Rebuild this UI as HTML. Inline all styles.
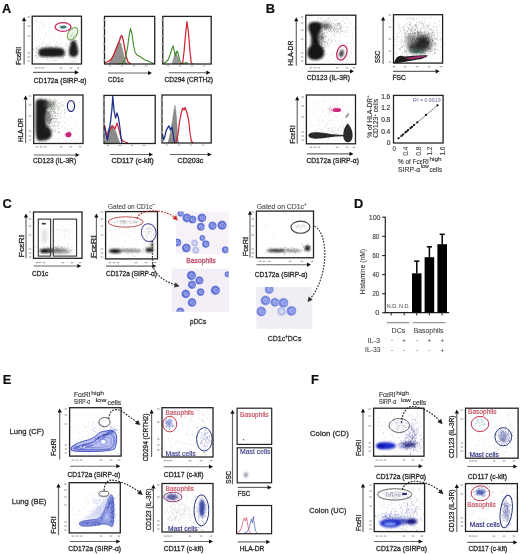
<!DOCTYPE html>
<html><head><meta charset="utf-8"><style>
html,body{margin:0;padding:0;background:#fff;}
svg{display:block;font-family:"Liberation Sans", sans-serif;will-change:transform;}
</style></head><body>
<svg width="520" height="554" viewBox="0 0 520 554">
<defs>
<filter id="soft" x="0" y="0" width="520" height="554" filterUnits="userSpaceOnUse"><feGaussianBlur stdDeviation="0.3"/></filter>
<filter id="b3" filterUnits="userSpaceOnUse" x="0" y="0" width="520" height="554"><feGaussianBlur stdDeviation="0.3"/></filter>
<filter id="b5" filterUnits="userSpaceOnUse" x="0" y="0" width="520" height="554"><feGaussianBlur stdDeviation="0.5"/></filter>
<filter id="b6" filterUnits="userSpaceOnUse" x="0" y="0" width="520" height="554"><feGaussianBlur stdDeviation="0.6"/></filter>
<filter id="b7" filterUnits="userSpaceOnUse" x="0" y="0" width="520" height="554"><feGaussianBlur stdDeviation="0.7"/></filter>
<filter id="b8" filterUnits="userSpaceOnUse" x="0" y="0" width="520" height="554"><feGaussianBlur stdDeviation="0.8"/></filter>
<filter id="b9" filterUnits="userSpaceOnUse" x="0" y="0" width="520" height="554"><feGaussianBlur stdDeviation="0.9"/></filter>
<filter id="b10" filterUnits="userSpaceOnUse" x="0" y="0" width="520" height="554"><feGaussianBlur stdDeviation="1.0"/></filter>
<filter id="b12" filterUnits="userSpaceOnUse" x="0" y="0" width="520" height="554"><feGaussianBlur stdDeviation="1.2"/></filter>
<filter id="b15" filterUnits="userSpaceOnUse" x="0" y="0" width="520" height="554"><feGaussianBlur stdDeviation="1.5"/></filter>
<filter id="b20" filterUnits="userSpaceOnUse" x="0" y="0" width="520" height="554"><feGaussianBlur stdDeviation="2.0"/></filter>
<radialGradient id="cell" cx="50%" cy="50%" r="50%"><stop offset="0" stop-color="#6f7fdc"/><stop offset="0.75" stop-color="#5c6cd2"/><stop offset="1" stop-color="#8e9ae4"/></radialGradient>
<radialGradient id="cellD" cx="50%" cy="50%" r="50%"><stop offset="0" stop-color="#8a98e6"/><stop offset="0.75" stop-color="#7282dc"/><stop offset="1" stop-color="#a4aeea"/></radialGradient>
<radialGradient id="cellL" cx="50%" cy="50%" r="50%"><stop offset="0" stop-color="#e4e6f8"/><stop offset="0.8" stop-color="#b0b8ec"/><stop offset="1" stop-color="#c8cef2"/></radialGradient>
</defs>
<rect width="520" height="554" fill="#fff"/>
<g filter="url(#soft)">
<text x="2" y="13.3" font-size="12.8" fill="#111" stroke="#111" stroke-width="0.2" font-weight="bold">A</text>
<text x="265.8" y="13.3" font-size="12.8" fill="#111" stroke="#111" stroke-width="0.2" font-weight="bold">B</text>
<text x="2.4" y="207.5" font-size="12.8" fill="#111" stroke="#111" stroke-width="0.2" font-weight="bold">C</text>
<text x="354" y="208.3" font-size="12.8" fill="#111" stroke="#111" stroke-width="0.2" font-weight="bold">D</text>
<text x="2.8" y="383.8" font-size="12.8" fill="#111" stroke="#111" stroke-width="0.2" font-weight="bold">E</text>
<text x="311" y="383.8" font-size="12.8" fill="#111" stroke="#111" stroke-width="0.2" font-weight="bold">F</text>
<path d="M48.5,23.9h0.7M64.2,20.3h0.7M58.7,33.8h0.7M35.8,40.3h0.7M34.8,36.9h0.7M36.4,21.2h0.7M53.4,55.0h0.7M38.9,27.3h0.7M63.1,60.6h0.7M60.7,35.2h0.7M79.9,19.1h0.7M74.2,30.3h0.7M39.9,22.4h0.7M47.8,54.5h0.7M41.7,43.8h0.7M63.7,34.1h0.7M59.3,19.9h0.7M35.9,26.5h0.7M65.7,36.7h0.7M48.1,43.9h0.7M54.8,30.8h0.7M71.1,49.2h0.7M44.7,43.4h0.7M58.2,57.3h0.7M68.0,30.2h0.7M80.0,22.4h0.7M53.1,51.8h0.7M40.3,39.5h0.7M34.9,47.7h0.7M69.7,43.4h0.7M75.0,31.4h0.7M66.4,44.3h0.7M60.8,38.0h0.7M73.3,60.5h0.7M55.8,47.6h0.7M35.9,49.3h0.7M64.1,62.7h0.7M72.5,30.1h0.7M51.5,47.8h0.7M34.1,38.2h0.7M41.1,22.4h0.7M35.8,52.3h0.7M39.2,28.4h0.7M51.8,57.1h0.7M36.9,37.7h0.7M59.4,57.6h0.7M72.3,56.7h0.7M46.4,36.1h0.7M50.2,57.7h0.7M79.0,23.9h0.7M41.5,27.7h0.7M44.2,39.3h0.7M61.3,29.1h0.7M33.2,36.3h0.7M50.7,43.1h0.7M78.7,48.8h0.7M57.7,45.4h0.7M65.5,19.5h0.7M76.2,52.9h0.7M75.0,53.7h0.7M51.8,35.4h0.7M38.0,46.2h0.7M36.0,20.1h0.7M43.0,24.5h0.7M49.3,19.4h0.7M33.0,24.0h0.7M37.9,33.7h0.7M34.2,57.2h0.7M62.5,23.8h0.7M45.1,33.0h0.7M50.5,22.7h0.7M73.7,62.7h0.7M55.4,39.3h0.7M37.1,21.7h0.7M49.4,29.2h0.7M72.8,24.4h0.7M34.1,60.7h0.7M58.4,23.7h0.7M59.1,18.2h0.7M58.3,62.0h0.7M74.4,49.0h0.7M45.5,33.9h0.7M41.0,52.5h0.7M58.6,52.8h0.7M48.8,27.3h0.7M72.0,62.3h0.7M73.9,54.1h0.7M72.3,51.0h0.7M43.9,40.8h0.7M50.1,18.3h0.7M34.3,29.9h0.7M45.4,48.9h0.7M78.9,37.6h0.7M78.0,62.4h0.7M78.8,33.8h0.7M43.6,27.4h0.7M42.4,26.4h0.7M63.0,58.4h0.7M73.3,39.1h0.7M64.3,53.8h0.7M37.1,47.4h0.7M76.7,53.0h0.7M69.0,39.0h0.7M41.6,53.3h0.7M49.0,53.8h0.7M79.6,35.2h0.7M52.3,60.6h0.7M67.8,24.8h0.7M39.1,24.0h0.7M76.4,54.1h0.7" stroke="#666" stroke-width="0.7" stroke-opacity="0.3"/>
<path d="M60.1,57.2h0.7M62.6,51.4h0.7M45.0,55.6h0.7M51.9,52.4h0.7M62.4,51.1h0.7M32.6,50.6h0.7M36.2,54.9h0.7M53.5,49.9h0.7M50.9,54.9h0.7M51.6,56.6h0.7M50.5,55.6h0.7M62.9,57.6h0.7M45.6,55.1h0.7M36.0,48.2h0.7M35.3,55.7h0.7M41.1,52.0h0.7M49.5,51.9h0.7M46.3,52.8h0.7M65.3,52.2h0.7M55.2,55.5h0.7M49.4,47.6h0.7M46.6,55.8h0.7M37.8,49.9h0.7M59.1,54.8h0.7M51.1,54.8h0.7M52.3,47.9h0.7M38.5,49.8h0.7M58.4,50.0h0.7M43.8,49.3h0.7M38.7,51.6h0.7M41.6,53.3h0.7M45.9,45.2h0.7M56.8,51.0h0.7M33.2,48.9h0.7M53.3,50.4h0.7M57.2,54.6h0.7M56.3,53.1h0.7M61.7,54.3h0.7M54.6,44.7h0.7M58.2,56.6h0.7M48.6,50.4h0.7M66.5,45.8h0.7M54.8,60.5h0.7M43.6,54.4h0.7M66.1,51.6h0.7M55.5,55.2h0.7M43.8,51.7h0.7M53.3,54.9h0.7M50.7,51.3h0.7M42.9,50.7h0.7M58.1,52.4h0.7M44.2,49.1h0.7M72.3,56.0h0.7M56.1,42.9h0.7M56.0,53.7h0.7M64.5,53.5h0.7M50.5,53.8h0.7M35.4,55.6h0.7M53.6,49.5h0.7M61.6,58.3h0.7M39.8,49.7h0.7M53.3,52.6h0.7M47.8,48.6h0.7M68.0,55.6h0.7M41.4,47.3h0.7M64.6,55.5h0.7M65.6,54.8h0.7M44.0,52.9h0.7M33.7,49.4h0.7M50.5,53.8h0.7M45.2,51.6h0.7M54.7,53.3h0.7M56.1,52.7h0.7M48.4,54.8h0.7M51.4,49.1h0.7M46.0,52.0h0.7M50.1,52.5h0.7M51.0,52.6h0.7M49.9,47.6h0.7M54.4,55.7h0.7M54.5,51.3h0.7M54.6,48.6h0.7M35.8,52.2h0.7M43.6,54.6h0.7M42.3,42.8h0.7M42.7,57.5h0.7M47.9,47.2h0.7M44.9,53.8h0.7M55.0,52.6h0.7M62.9,54.5h0.7M50.8,54.1h0.7M64.2,55.4h0.7M59.2,48.2h0.7M49.8,54.6h0.7M48.6,55.7h0.7M55.8,55.2h0.7M49.3,60.9h0.7M60.9,51.2h0.7M51.7,61.1h0.7M48.3,55.1h0.7M58.8,52.0h0.7M41.7,52.7h0.7M53.9,56.0h0.7M57.3,52.1h0.7M57.8,53.9h0.7M52.6,52.2h0.7M49.1,54.4h0.7M42.6,49.8h0.7M51.0,46.9h0.7M47.5,45.0h0.7M45.5,54.0h0.7M55.5,51.8h0.7M49.1,47.0h0.7M65.6,53.8h0.7M59.7,48.9h0.7M49.5,45.6h0.7M57.2,55.3h0.7M35.8,51.8h0.7M56.0,45.8h0.7M36.4,48.3h0.7M46.0,47.1h0.7M51.3,52.9h0.7M56.1,54.5h0.7M63.0,56.1h0.7M40.5,50.2h0.7M42.5,48.2h0.7M50.3,52.0h0.7M54.9,46.4h0.7M41.1,51.9h0.7M49.4,50.9h0.7M50.5,49.3h0.7M56.6,53.2h0.7M50.3,49.6h0.7M49.6,42.5h0.7M43.1,52.1h0.7M39.0,52.7h0.7M52.2,47.2h0.7M49.0,50.9h0.7M54.7,54.1h0.7M50.7,49.0h0.7M49.8,51.8h0.7M56.9,53.0h0.7M45.2,47.3h0.7M48.0,49.4h0.7M42.1,51.6h0.7M47.1,52.4h0.7M55.2,50.6h0.7M69.6,50.9h0.7M59.8,52.4h0.7M59.9,43.7h0.7M45.0,52.9h0.7M55.8,60.2h0.7M53.6,56.5h0.7M57.1,55.3h0.7M55.1,51.5h0.7M55.1,48.2h0.7M60.5,48.4h0.7M53.0,59.4h0.7M49.2,52.1h0.7M60.3,52.1h0.7M44.5,52.9h0.7M55.7,54.5h0.7M44.8,58.1h0.7M64.3,52.1h0.7M53.1,50.5h0.7M62.3,49.5h0.7M56.4,50.3h0.7M45.4,54.5h0.7M61.7,52.0h0.7M45.6,54.8h0.7M50.6,53.1h0.7M63.2,56.0h0.7M46.8,60.0h0.7M51.0,54.8h0.7M45.8,51.8h0.7M37.0,58.3h0.7M61.9,47.7h0.7M39.0,46.3h0.7M60.4,50.4h0.7M50.5,50.9h0.7M50.0,48.2h0.7M51.2,47.0h0.7M50.4,53.1h0.7M54.7,51.2h0.7M43.8,52.6h0.7M47.1,57.5h0.7M57.1,51.6h0.7M47.2,49.5h0.7M43.5,50.8h0.7M53.4,53.8h0.7M55.6,59.3h0.7M45.4,52.0h0.7M73.4,45.5h0.7M46.8,52.6h0.7M52.2,53.4h0.7M49.1,53.3h0.7M51.4,54.7h0.7M35.9,48.9h0.7M51.0,48.4h0.7M42.6,54.2h0.7M45.8,54.2h0.7M57.0,53.1h0.7M55.1,51.6h0.7M39.7,51.9h0.7M54.6,50.1h0.7M50.2,54.6h0.7M44.0,54.2h0.7M65.9,50.1h0.7M52.2,51.5h0.7M63.3,53.1h0.7M58.2,49.6h0.7M50.9,52.0h0.7M36.8,57.0h0.7M58.2,45.9h0.7M57.0,51.5h0.7M54.6,53.3h0.7M39.0,51.3h0.7M62.9,50.0h0.7M42.8,47.2h0.7" stroke="#333" stroke-width="0.7" stroke-opacity="0.5"/>
<path d="M39,50 C40,48 46,47.6 52,47.8 C58,47.6 63,48 64,50 C64.8,52 64.5,55 63,56.3 C58,56.8 46,56.8 40,56.5 C38.2,55 38.2,52 39,50 Z" fill="#1a1a1a" filter="url(#b10)"/>
<path d="M71.5,41 C73,40.2 75.5,40.5 76,42 C76.5,45 77.5,48 78,51 C78.3,54 77.5,56.5 74,56.8 C70.5,57 69,55.5 69,52 C69,48 70.5,45 71.5,41 Z" fill="#1a1a1a" filter="url(#b10)"/>
<path d="M70.1,50.8h0.7M78.2,51.4h0.7M74.2,61.3h0.7M72.0,45.3h0.7M75.0,52.0h0.7M70.7,42.6h0.7M74.3,50.4h0.7M69.8,47.9h0.7M72.0,51.5h0.7M73.2,48.5h0.7M72.5,54.8h0.7M77.4,47.0h0.7M75.9,44.8h0.7M73.7,53.1h0.7M77.7,46.9h0.7M73.3,50.1h0.7M69.3,49.1h0.7M71.6,51.0h0.7M70.3,38.1h0.7M73.6,50.4h0.7M72.0,53.9h0.7M72.7,45.7h0.7M74.8,40.4h0.7M71.6,48.9h0.7M75.9,48.1h0.7M74.4,45.4h0.7M74.3,58.1h0.7M71.6,62.0h0.7M71.7,49.1h0.7M74.0,54.6h0.7M70.0,37.4h0.7M75.2,53.4h0.7M75.2,63.5h0.7M74.1,50.4h0.7M76.1,51.0h0.7M78.2,42.2h0.7M72.4,30.1h0.7M75.8,47.0h0.7M76.1,60.8h0.7M73.5,47.6h0.7M72.1,44.4h0.7M71.7,52.5h0.7M73.6,49.4h0.7M73.0,54.0h0.7M74.9,48.2h0.7M75.4,48.2h0.7M70.3,57.0h0.7M74.8,43.7h0.7M76.5,50.9h0.7M69.1,57.9h0.7M74.4,53.9h0.7M74.1,48.2h0.7M69.2,54.3h0.7M73.6,47.4h0.7M74.5,49.4h0.7M75.4,47.0h0.7M73.4,37.2h0.7M72.3,52.7h0.7M77.2,47.0h0.7M73.2,57.7h0.7M72.6,53.0h0.7M78.2,49.2h0.7M76.9,45.1h0.7M74.1,48.6h0.7M73.8,55.2h0.7M80.2,45.3h0.7M71.9,51.7h0.7M70.5,51.7h0.7M75.1,47.5h0.7M75.0,40.5h0.7M75.6,40.5h0.7M71.5,45.9h0.7M72.4,53.7h0.7M73.7,46.8h0.7M75.0,57.7h0.7M73.5,51.0h0.7M77.0,50.5h0.7M69.9,62.7h0.7M79.7,38.1h0.7M73.4,51.3h0.7M76.2,52.7h0.7M72.7,43.2h0.7M73.8,54.7h0.7M70.4,43.4h0.7M73.4,38.3h0.7M72.8,46.6h0.7M74.8,45.1h0.7M71.0,46.8h0.7M73.4,45.3h0.7M73.5,53.1h0.7" stroke="#333" stroke-width="0.7" stroke-opacity="0.5"/>
<ellipse cx="63.2" cy="27" rx="3.2" ry="1.5" fill="#3f7a80" fill-opacity="1.0" filter="url(#b6)"/>
<path d="M66.0,29.0h0.7M61.0,26.5h0.7M56.8,29.3h0.7M61.2,27.0h0.7M64.3,25.4h0.7M64.2,27.0h0.7M58.4,27.4h0.7M66.0,24.8h0.7M65.0,27.3h0.7M64.2,27.5h0.7M66.3,26.7h0.7M65.2,26.5h0.7M64.8,26.0h0.7M62.7,29.1h0.7M64.1,26.8h0.7M60.1,26.1h0.7M63.5,28.1h0.7M64.1,27.6h0.7M62.9,28.6h0.7M62.0,26.3h0.7M65.2,27.1h0.7M62.3,26.3h0.7M62.4,27.7h0.7M63.9,25.5h0.7M64.1,27.2h0.7" stroke="#4a8a8a" stroke-width="0.7" stroke-opacity="0.6"/>
<ellipse cx="63" cy="27" rx="8" ry="4.3" fill="none" stroke="#c42a6a" stroke-width="1.3"/>
<path d="M70.7,35.9h0.7M72.0,33.2h0.7M73.9,37.3h0.7M71.3,35.1h0.7M70.9,39.8h0.7M71.6,37.0h0.7M71.3,36.0h0.7M76.5,27.6h0.7M71.7,35.3h0.7M72.3,32.3h0.7M76.4,34.2h0.7M69.5,36.1h0.7M69.4,36.9h0.7M71.5,34.4h0.7M74.8,34.3h0.7M70.0,29.8h0.7M74.6,35.9h0.7M71.0,36.1h0.7M73.4,35.6h0.7M68.4,33.2h0.7M74.1,35.8h0.7M74.1,27.9h0.7M72.8,35.2h0.7M77.1,31.6h0.7M71.9,34.1h0.7" stroke="#7a9a7a" stroke-width="0.7" stroke-opacity="0.6"/>
<ellipse cx="72.6" cy="33.7" rx="4.2" ry="7" fill="rgba(200,230,190,0.35)" stroke="#78a858" stroke-width="1.1" transform="rotate(35 72.6 33.7)"/>
<rect x="32.2" y="16.2" width="49.3" height="47.8" fill="none" stroke="#222" stroke-width="1.3"/>
<line x1="24.1" y1="64.5" x2="24.1" y2="19.9" stroke="#666" stroke-width="1.15"/>
<path d="M22,20.9 L24.1,16.9 L26.2,20.9 Z" fill="#111"/>
<line x1="33" y1="72.4" x2="75.9" y2="72.4" stroke="#666" stroke-width="1.15"/>
<path d="M74.9,70.3 L78.9,72.4 L74.9,74.5 Z" fill="#111"/>
<rect x="27.5" y="16.4" width="2.6" height="1.2" fill="#aaa"/>
<rect x="27.5" y="25.4" width="2.6" height="1.2" fill="#aaa"/>
<rect x="27.5" y="35.4" width="2.6" height="1.2" fill="#aaa"/>
<rect x="27.5" y="52.4" width="2.6" height="1.2" fill="#aaa"/>
<rect x="27.5" y="56.4" width="2.6" height="1.2" fill="#aaa"/>
<rect x="27.5" y="60.4" width="2.6" height="1.2" fill="#aaa"/>
<rect x="34.7" y="67.3" width="2.6" height="1.2" fill="#aaa"/>
<rect x="38.2" y="67.3" width="2.6" height="1.2" fill="#aaa"/>
<rect x="41.7" y="67.3" width="2.6" height="1.2" fill="#aaa"/>
<rect x="59.7" y="67.3" width="2.6" height="1.2" fill="#aaa"/>
<rect x="69.7" y="67.3" width="2.6" height="1.2" fill="#aaa"/>
<rect x="76.7" y="67.3" width="2.6" height="1.2" fill="#aaa"/>
<text x="21" y="65" font-size="6.8" fill="#2a2a2a" stroke="#2a2a2a" stroke-width="0.3" textLength="18.3" lengthAdjust="spacingAndGlyphs" transform="rotate(-90 21 65)">FcεRI</text>
<text x="33.7" y="83" font-size="6.8" fill="#2a2a2a" stroke="#2a2a2a" stroke-width="0.3" textLength="52.8" lengthAdjust="spacingAndGlyphs">CD172a (SIRP-α)</text>
<path d="M108,64 L111,60 L114,54 L117,46 L119,40.7 L121,44 L123,52 L125,60 L127,64" fill="#959090" fill-opacity="1" stroke="#888" stroke-width="0.6" stroke-linejoin="round"/>
<path d="M104.5,63 L107,62 L110,60.5 L112,58 L114,54 L116,49 L118,44 L119.5,41 L120.5,37 L121.8,35.5 L123,39 L124.5,47 L126,56 L128,62 L131,64" fill="none" fill-opacity="1" stroke="#c82030" stroke-width="1.3" stroke-linejoin="round"/>
<path d="M118,64 L123,63 L125.5,58 L127.5,48 L129,36 L130.5,28.5 L132,34 L133.5,45 L135,52 L137,55 L139,56 L142,58 L145,60 L148,61 L151,62.5 L154,63.5" fill="none" fill-opacity="1" stroke="#3f8a2a" stroke-width="1.1" stroke-linejoin="round"/>
<rect x="104.5" y="16.4" width="50.2" height="47.6" fill="none" stroke="#222" stroke-width="1.3"/>
<line x1="108" y1="73" x2="149" y2="73" stroke="#666" stroke-width="1.15"/>
<path d="M148,70.9 L152,73 L148,75.1 Z" fill="#111"/>
<rect x="102.8" y="19.4" width="2.6" height="1.2" fill="#bbb"/>
<rect x="102.8" y="27.4" width="2.6" height="1.2" fill="#bbb"/>
<rect x="102.8" y="35.4" width="2.6" height="1.2" fill="#bbb"/>
<rect x="102.8" y="43.4" width="2.6" height="1.2" fill="#bbb"/>
<rect x="102.8" y="51.4" width="2.6" height="1.2" fill="#bbb"/>
<rect x="102.8" y="59.4" width="2.6" height="1.2" fill="#bbb"/>
<rect x="108.7" y="65.3" width="2.6" height="1.2" fill="#bbb"/>
<rect x="120.7" y="65.3" width="2.6" height="1.2" fill="#bbb"/>
<rect x="132.7" y="65.3" width="2.6" height="1.2" fill="#bbb"/>
<rect x="144.7" y="65.3" width="2.6" height="1.2" fill="#bbb"/>
<text x="108" y="82" font-size="6.8" fill="#2a2a2a" stroke="#2a2a2a" stroke-width="0.3" textLength="15.5" lengthAdjust="spacingAndGlyphs">CD1c</text>
<path d="M172,64 L174,57 L175.5,52 L177,55 L178.5,58 L180,64" fill="#999" fill-opacity="1" stroke="#888" stroke-width="0.5" stroke-linejoin="round"/>
<path d="M163,63.5 L166,62 L168,60 L170,55 L171.5,50 L173.2,45.8 L174.5,52 L175.5,56 L177,51 L178.5,54 L179.5,60 L181,63 L184,63.5 L186,62.5 L188,63.5" fill="none" fill-opacity="1" stroke="#3f8a2a" stroke-width="1.1" stroke-linejoin="round"/>
<path d="M180,64 L182.7,63 L184,52 L185.5,35 L187,21.6 L188.5,33 L190,52 L191.3,63 L193,64" fill="none" fill-opacity="1" stroke="#d02030" stroke-width="1.2" stroke-linejoin="round"/>
<rect x="162.8" y="16.4" width="48.4" height="47.6" fill="none" stroke="#222" stroke-width="1.3"/>
<line x1="168.8" y1="72.7" x2="207.4" y2="72.7" stroke="#666" stroke-width="1.15"/>
<path d="M206.4,70.6 L210.4,72.7 L206.4,74.8 Z" fill="#111"/>
<rect x="161" y="19.4" width="2.6" height="1.2" fill="#bbb"/>
<rect x="161" y="27.4" width="2.6" height="1.2" fill="#bbb"/>
<rect x="161" y="35.4" width="2.6" height="1.2" fill="#bbb"/>
<rect x="161" y="43.4" width="2.6" height="1.2" fill="#bbb"/>
<rect x="161" y="51.4" width="2.6" height="1.2" fill="#bbb"/>
<rect x="161" y="59.4" width="2.6" height="1.2" fill="#bbb"/>
<rect x="166.7" y="65.3" width="2.6" height="1.2" fill="#bbb"/>
<rect x="178.7" y="65.3" width="2.6" height="1.2" fill="#bbb"/>
<rect x="190.7" y="65.3" width="2.6" height="1.2" fill="#bbb"/>
<rect x="202.7" y="65.3" width="2.6" height="1.2" fill="#bbb"/>
<text x="164.5" y="82" font-size="6.8" fill="#2a2a2a" stroke="#2a2a2a" stroke-width="0.3" textLength="48.5" lengthAdjust="spacingAndGlyphs">CD294 (CRTH2)</text>
<path d="M78.5,113.8h0.7M77.4,124.5h0.7M73.6,103.4h0.7M71.7,106.2h0.7M53.4,134.9h0.7M73.8,104.4h0.7M44.5,114.4h0.7M58.9,113.6h0.7M39.9,107.4h0.7M68.8,137.3h0.7M36.0,121.9h0.7M70.4,97.8h0.7M74.2,101.4h0.7M62.8,121.3h0.7M64.1,110.1h0.7M54.2,122.8h0.7M54.4,126.3h0.7M55.4,116.2h0.7M35.1,124.5h0.7M57.5,106.8h0.7M70.7,131.9h0.7M56.0,104.3h0.7M56.7,100.9h0.7M40.2,115.8h0.7M38.4,116.3h0.7M58.5,97.9h0.7M64.5,99.8h0.7M69.2,131.8h0.7M58.6,98.5h0.7M58.2,113.4h0.7M79.6,102.3h0.7M75.1,141.8h0.7M69.1,133.5h0.7M43.3,141.2h0.7M57.6,140.0h0.7M78.0,103.6h0.7M71.8,138.8h0.7M37.1,112.1h0.7M70.3,103.3h0.7M77.0,108.6h0.7M73.2,102.6h0.7M58.1,138.3h0.7M44.0,108.1h0.7M58.3,110.7h0.7M35.8,104.4h0.7M41.7,139.1h0.7M66.6,137.2h0.7M42.1,132.1h0.7M39.5,120.4h0.7M64.5,112.5h0.7M75.9,121.5h0.7M61.8,136.6h0.7M39.0,141.7h0.7M64.2,114.1h0.7M72.3,108.2h0.7M81.5,122.6h0.7M51.3,131.2h0.7M55.2,104.1h0.7M69.7,98.2h0.7M73.4,107.7h0.7M64.7,141.3h0.7M62.1,126.5h0.7M49.0,96.1h0.7M35.6,102.9h0.7M63.6,115.9h0.7M58.6,137.2h0.7M40.3,106.5h0.7M65.3,97.0h0.7M34.1,112.3h0.7M39.1,112.4h0.7M44.8,122.8h0.7M62.3,105.4h0.7M63.9,117.8h0.7M40.5,139.1h0.7M45.7,102.9h0.7M38.6,125.4h0.7M75.8,132.0h0.7M53.3,108.2h0.7M34.6,125.7h0.7M61.0,112.1h0.7M65.0,116.4h0.7M79.0,129.7h0.7M45.9,137.6h0.7M36.1,120.5h0.7M53.5,106.9h0.7M36.8,131.8h0.7M34.6,121.3h0.7M79.2,102.5h0.7M43.6,124.0h0.7M58.3,125.5h0.7M73.0,104.0h0.7M48.9,109.8h0.7M36.3,136.9h0.7M71.6,128.9h0.7M34.3,134.8h0.7M69.8,117.4h0.7M69.6,116.8h0.7M44.8,100.8h0.7M45.2,97.8h0.7M50.1,130.5h0.7M67.4,134.9h0.7M68.2,108.2h0.7M60.6,116.1h0.7M71.8,120.1h0.7M46.7,125.5h0.7M80.3,106.0h0.7M76.2,96.7h0.7M46.5,106.9h0.7M69.7,139.5h0.7M69.8,111.0h0.7M76.2,111.1h0.7M45.5,137.7h0.7M64.3,127.9h0.7M65.9,141.0h0.7M56.5,134.6h0.7M67.5,135.4h0.7M55.0,129.3h0.7M61.4,110.2h0.7M44.2,124.6h0.7M37.7,137.9h0.7M40.9,97.2h0.7M39.1,138.7h0.7M50.6,102.5h0.7M35.4,97.9h0.7M67.2,125.2h0.7M67.5,129.9h0.7M37.2,123.2h0.7M51.4,133.6h0.7M73.3,137.0h0.7M37.2,135.9h0.7M77.9,139.4h0.7M39.1,105.5h0.7M39.4,97.6h0.7M74.7,133.4h0.7M64.4,134.0h0.7M64.3,109.2h0.7M38.8,100.5h0.7M70.4,105.4h0.7M49.3,115.5h0.7M35.0,107.8h0.7M47.6,128.9h0.7M51.7,110.8h0.7M80.3,119.2h0.7M74.9,124.4h0.7M35.5,115.0h0.7M54.9,131.6h0.7M50.6,128.4h0.7M59.8,106.0h0.7M75.4,100.2h0.7M73.4,103.8h0.7M34.1,105.3h0.7M70.6,141.0h0.7M34.2,118.6h0.7M57.6,132.7h0.7M42.9,118.8h0.7M50.7,134.3h0.7M46.5,139.4h0.7M47.6,105.9h0.7M67.6,118.9h0.7M39.3,125.3h0.7" stroke="#555" stroke-width="0.7" stroke-opacity="0.3"/>
<path d="M61.2,107.6h0.7M48.6,100.0h0.7M48.1,103.0h0.7M47.1,106.7h0.7M54.0,104.2h0.7M53.0,104.6h0.7M53.3,107.3h0.7M57.8,102.9h0.7M43.0,109.3h0.7M52.7,108.3h0.7M42.1,104.0h0.7M52.2,100.7h0.7M48.9,107.2h0.7M58.5,109.8h0.7M46.8,100.8h0.7M55.1,107.8h0.7M53.2,101.1h0.7M56.7,107.4h0.7M55.3,103.5h0.7M53.8,107.4h0.7M48.6,99.5h0.7M54.0,106.4h0.7M52.1,107.7h0.7M48.5,104.8h0.7M50.2,106.7h0.7M61.6,104.2h0.7M64.3,109.6h0.7M56.7,106.8h0.7M62.6,104.5h0.7M51.3,101.8h0.7M54.8,109.0h0.7M55.2,106.3h0.7M50.8,105.5h0.7M43.4,108.1h0.7M49.5,101.7h0.7M47.5,102.5h0.7M57.1,108.2h0.7M43.9,107.8h0.7M57.3,103.3h0.7M43.1,102.8h0.7M48.2,106.0h0.7M49.9,98.9h0.7M53.4,100.4h0.7M57.4,101.4h0.7M47.8,102.4h0.7M48.7,108.9h0.7M57.1,106.8h0.7M53.9,100.4h0.7M48.9,103.3h0.7M46.1,106.5h0.7M47.6,102.9h0.7M45.7,98.8h0.7M55.6,109.0h0.7M53.0,102.1h0.7M35.8,105.5h0.7M59.3,105.9h0.7M57.6,109.4h0.7M58.8,103.7h0.7M58.3,107.3h0.7M42.8,103.8h0.7M43.5,104.7h0.7M55.5,101.8h0.7M39.7,108.9h0.7M54.3,109.4h0.7M44.1,108.2h0.7M64.4,111.0h0.7M50.7,105.8h0.7M51.1,108.0h0.7M58.2,105.3h0.7M43.8,107.2h0.7M49.2,106.9h0.7M53.6,109.9h0.7M58.8,103.6h0.7M54.1,110.3h0.7M48.8,106.3h0.7M59.1,108.8h0.7M55.1,101.0h0.7M44.4,105.7h0.7M54.3,112.6h0.7M46.8,108.4h0.7M56.6,100.0h0.7M47.1,105.5h0.7M49.0,104.5h0.7M54.8,102.6h0.7M54.8,103.1h0.7M48.7,106.6h0.7M48.6,105.9h0.7M61.6,105.1h0.7M51.1,107.2h0.7M49.8,108.2h0.7M44.3,106.9h0.7M48.9,102.6h0.7M62.6,102.4h0.7M62.5,107.0h0.7M60.7,102.1h0.7M59.2,109.4h0.7M51.3,104.6h0.7M66.7,105.5h0.7M49.5,103.1h0.7M54.7,106.0h0.7M53.1,110.2h0.7M50.0,106.4h0.7M60.8,102.0h0.7M58.2,110.5h0.7M43.9,101.7h0.7M45.8,99.5h0.7M54.7,99.4h0.7M55.0,109.4h0.7M42.3,104.1h0.7M40.5,107.3h0.7M47.6,104.2h0.7M52.3,106.6h0.7M49.9,105.0h0.7M48.7,105.3h0.7M45.0,105.2h0.7M40.4,103.5h0.7M63.5,105.2h0.7M44.4,105.8h0.7M46.2,100.0h0.7M47.6,107.2h0.7M54.3,104.7h0.7M46.4,101.8h0.7M60.1,105.7h0.7M46.3,98.7h0.7M43.8,112.4h0.7M45.1,104.8h0.7M53.3,104.5h0.7M50.3,100.9h0.7M45.7,110.1h0.7M47.5,107.5h0.7M41.8,104.2h0.7M53.6,108.1h0.7M45.3,106.8h0.7M54.3,102.8h0.7M54.9,102.3h0.7M47.2,104.9h0.7M35.7,104.7h0.7M46.0,100.6h0.7M49.4,107.3h0.7M49.6,108.8h0.7" stroke="#6a8a5a" stroke-width="0.7" stroke-opacity="0.5"/>
<path d="M43.2,107.5h0.7M56.8,121.2h0.7M53.7,111.4h0.7M53.0,120.1h0.7M52.2,118.2h0.7M55.0,112.8h0.7M44.2,106.2h0.7M54.8,112.1h0.7M43.8,110.5h0.7M46.8,107.8h0.7M47.5,113.0h0.7M46.2,110.3h0.7M49.2,114.3h0.7M49.6,120.0h0.7M50.7,100.5h0.7M46.3,111.6h0.7M52.9,105.4h0.7M45.4,115.6h0.7M47.3,125.9h0.7M46.8,125.7h0.7M41.7,103.5h0.7M55.1,121.5h0.7M51.4,119.0h0.7M51.4,108.3h0.7M53.7,113.7h0.7M53.9,118.7h0.7M39.1,107.7h0.7M54.6,116.9h0.7M47.0,119.9h0.7M46.9,113.6h0.7M49.5,119.2h0.7M56.6,118.4h0.7M58.4,132.4h0.7M57.6,126.5h0.7M49.7,119.1h0.7M48.3,112.2h0.7M48.7,112.9h0.7M57.2,122.3h0.7M46.8,102.7h0.7M48.7,114.7h0.7M43.6,108.9h0.7M37.7,122.6h0.7M48.7,138.6h0.7M48.8,116.8h0.7M56.2,119.1h0.7M49.8,115.0h0.7M46.0,130.0h0.7M54.0,131.7h0.7M47.3,118.2h0.7M44.6,125.7h0.7M42.0,122.5h0.7M54.5,129.3h0.7M44.3,126.7h0.7M45.4,111.9h0.7M42.4,127.2h0.7M57.2,113.2h0.7M45.2,115.3h0.7M61.5,126.0h0.7M46.3,103.6h0.7M45.6,127.5h0.7M58.3,115.9h0.7M45.5,113.9h0.7M39.6,125.3h0.7M43.6,126.5h0.7M40.5,107.8h0.7M50.4,111.9h0.7M52.9,118.1h0.7M43.1,123.0h0.7M53.2,102.7h0.7M58.1,122.0h0.7M52.8,103.1h0.7M45.4,115.2h0.7M54.4,106.3h0.7M44.6,101.8h0.7M47.8,120.8h0.7M40.6,113.3h0.7M51.6,130.7h0.7M52.3,115.6h0.7M43.1,110.5h0.7M45.7,119.2h0.7M48.8,131.3h0.7M50.4,109.4h0.7M56.7,125.6h0.7M49.5,112.2h0.7M39.6,109.8h0.7M53.6,111.6h0.7M42.4,119.6h0.7M50.2,122.9h0.7M52.3,129.3h0.7M44.8,125.8h0.7M44.1,123.6h0.7M49.9,119.9h0.7M53.8,117.9h0.7M54.6,125.0h0.7M49.7,113.5h0.7M45.2,113.8h0.7M48.0,117.8h0.7M63.9,123.1h0.7M52.8,111.1h0.7M45.4,115.4h0.7M50.0,109.7h0.7M57.1,113.5h0.7M54.4,99.3h0.7M49.0,120.2h0.7M50.0,122.8h0.7M50.4,119.3h0.7M39.5,112.3h0.7M37.3,123.0h0.7M50.5,116.4h0.7M44.9,113.3h0.7M58.2,131.8h0.7M48.7,128.3h0.7M41.1,102.5h0.7M46.6,111.0h0.7M46.2,119.5h0.7M64.1,112.7h0.7M49.2,120.2h0.7M48.8,125.4h0.7M57.9,108.1h0.7M49.8,115.9h0.7M50.8,105.7h0.7M40.2,99.5h0.7M51.6,119.5h0.7M49.4,99.1h0.7M47.1,112.0h0.7M41.9,110.7h0.7M52.5,122.4h0.7M48.9,122.1h0.7M46.0,118.6h0.7M49.2,122.4h0.7M48.7,116.9h0.7M48.3,112.8h0.7M60.2,122.1h0.7M51.1,136.3h0.7M56.0,105.5h0.7M52.5,124.7h0.7M58.4,128.5h0.7M52.9,108.6h0.7M44.6,120.2h0.7M51.5,109.8h0.7M47.1,114.8h0.7M49.3,120.7h0.7M47.6,108.1h0.7M55.2,130.8h0.7M48.5,126.2h0.7M51.2,123.3h0.7M51.4,111.9h0.7M51.9,126.1h0.7M44.5,133.7h0.7M59.4,132.6h0.7M58.9,123.9h0.7M47.3,113.2h0.7M44.9,118.9h0.7M48.8,123.4h0.7M38.9,136.5h0.7M60.4,117.8h0.7M52.4,121.8h0.7M50.4,116.3h0.7M48.4,111.4h0.7M49.9,117.8h0.7M50.6,111.2h0.7M49.2,118.4h0.7M52.0,109.5h0.7M51.1,125.9h0.7M52.0,115.1h0.7M46.5,116.1h0.7M52.6,130.4h0.7M48.2,112.9h0.7M50.9,119.6h0.7M44.5,112.1h0.7M48.5,123.4h0.7M43.0,109.9h0.7M51.5,108.2h0.7M49.5,120.8h0.7M48.4,109.9h0.7M48.7,115.3h0.7M50.7,111.3h0.7M54.5,104.6h0.7M48.1,118.1h0.7M53.8,113.1h0.7M51.7,113.5h0.7M52.7,131.9h0.7M47.0,121.5h0.7M44.4,125.8h0.7M55.1,118.3h0.7M43.3,121.2h0.7M54.7,126.7h0.7M53.1,103.4h0.7M45.6,129.4h0.7M42.9,127.1h0.7M58.4,124.1h0.7M54.6,115.3h0.7M42.9,117.2h0.7M48.0,117.6h0.7M52.5,116.8h0.7M50.0,121.4h0.7M49.0,132.7h0.7M51.2,118.7h0.7M48.0,113.0h0.7M55.7,119.2h0.7M43.6,113.5h0.7M48.3,114.4h0.7M54.4,108.7h0.7M51.5,119.1h0.7M43.1,118.4h0.7M48.5,122.0h0.7M46.7,120.4h0.7M40.7,109.3h0.7M52.9,126.3h0.7M48.9,113.2h0.7M54.4,101.3h0.7M45.0,123.4h0.7M52.3,109.7h0.7M39.6,129.6h0.7M49.8,110.8h0.7M49.3,125.2h0.7M36.0,126.9h0.7M52.7,101.4h0.7M52.9,103.8h0.7M54.7,121.2h0.7M60.3,113.1h0.7M49.0,126.4h0.7M45.8,112.4h0.7M47.1,117.4h0.7M43.6,121.9h0.7M51.7,118.6h0.7M57.5,115.4h0.7M55.5,113.6h0.7M52.8,102.5h0.7M50.0,116.6h0.7M46.5,113.1h0.7M47.3,112.2h0.7M38.0,113.2h0.7M46.3,113.8h0.7M43.7,116.9h0.7M52.9,116.0h0.7M46.5,128.9h0.7M53.9,125.4h0.7M54.8,115.4h0.7M48.4,126.9h0.7M46.2,117.0h0.7M50.9,121.0h0.7M47.6,125.9h0.7M48.1,123.8h0.7M54.4,123.3h0.7M52.7,108.7h0.7M42.4,113.1h0.7M51.4,130.0h0.7M42.9,120.5h0.7M44.7,112.1h0.7M47.6,123.5h0.7M50.1,127.4h0.7M44.1,125.1h0.7M53.7,118.6h0.7M51.4,113.5h0.7M43.6,114.8h0.7M45.8,141.1h0.7M46.6,131.2h0.7M50.0,120.5h0.7M52.7,111.8h0.7" stroke="#333" stroke-width="0.7" stroke-opacity="0.55"/>
<path d="M36,100.5 C39,98.8 45,99 47.5,101 C49,104 47.5,108 46.5,111 C45.5,115 45.5,121 46.5,126 C50,127.5 52,131 51.5,135 C50.5,140 44,141.2 38,140.5 C35.8,139 35.5,131 35.7,121 C35.7,111 35.7,104 36,100.5 Z" fill="#1e1e1e" filter="url(#b10)"/>
<ellipse cx="49" cy="104.5" rx="5" ry="3.5" fill="#555" fill-opacity="0.7" filter="url(#b15)"/>
<ellipse cx="48" cy="118" rx="3" ry="7" fill="#555" fill-opacity="0.6" filter="url(#b15)"/>
<ellipse cx="68.4" cy="134.7" rx="3" ry="2.5" fill="#d02a80" fill-opacity="1.0" filter="url(#b7)"/>
<path d="M69.9,135.2h0.7M66.0,135.5h0.7M69.3,135.3h0.7M70.9,134.1h0.7M69.2,135.7h0.7M67.0,136.4h0.7M66.1,132.9h0.7M69.2,133.2h0.7M68.2,132.4h0.7M68.5,133.1h0.7M68.9,132.6h0.7M69.1,134.3h0.7M68.5,134.6h0.7M68.6,132.9h0.7M64.3,134.7h0.7M66.9,134.1h0.7M69.1,131.9h0.7M67.2,133.8h0.7M66.7,135.2h0.7M68.2,133.6h0.7M66.8,135.8h0.7M67.3,135.5h0.7M69.1,132.0h0.7M66.7,134.7h0.7M68.9,135.8h0.7M69.7,136.1h0.7M67.8,134.4h0.7M69.6,134.1h0.7M70.1,132.5h0.7M69.4,134.5h0.7" stroke="#c02070" stroke-width="0.7" stroke-opacity="0.7"/>
<ellipse cx="71" cy="106" rx="3.6" ry="5.4" fill="none" stroke="#232a80" stroke-width="1.2"/>
<rect x="33.7" y="95" width="49.3" height="48.5" fill="none" stroke="#222" stroke-width="1.3"/>
<line x1="25.6" y1="143" x2="25.6" y2="98.4" stroke="#666" stroke-width="1.15"/>
<path d="M23.5,99.4 L25.6,95.4 L27.7,99.4 Z" fill="#111"/>
<line x1="33.7" y1="155" x2="76.6" y2="155" stroke="#666" stroke-width="1.15"/>
<path d="M75.6,152.9 L79.6,155 L75.6,157.1 Z" fill="#111"/>
<rect x="28.7" y="95.4" width="2.6" height="1.2" fill="#aaa"/>
<rect x="28.7" y="104.4" width="2.6" height="1.2" fill="#aaa"/>
<rect x="28.7" y="115.4" width="2.6" height="1.2" fill="#aaa"/>
<rect x="28.7" y="130.4" width="2.6" height="1.2" fill="#aaa"/>
<rect x="28.7" y="135.4" width="2.6" height="1.2" fill="#aaa"/>
<rect x="28.7" y="139.4" width="2.6" height="1.2" fill="#aaa"/>
<rect x="35.7" y="146.2" width="2.6" height="1.2" fill="#aaa"/>
<rect x="39.7" y="146.2" width="2.6" height="1.2" fill="#aaa"/>
<rect x="43.7" y="146.2" width="2.6" height="1.2" fill="#aaa"/>
<rect x="59.7" y="146.2" width="2.6" height="1.2" fill="#aaa"/>
<rect x="69.7" y="146.2" width="2.6" height="1.2" fill="#aaa"/>
<rect x="78.7" y="146.2" width="2.6" height="1.2" fill="#aaa"/>
<text x="22.5" y="142" font-size="6.6" fill="#2a2a2a" stroke="#2a2a2a" stroke-width="0.3" textLength="24" lengthAdjust="spacingAndGlyphs" transform="rotate(-90 22.5 142)">HLA-DR</text>
<text x="33" y="162.5" font-size="6.8" fill="#2a2a2a" stroke="#2a2a2a" stroke-width="0.3" textLength="43.1" lengthAdjust="spacingAndGlyphs">CD123 (IL-3R)</text>
<path d="M104.5,143.5 L106,135 L108,130 L110,127 L112,124.8 L114,128 L116,132 L118,138 L120,143.5" fill="#8a8a8a" fill-opacity="1" stroke="#888" stroke-width="0.5" stroke-linejoin="round"/>
<path d="M104.5,125 L106,132 L107.5,138 L109,132 L111,128 L113,126 L115,129 L117,123 L119,130 L121,138 L123,141 L125,142 L128,143" fill="none" fill-opacity="1" stroke="#d02030" stroke-width="1.1" stroke-linejoin="round"/>
<path d="M104.5,126.5 L106,135 L107.5,140 L109,130 L110.5,122 L112,108 L112.8,96.2 L114,110 L115.5,118 L117,113 L118.5,118 L120,128 L121,138 L122,143" fill="none" fill-opacity="1" stroke="#22308a" stroke-width="1.3" stroke-linejoin="round"/>
<rect x="104" y="95.4" width="51.2" height="48.1" fill="none" stroke="#222" stroke-width="1.3"/>
<line x1="109.7" y1="154.5" x2="150" y2="154.5" stroke="#666" stroke-width="1.15"/>
<path d="M149,152.4 L153,154.5 L149,156.6 Z" fill="#111"/>
<rect x="102.3" y="99.4" width="2.6" height="1.2" fill="#bbb"/>
<rect x="102.3" y="107.4" width="2.6" height="1.2" fill="#bbb"/>
<rect x="102.3" y="115.4" width="2.6" height="1.2" fill="#bbb"/>
<rect x="102.3" y="123.4" width="2.6" height="1.2" fill="#bbb"/>
<rect x="102.3" y="131.4" width="2.6" height="1.2" fill="#bbb"/>
<rect x="102.3" y="139.4" width="2.6" height="1.2" fill="#bbb"/>
<rect x="106.7" y="144.8" width="2.6" height="1.2" fill="#bbb"/>
<rect x="118.7" y="144.8" width="2.6" height="1.2" fill="#bbb"/>
<rect x="130.7" y="144.8" width="2.6" height="1.2" fill="#bbb"/>
<rect x="142.7" y="144.8" width="2.6" height="1.2" fill="#bbb"/>
<text x="111.4" y="163.2" font-size="6.8" fill="#2a2a2a" stroke="#2a2a2a" stroke-width="0.3" textLength="42.4" lengthAdjust="spacingAndGlyphs">CD117 (c-kit)</text>
<path d="M168,143 L170.6,132 L172.5,120 L174,110 L175,105 L176,112 L177,125 L177.5,135 L178.5,143" fill="#8a8a8a" fill-opacity="1" stroke="#888" stroke-width="0.5" stroke-linejoin="round"/>
<path d="M162.5,134 L163.5,140 L165,136 L166,131 L167.5,128 L169,126 L170.5,130 L172,127 L173,133 L174,140 L175,142" fill="none" fill-opacity="1" stroke="#22308a" stroke-width="1.3" stroke-linejoin="round"/>
<path d="M174,143 L176.5,141 L178,134 L179.5,122 L181,114 L182.7,108 L184,110 L185,107.5 L186,110 L187,113 L188,117 L189,123 L190,133 L191.3,141 L193,143" fill="none" fill-opacity="1" stroke="#d02030" stroke-width="1.2" stroke-linejoin="round"/>
<rect x="162" y="95" width="49.2" height="48" fill="none" stroke="#222" stroke-width="1.3"/>
<line x1="169.7" y1="154.5" x2="208.7" y2="154.5" stroke="#666" stroke-width="1.15"/>
<path d="M207.7,152.4 L211.7,154.5 L207.7,156.6 Z" fill="#111"/>
<rect x="160.2" y="99.4" width="2.6" height="1.2" fill="#bbb"/>
<rect x="160.2" y="107.4" width="2.6" height="1.2" fill="#bbb"/>
<rect x="160.2" y="115.4" width="2.6" height="1.2" fill="#bbb"/>
<rect x="160.2" y="123.4" width="2.6" height="1.2" fill="#bbb"/>
<rect x="160.2" y="131.4" width="2.6" height="1.2" fill="#bbb"/>
<rect x="160.2" y="139.4" width="2.6" height="1.2" fill="#bbb"/>
<rect x="165.7" y="144.5" width="2.6" height="1.2" fill="#bbb"/>
<rect x="177.7" y="144.5" width="2.6" height="1.2" fill="#bbb"/>
<rect x="189.7" y="144.5" width="2.6" height="1.2" fill="#bbb"/>
<rect x="201.7" y="144.5" width="2.6" height="1.2" fill="#bbb"/>
<text x="177.5" y="162.9" font-size="6.8" fill="#2a2a2a" stroke="#2a2a2a" stroke-width="0.3" textLength="25.9" lengthAdjust="spacingAndGlyphs">CD203c</text>
<path d="M327.2,59.3h0.7M307.0,18.3h0.7M333.9,39.6h0.7M351.1,52.7h0.7M332.6,63.4h0.7M331.6,40.6h0.7M339.7,34.5h0.7M323.8,44.2h0.7M323.5,61.0h0.7M339.3,40.9h0.7M311.3,33.8h0.7M325.9,42.7h0.7M334.3,57.8h0.7M353.3,39.1h0.7M327.8,45.7h0.7M354.8,32.3h0.7M332.2,54.8h0.7M314.8,31.1h0.7M354.0,55.2h0.7M331.4,21.2h0.7M349.9,48.8h0.7M346.3,63.0h0.7M349.6,36.0h0.7M314.1,29.8h0.7M331.3,40.0h0.7M315.6,24.7h0.7M337.1,44.6h0.7M323.6,63.2h0.7M337.4,18.0h0.7M326.5,53.4h0.7M321.4,48.8h0.7M306.7,30.5h0.7M347.3,43.8h0.7M338.9,25.3h0.7M330.6,42.3h0.7M319.4,46.7h0.7M332.3,63.4h0.7M334.4,35.5h0.7M312.4,23.4h0.7M343.3,21.1h0.7M311.4,24.1h0.7M331.8,55.1h0.7M336.2,54.3h0.7M309.5,16.6h0.7M343.9,31.3h0.7M341.2,32.8h0.7M314.7,28.7h0.7M311.3,58.9h0.7M334.7,32.6h0.7M328.3,34.3h0.7M309.2,58.3h0.7M334.8,61.6h0.7M327.8,45.5h0.7M318.6,18.1h0.7M351.6,56.6h0.7M321.8,58.7h0.7M346.1,30.4h0.7M335.7,61.6h0.7M330.5,61.1h0.7M318.3,34.5h0.7M341.3,26.5h0.7M321.5,57.6h0.7M330.0,53.7h0.7M318.3,24.2h0.7M323.9,24.9h0.7M353.6,29.8h0.7M333.7,21.5h0.7M332.4,34.3h0.7M326.1,19.1h0.7M312.5,55.2h0.7M323.5,27.6h0.7M315.8,29.5h0.7M318.0,17.7h0.7M338.7,32.2h0.7M314.1,49.5h0.7M311.0,28.8h0.7M347.0,22.1h0.7M328.0,55.7h0.7M345.5,23.6h0.7M323.6,50.3h0.7M324.8,61.5h0.7M316.6,61.2h0.7M331.0,26.8h0.7M328.5,22.2h0.7M340.8,28.4h0.7M350.1,43.9h0.7M324.3,27.7h0.7M336.0,26.1h0.7M348.8,21.8h0.7M331.4,41.8h0.7M319.6,52.7h0.7M325.2,47.2h0.7M334.0,30.8h0.7M325.4,20.1h0.7M315.1,56.4h0.7M322.1,47.5h0.7M311.8,42.7h0.7M324.0,39.8h0.7M320.9,19.1h0.7M321.6,26.8h0.7M312.6,50.0h0.7M320.2,35.2h0.7M350.6,52.8h0.7M349.3,56.9h0.7M312.9,29.1h0.7M307.9,48.3h0.7M338.7,32.7h0.7M326.5,47.3h0.7M340.4,27.8h0.7M347.6,32.7h0.7M337.0,24.6h0.7M312.1,59.4h0.7M342.1,49.8h0.7M308.5,17.9h0.7M314.4,25.4h0.7M321.2,34.1h0.7M308.4,30.8h0.7M337.5,24.5h0.7M347.2,43.1h0.7M341.3,28.1h0.7M327.6,48.5h0.7M323.4,16.0h0.7M347.0,52.9h0.7M320.4,18.0h0.7M347.9,44.9h0.7M308.8,27.6h0.7M311.9,53.6h0.7M316.7,59.4h0.7M342.9,20.1h0.7M340.2,34.7h0.7M342.8,55.4h0.7M320.1,20.3h0.7M352.4,36.1h0.7M351.6,48.9h0.7M342.3,55.4h0.7M337.0,37.5h0.7M309.1,49.2h0.7M327.3,40.3h0.7M351.5,22.1h0.7M343.5,18.1h0.7M340.6,54.3h0.7M319.2,42.0h0.7M353.5,46.3h0.7M332.9,27.9h0.7M309.4,33.0h0.7M326.5,25.6h0.7M321.6,22.5h0.7M340.8,47.8h0.7M318.0,27.5h0.7M331.5,37.1h0.7M351.9,32.7h0.7M321.0,58.0h0.7M313.4,42.8h0.7M322.7,54.7h0.7M333.1,52.1h0.7M314.7,47.7h0.7M335.5,37.9h0.7M343.7,55.5h0.7M312.1,29.7h0.7M324.0,25.8h0.7M309.4,29.3h0.7M316.1,49.3h0.7M328.2,21.4h0.7M322.2,38.3h0.7M324.1,24.0h0.7M310.0,16.5h0.7M354.6,51.6h0.7M310.6,50.1h0.7M354.0,42.8h0.7M311.8,39.2h0.7M327.6,25.0h0.7M332.8,16.4h0.7M351.1,46.6h0.7M336.9,60.4h0.7M338.2,27.9h0.7M318.4,22.6h0.7M307.8,52.8h0.7M347.2,30.1h0.7M315.5,46.3h0.7M347.5,60.0h0.7M314.7,53.3h0.7M346.8,51.3h0.7M322.3,24.8h0.7M346.5,31.2h0.7M324.4,42.2h0.7M324.4,55.5h0.7M318.1,18.0h0.7M334.0,45.8h0.7M346.3,49.5h0.7M350.4,60.9h0.7M330.5,39.7h0.7M314.1,30.2h0.7M334.7,19.8h0.7M339.9,23.8h0.7M328.0,62.1h0.7M310.8,17.9h0.7M327.8,25.1h0.7M341.6,16.1h0.7M347.3,56.6h0.7M344.7,36.2h0.7M320.2,47.4h0.7M331.5,36.0h0.7M322.9,36.8h0.7M338.8,55.2h0.7M350.3,23.8h0.7M320.8,37.0h0.7M333.8,32.5h0.7M316.0,20.0h0.7M322.2,37.9h0.7M353.6,59.2h0.7M348.5,62.3h0.7M353.1,45.4h0.7M345.8,18.9h0.7M339.3,44.9h0.7M320.9,43.1h0.7M352.7,38.8h0.7M337.9,30.2h0.7M323.2,58.0h0.7M307.9,25.0h0.7M339.4,37.2h0.7" stroke="#555" stroke-width="0.7" stroke-opacity="0.3"/>
<path d="M340.1,29.6h0.7M322.7,30.3h0.7M321.5,29.2h0.7M322.6,25.6h0.7M333.8,28.5h0.7M337.8,24.2h0.7M342.1,31.5h0.7M329.9,28.6h0.7M324.0,26.5h0.7M319.9,27.3h0.7M331.5,31.5h0.7M337.3,29.7h0.7M327.2,26.2h0.7M327.4,27.7h0.7M315.2,29.6h0.7M318.0,25.3h0.7M330.2,25.3h0.7M342.8,26.7h0.7M342.1,30.9h0.7M326.2,28.3h0.7M340.0,25.9h0.7M330.7,25.1h0.7M330.5,25.8h0.7M330.6,30.4h0.7M340.7,27.4h0.7M331.6,29.9h0.7M327.8,23.4h0.7M338.5,23.9h0.7M337.1,23.8h0.7M344.1,23.5h0.7M336.5,32.0h0.7M322.6,32.0h0.7M323.7,21.1h0.7M335.5,29.4h0.7M328.4,18.5h0.7M329.6,26.0h0.7M327.1,26.0h0.7M316.3,25.1h0.7M343.8,32.2h0.7M327.2,24.6h0.7M333.0,30.6h0.7M335.6,23.1h0.7M331.2,27.5h0.7M341.0,31.0h0.7M334.0,31.1h0.7M327.0,32.2h0.7M326.7,28.3h0.7M337.1,23.9h0.7M324.6,21.1h0.7M331.3,26.8h0.7M327.5,28.7h0.7M313.7,26.9h0.7M330.7,26.1h0.7M336.1,32.9h0.7M326.6,23.8h0.7M325.4,27.3h0.7M334.5,24.1h0.7M337.7,23.6h0.7M336.4,28.4h0.7M333.6,34.2h0.7M328.0,26.4h0.7M333.7,29.9h0.7M319.7,27.9h0.7M324.3,29.1h0.7M340.5,27.2h0.7M329.2,27.6h0.7M307.3,29.6h0.7M334.3,27.6h0.7M327.0,24.5h0.7M328.6,31.1h0.7M329.2,31.5h0.7M310.2,25.5h0.7M332.1,27.0h0.7M317.3,24.8h0.7M339.6,22.7h0.7M322.4,23.3h0.7M325.8,29.2h0.7M334.6,20.2h0.7M341.2,25.0h0.7M325.5,32.6h0.7M329.4,22.8h0.7M325.1,24.6h0.7M322.2,25.9h0.7M336.7,28.2h0.7M319.4,36.4h0.7M322.4,27.4h0.7M330.2,29.6h0.7M327.5,28.5h0.7M346.2,27.3h0.7M321.7,28.1h0.7M323.8,25.8h0.7M331.4,28.1h0.7M327.8,29.9h0.7M328.5,22.6h0.7M336.7,25.8h0.7M339.3,24.8h0.7M334.4,28.1h0.7M309.3,22.0h0.7M321.4,31.7h0.7M315.5,30.1h0.7M338.4,28.7h0.7M335.2,25.3h0.7M329.9,27.8h0.7M333.2,29.4h0.7M328.4,24.6h0.7M325.7,28.4h0.7M317.2,22.8h0.7M326.8,25.1h0.7M327.9,18.1h0.7M327.4,26.2h0.7M336.0,20.3h0.7M327.6,28.6h0.7M333.8,31.0h0.7M338.1,23.5h0.7M334.9,25.9h0.7M323.8,32.2h0.7M325.2,24.1h0.7M326.9,24.1h0.7M337.7,28.3h0.7M340.8,28.4h0.7M325.3,30.5h0.7M325.0,25.4h0.7M328.7,27.1h0.7M339.2,25.0h0.7M332.7,26.9h0.7M320.3,23.3h0.7M328.3,28.4h0.7M332.5,28.6h0.7M330.4,25.5h0.7M333.3,23.6h0.7M319.7,25.9h0.7M319.0,25.3h0.7M324.2,25.1h0.7M329.7,24.3h0.7M326.7,21.2h0.7M331.1,24.0h0.7M333.1,17.5h0.7M323.8,27.8h0.7M311.2,25.8h0.7M330.7,27.3h0.7M318.5,27.8h0.7M331.1,23.7h0.7M335.7,26.8h0.7M330.1,25.5h0.7M334.2,27.3h0.7M338.8,28.5h0.7M325.2,26.2h0.7M337.1,25.8h0.7M333.0,28.8h0.7M328.6,19.1h0.7M331.0,27.7h0.7M331.0,24.4h0.7M339.3,26.5h0.7M325.2,24.6h0.7M332.8,23.3h0.7M322.3,33.8h0.7M340.1,30.6h0.7M340.6,29.0h0.7M317.0,31.0h0.7M339.6,28.7h0.7M314.9,31.2h0.7M340.6,25.3h0.7M331.0,29.6h0.7M329.3,30.7h0.7M330.6,29.3h0.7M330.7,22.0h0.7M322.3,37.7h0.7M332.2,31.4h0.7M338.8,32.8h0.7M334.3,25.0h0.7M330.1,20.5h0.7M328.5,30.1h0.7M313.2,27.7h0.7M336.4,31.5h0.7M322.8,24.8h0.7M315.4,23.5h0.7M334.1,34.0h0.7M321.1,31.7h0.7M333.3,25.3h0.7M347.0,18.4h0.7M329.5,27.7h0.7M346.5,33.1h0.7M347.6,27.5h0.7M337.6,31.6h0.7M334.0,28.2h0.7M328.6,25.6h0.7M320.4,33.6h0.7M326.5,19.9h0.7M332.1,26.9h0.7M331.4,33.2h0.7M329.2,26.1h0.7M324.2,26.9h0.7M326.6,27.7h0.7M354.3,28.3h0.7M323.3,33.6h0.7M336.7,29.8h0.7M335.6,29.8h0.7M335.3,31.8h0.7M337.8,31.6h0.7M326.1,27.0h0.7M324.3,30.3h0.7M336.5,25.4h0.7M334.6,35.9h0.7M339.6,23.2h0.7M329.3,29.2h0.7M329.7,28.3h0.7M339.2,28.1h0.7M321.5,29.4h0.7M329.2,27.4h0.7M325.6,22.3h0.7M320.3,25.8h0.7M321.7,17.7h0.7M338.9,23.0h0.7M324.4,28.8h0.7M311.2,31.6h0.7M324.0,29.2h0.7M326.2,28.0h0.7M330.8,27.0h0.7M315.8,22.0h0.7M329.7,31.8h0.7" stroke="#444" stroke-width="0.7" stroke-opacity="0.45"/>
<path d="M317.3,43.6h0.7M320.8,43.3h0.7M324.8,29.8h0.7M321.3,38.8h0.7M318.5,34.2h0.7M316.2,33.0h0.7M314.7,57.1h0.7M328.3,40.1h0.7M323.6,33.3h0.7M306.4,27.6h0.7M320.7,49.8h0.7M319.8,33.2h0.7M318.8,33.2h0.7M313.2,38.4h0.7M318.1,34.5h0.7M315.7,33.7h0.7M321.2,49.5h0.7M319.0,55.3h0.7M312.1,41.9h0.7M314.4,38.9h0.7M320.5,43.8h0.7M325.5,36.2h0.7M313.9,38.7h0.7M321.4,35.2h0.7M324.4,51.5h0.7M313.1,42.5h0.7M325.0,26.9h0.7M321.0,38.5h0.7M313.1,49.0h0.7M321.1,36.7h0.7M322.2,44.4h0.7M323.7,44.0h0.7M322.0,32.0h0.7M317.9,40.9h0.7M306.5,54.5h0.7M318.2,32.8h0.7M311.1,41.7h0.7M320.2,36.0h0.7M318.0,33.9h0.7M316.3,39.3h0.7M316.9,44.6h0.7M319.3,40.9h0.7M322.0,48.7h0.7M322.9,41.6h0.7M319.2,34.5h0.7M318.3,44.7h0.7M321.1,37.4h0.7M313.5,29.5h0.7M321.6,47.0h0.7M321.8,30.6h0.7M319.0,41.5h0.7M315.5,42.4h0.7M319.0,34.3h0.7M313.9,45.5h0.7M321.7,33.9h0.7M315.1,46.1h0.7M322.9,37.9h0.7M327.8,38.0h0.7M314.9,47.4h0.7M319.1,42.4h0.7M320.2,33.2h0.7M314.2,38.7h0.7M326.8,33.2h0.7M326.6,41.5h0.7M314.6,41.8h0.7M322.8,33.9h0.7M309.6,42.4h0.7M314.6,43.0h0.7M310.7,39.0h0.7M316.1,29.9h0.7M318.8,41.2h0.7M317.3,32.0h0.7M321.0,28.1h0.7M322.6,43.3h0.7M328.2,46.0h0.7M321.7,41.8h0.7M320.1,31.0h0.7M327.1,43.6h0.7M318.6,32.2h0.7M327.2,43.6h0.7M314.2,44.6h0.7M329.2,39.8h0.7M321.9,37.2h0.7M316.9,47.3h0.7M335.0,40.8h0.7M319.4,45.4h0.7M318.5,45.0h0.7M324.0,33.1h0.7M314.8,39.5h0.7M324.0,41.9h0.7M326.0,30.6h0.7M322.4,35.8h0.7M320.5,42.2h0.7M315.3,38.4h0.7M314.4,41.8h0.7M315.9,36.6h0.7M321.1,35.6h0.7M325.6,35.7h0.7M324.1,41.9h0.7M315.0,38.5h0.7M315.9,37.5h0.7M318.7,52.3h0.7M318.0,50.6h0.7M322.2,31.1h0.7M308.8,44.6h0.7M310.4,44.9h0.7M325.0,42.6h0.7M319.0,38.3h0.7M321.3,37.9h0.7M317.4,37.5h0.7M325.7,35.8h0.7M321.8,32.2h0.7M316.5,30.7h0.7M319.0,44.6h0.7M321.5,36.7h0.7M323.0,37.6h0.7M321.8,41.9h0.7M322.6,23.2h0.7M313.7,45.2h0.7M319.5,55.2h0.7M318.9,36.3h0.7M327.2,43.8h0.7M329.2,43.5h0.7M319.0,44.9h0.7M316.2,37.0h0.7M317.3,38.5h0.7M323.8,36.7h0.7M321.6,36.6h0.7M324.3,21.3h0.7M319.0,41.1h0.7M314.8,46.9h0.7M321.0,48.7h0.7M324.6,44.3h0.7M319.3,32.6h0.7M318.9,36.9h0.7M321.2,36.9h0.7M334.8,29.2h0.7M325.7,36.8h0.7M318.8,46.3h0.7M320.0,31.8h0.7M322.0,38.7h0.7M310.1,41.3h0.7M314.9,35.0h0.7M322.3,42.0h0.7M318.6,54.7h0.7M322.0,35.9h0.7M321.1,39.2h0.7M309.4,29.3h0.7M313.3,54.0h0.7M319.1,38.1h0.7M317.3,46.6h0.7M320.1,51.5h0.7M323.8,51.1h0.7M319.4,42.5h0.7M317.9,38.9h0.7M311.7,36.1h0.7M315.4,35.6h0.7M325.9,41.8h0.7M325.9,45.8h0.7M324.4,46.8h0.7M317.1,45.4h0.7M318.4,36.4h0.7M325.8,54.6h0.7M315.3,51.7h0.7M324.0,34.3h0.7M321.3,42.5h0.7M321.8,37.6h0.7M313.8,40.2h0.7M324.2,45.3h0.7M323.2,47.4h0.7M315.2,39.7h0.7M321.6,46.7h0.7M320.8,43.5h0.7M320.6,54.2h0.7M309.5,39.8h0.7M331.9,41.6h0.7M311.2,40.9h0.7M313.1,35.4h0.7M321.1,51.6h0.7M322.2,44.5h0.7M324.9,41.4h0.7M315.9,39.3h0.7M321.6,38.1h0.7M316.8,37.6h0.7M312.8,33.1h0.7M319.6,37.6h0.7M320.2,49.5h0.7M321.4,39.8h0.7M314.4,32.7h0.7M321.8,34.1h0.7M322.1,32.8h0.7M320.6,39.5h0.7M324.8,37.4h0.7M318.2,41.7h0.7M320.3,51.4h0.7M318.8,36.4h0.7M318.5,43.2h0.7M321.1,44.7h0.7M313.3,56.7h0.7M328.9,39.8h0.7" stroke="#333" stroke-width="0.7" stroke-opacity="0.5"/>
<path d="M309,24 C311,21.5 318,21.5 321.5,23.5 C323,27 321,31 319,34 C318.5,38 318.5,42 320,45 C324,47 325,52 323.5,56 C321,60.5 312,61 309,58 C306.5,55 307,48 311,45.5 C312,41 311.5,37 310,33 C308.5,30 308,26 309,24 Z" fill="#151515" filter="url(#b10)"/>
<ellipse cx="325" cy="26" rx="5" ry="3" fill="#444" fill-opacity="0.7" filter="url(#b15)"/>
<ellipse cx="321" cy="38" rx="3" ry="5" fill="#555" fill-opacity="0.6" filter="url(#b15)"/>
<ellipse cx="341.5" cy="53.5" rx="2" ry="3.8" fill="#333" fill-opacity="1.0" filter="url(#b8)" transform="rotate(15 341.5 53.5)"/>
<ellipse cx="341.9" cy="52.7" rx="4.9" ry="7.6" fill="none" stroke="#c42a6a" stroke-width="1.3" transform="rotate(18 341.9 52.7)"/>
<rect x="305.8" y="15.2" width="50" height="49.2" fill="none" stroke="#222" stroke-width="1.3"/>
<line x1="296.3" y1="65.7" x2="296.3" y2="20.3" stroke="#666" stroke-width="1.15"/>
<path d="M294.2,21.3 L296.3,17.3 L298.4,21.3 Z" fill="#111"/>
<line x1="307.6" y1="71.3" x2="351" y2="71.3" stroke="#666" stroke-width="1.15"/>
<path d="M350,69.2 L354,71.3 L350,73.4 Z" fill="#111"/>
<rect x="300.8" y="16.4" width="2.6" height="1.2" fill="#aaa"/>
<rect x="300.8" y="22.4" width="2.6" height="1.2" fill="#aaa"/>
<rect x="300.8" y="29.4" width="2.6" height="1.2" fill="#aaa"/>
<rect x="300.8" y="38.4" width="2.6" height="1.2" fill="#aaa"/>
<rect x="300.8" y="52.4" width="2.6" height="1.2" fill="#aaa"/>
<rect x="300.8" y="56.4" width="2.6" height="1.2" fill="#aaa"/>
<rect x="300.8" y="60.4" width="2.6" height="1.2" fill="#aaa"/>
<rect x="309.7" y="67.2" width="2.6" height="1.2" fill="#aaa"/>
<rect x="313.7" y="67.2" width="2.6" height="1.2" fill="#aaa"/>
<rect x="317.7" y="67.2" width="2.6" height="1.2" fill="#aaa"/>
<rect x="335.7" y="67.2" width="2.6" height="1.2" fill="#aaa"/>
<rect x="345.7" y="67.2" width="2.6" height="1.2" fill="#aaa"/>
<rect x="352.7" y="67.2" width="2.6" height="1.2" fill="#aaa"/>
<text x="292.9" y="65.7" font-size="6.6" fill="#2a2a2a" stroke="#2a2a2a" stroke-width="0.3" textLength="25" lengthAdjust="spacingAndGlyphs" transform="rotate(-90 292.9 65.7)">HLA-DR</text>
<text x="306.7" y="80" font-size="6.8" fill="#2a2a2a" stroke="#2a2a2a" stroke-width="0.3" textLength="43.3" lengthAdjust="spacingAndGlyphs">CD123 (IL-3R)</text>
<path d="M417.0,38.9h0.7M431.4,58.2h0.7M430.1,45.4h0.7M403.6,44.9h0.7M434.6,52.5h0.7M398.4,49.2h0.7M410.8,23.1h0.7M440.4,47.1h0.7M429.8,21.8h0.7M433.8,59.5h0.7M437.4,50.5h0.7M434.0,53.2h0.7M422.3,36.0h0.7M433.6,52.4h0.7M435.8,29.6h0.7M440.1,40.5h0.7M439.4,20.9h0.7M440.5,52.5h0.7M406.1,54.9h0.7M405.1,24.8h0.7M416.0,26.6h0.7M417.6,58.2h0.7M426.9,48.9h0.7M412.8,52.3h0.7M432.1,47.6h0.7M439.2,54.3h0.7M413.5,19.6h0.7M425.3,54.8h0.7M410.3,43.5h0.7M434.1,52.8h0.7M394.2,38.5h0.7M394.8,20.7h0.7M433.0,35.2h0.7M423.0,37.0h0.7M410.1,25.5h0.7M411.0,55.2h0.7M423.7,29.2h0.7M398.2,28.2h0.7M427.7,36.3h0.7M425.7,53.4h0.7M399.8,47.6h0.7M396.0,54.2h0.7M402.8,28.3h0.7M440.0,32.5h0.7M404.8,57.3h0.7M423.3,57.5h0.7M412.9,39.0h0.7M439.9,39.3h0.7M441.5,24.4h0.7M433.9,23.1h0.7M419.3,15.5h0.7M402.4,59.9h0.7M415.8,53.5h0.7M406.0,32.1h0.7M398.8,41.5h0.7M435.4,39.7h0.7M412.1,59.1h0.7M436.9,46.8h0.7M397.6,44.8h0.7M415.3,60.5h0.7M411.4,46.6h0.7M424.3,33.2h0.7M419.1,47.3h0.7M437.5,38.9h0.7M411.5,61.4h0.7M396.7,54.7h0.7M426.8,41.7h0.7M415.5,50.8h0.7M436.8,49.8h0.7M430.0,17.2h0.7M409.6,21.9h0.7M439.7,57.4h0.7M400.9,43.1h0.7M421.7,17.7h0.7M412.8,50.6h0.7M424.8,28.7h0.7M430.6,29.2h0.7M420.1,35.3h0.7M441.0,46.0h0.7M432.6,47.3h0.7M412.3,60.8h0.7M428.1,48.0h0.7M407.3,23.1h0.7M421.6,54.3h0.7M432.1,31.8h0.7M400.7,39.8h0.7M436.1,23.1h0.7M429.4,23.5h0.7M409.0,18.0h0.7M408.3,33.5h0.7M440.4,60.7h0.7M403.0,30.0h0.7M439.3,24.8h0.7M409.4,36.1h0.7M399.2,27.7h0.7M412.9,33.6h0.7M440.3,28.0h0.7M403.8,58.2h0.7M415.6,54.8h0.7M424.6,52.1h0.7M409.1,22.6h0.7M430.3,37.6h0.7M420.8,47.0h0.7M430.1,28.4h0.7M411.4,58.6h0.7M419.4,29.1h0.7M424.2,27.7h0.7M431.0,17.4h0.7M433.7,42.1h0.7M411.0,59.7h0.7M406.7,26.9h0.7M397.4,41.3h0.7M430.2,47.4h0.7M413.8,53.5h0.7M399.3,29.9h0.7M424.9,61.0h0.7M424.4,48.0h0.7M431.2,34.0h0.7M439.1,50.4h0.7M410.4,34.0h0.7M432.7,31.9h0.7M402.9,56.5h0.7M419.5,40.0h0.7M426.1,57.9h0.7M400.4,31.4h0.7M397.2,34.9h0.7M418.1,55.5h0.7M426.1,42.7h0.7M413.4,42.5h0.7M407.1,55.2h0.7M431.8,54.9h0.7M401.3,47.1h0.7M430.2,39.0h0.7M437.1,57.7h0.7M429.7,54.1h0.7M425.1,56.8h0.7M400.3,48.6h0.7M427.8,44.3h0.7M407.2,18.7h0.7M423.0,54.2h0.7M407.1,25.5h0.7M404.7,19.9h0.7M426.4,61.3h0.7M432.5,32.4h0.7M427.6,18.9h0.7M434.3,30.8h0.7M394.2,45.1h0.7M400.7,28.4h0.7M396.8,36.4h0.7M420.6,53.4h0.7M395.9,54.4h0.7M399.3,26.1h0.7M424.2,31.5h0.7M409.9,42.2h0.7M404.5,52.8h0.7M404.0,55.0h0.7M432.8,40.7h0.7M395.5,52.1h0.7M395.4,39.2h0.7M414.3,18.5h0.7" stroke="#555" stroke-width="0.7" stroke-opacity="0.3"/>
<path d="M408.1,28.6h0.7M410.2,33.9h0.7M406.0,37.2h0.7M420.7,53.9h0.7M434.2,37.6h0.7M425.8,36.3h0.7M421.5,37.7h0.7M413.2,38.6h0.7M404.9,41.5h0.7M415.4,29.5h0.7M414.8,42.4h0.7M412.0,41.7h0.7M423.0,50.3h0.7M408.4,37.1h0.7M422.5,49.8h0.7M420.3,43.9h0.7M405.0,33.4h0.7M432.7,35.8h0.7M437.2,32.3h0.7M415.5,25.4h0.7M423.6,40.1h0.7M435.9,39.3h0.7M415.8,26.9h0.7M417.3,45.5h0.7M424.6,47.7h0.7M425.7,37.6h0.7M423.4,39.4h0.7M406.2,51.5h0.7M421.3,29.7h0.7M421.4,40.3h0.7M426.9,49.4h0.7M431.6,30.5h0.7M401.5,40.2h0.7M421.0,40.8h0.7M408.1,34.3h0.7M419.7,43.9h0.7M437.5,40.3h0.7M412.6,19.3h0.7M427.6,37.0h0.7M417.0,30.2h0.7M424.5,23.8h0.7M419.0,39.0h0.7M420.7,48.3h0.7M417.1,38.7h0.7M425.6,25.7h0.7M415.4,38.5h0.7M426.5,31.6h0.7M425.2,41.1h0.7M404.7,26.3h0.7M405.2,39.1h0.7M419.8,43.7h0.7M425.3,33.6h0.7M427.6,44.5h0.7M422.2,41.8h0.7M406.5,40.9h0.7M408.8,28.5h0.7M414.9,39.1h0.7M417.5,35.4h0.7M409.1,39.5h0.7M411.4,26.8h0.7M418.8,49.6h0.7M414.4,29.6h0.7M430.4,51.6h0.7M415.4,36.3h0.7M419.9,61.5h0.7M419.2,45.9h0.7M422.0,23.5h0.7M408.1,28.2h0.7M421.9,38.8h0.7M434.0,35.8h0.7M420.8,38.6h0.7M419.2,56.5h0.7M420.6,49.7h0.7M429.6,33.2h0.7M424.1,35.0h0.7M419.0,39.3h0.7M418.2,34.3h0.7M432.0,35.9h0.7M424.3,51.4h0.7M423.6,46.2h0.7M430.5,46.7h0.7M433.4,26.6h0.7M435.6,38.2h0.7M402.3,32.9h0.7M405.5,37.8h0.7M404.6,30.0h0.7M420.7,39.3h0.7M410.8,36.1h0.7M417.1,38.6h0.7M417.9,36.2h0.7M425.9,25.2h0.7M413.6,39.1h0.7M414.4,33.6h0.7M414.1,39.7h0.7M429.2,36.5h0.7M415.6,40.8h0.7M415.8,22.5h0.7M420.4,35.0h0.7M412.9,43.0h0.7M418.4,33.5h0.7M398.4,24.2h0.7M418.1,37.1h0.7M421.9,39.8h0.7M413.7,27.9h0.7M408.2,36.9h0.7M407.7,44.0h0.7M406.1,23.7h0.7M416.3,23.8h0.7M432.6,30.1h0.7M417.5,36.0h0.7M410.6,23.9h0.7M401.3,44.9h0.7M427.2,55.3h0.7M404.8,42.5h0.7M417.9,44.8h0.7M413.4,43.8h0.7M426.1,42.9h0.7M431.0,36.6h0.7M431.9,32.4h0.7M433.0,16.0h0.7M418.1,31.6h0.7M418.0,46.2h0.7M424.5,38.8h0.7M433.3,26.2h0.7M410.7,50.1h0.7M421.0,21.4h0.7M421.1,28.5h0.7M431.3,47.2h0.7M413.1,48.3h0.7M410.5,45.4h0.7M423.2,37.0h0.7M405.2,35.8h0.7M397.4,33.5h0.7M401.3,47.7h0.7M409.3,18.5h0.7M423.3,41.0h0.7M413.4,54.9h0.7M425.0,38.5h0.7M422.3,45.7h0.7M412.7,26.7h0.7M417.6,24.6h0.7M418.1,44.2h0.7M431.6,40.1h0.7M419.8,44.0h0.7M430.6,35.4h0.7M406.9,31.7h0.7M406.7,30.9h0.7M416.9,40.7h0.7M419.4,38.6h0.7M414.8,41.4h0.7M426.0,44.1h0.7M431.5,35.7h0.7M415.7,51.6h0.7M419.8,41.3h0.7M415.0,45.8h0.7M414.4,29.9h0.7M417.5,34.5h0.7M425.5,35.0h0.7M419.1,36.3h0.7M421.1,33.0h0.7M427.9,26.6h0.7M414.5,32.3h0.7M423.8,38.3h0.7M422.4,35.4h0.7M411.5,29.0h0.7M415.0,33.7h0.7M420.5,40.8h0.7M426.8,37.1h0.7M411.3,29.5h0.7M418.6,40.9h0.7M435.5,39.5h0.7M433.8,53.0h0.7M408.6,47.7h0.7M428.2,48.8h0.7M417.9,45.6h0.7M413.7,37.4h0.7M418.2,52.3h0.7M416.1,45.6h0.7M418.6,32.3h0.7M420.2,43.3h0.7M411.6,43.1h0.7M411.6,31.0h0.7M420.0,36.1h0.7M409.2,25.0h0.7M418.2,39.9h0.7M413.9,39.5h0.7M404.3,41.1h0.7M421.7,40.2h0.7M412.5,38.6h0.7M419.2,46.6h0.7M420.5,40.0h0.7M411.5,44.9h0.7M428.6,34.1h0.7M423.7,40.5h0.7M417.6,27.7h0.7M433.8,23.1h0.7M420.7,35.0h0.7M428.3,34.6h0.7M418.4,42.9h0.7M422.1,33.8h0.7M424.1,41.1h0.7M426.9,33.9h0.7M417.6,34.9h0.7M410.5,40.0h0.7M421.7,49.3h0.7M415.1,41.1h0.7M428.3,37.1h0.7M418.6,39.1h0.7M411.8,30.1h0.7M428.0,39.4h0.7M417.3,28.1h0.7M419.1,47.4h0.7M407.7,30.9h0.7M428.0,49.4h0.7M431.9,33.6h0.7M423.4,32.0h0.7M422.7,35.1h0.7M419.8,48.7h0.7M421.0,36.1h0.7M418.5,40.1h0.7M413.4,39.6h0.7M423.4,50.4h0.7M399.5,28.5h0.7M406.9,45.0h0.7M439.8,39.5h0.7M419.1,47.1h0.7M396.2,36.6h0.7M413.5,34.1h0.7M421.0,33.4h0.7M427.9,38.0h0.7M421.4,58.2h0.7M414.0,45.4h0.7M410.6,47.9h0.7M426.6,39.1h0.7M426.9,50.8h0.7M430.3,38.0h0.7M417.5,46.8h0.7M404.9,33.2h0.7M422.3,42.5h0.7M434.6,52.0h0.7M420.9,41.5h0.7M406.2,36.5h0.7M420.3,36.2h0.7M418.5,42.8h0.7M409.5,33.5h0.7M402.2,47.1h0.7M408.6,24.5h0.7M424.9,36.3h0.7M426.6,35.1h0.7M436.9,43.7h0.7M419.3,38.9h0.7M416.2,44.4h0.7M435.8,34.7h0.7M408.3,42.7h0.7M427.5,26.2h0.7M411.8,30.1h0.7M423.0,42.0h0.7M411.5,29.1h0.7M424.1,21.8h0.7M423.7,36.8h0.7M435.1,45.9h0.7M412.9,35.8h0.7M415.5,32.3h0.7M418.7,45.6h0.7M404.6,36.2h0.7M431.3,43.9h0.7M410.8,31.6h0.7M410.4,25.3h0.7M428.2,38.5h0.7M411.8,26.7h0.7M414.6,34.0h0.7M433.3,34.4h0.7M419.0,46.4h0.7M423.9,36.6h0.7M398.7,49.0h0.7M423.3,34.6h0.7M417.2,30.5h0.7M410.0,26.3h0.7M422.4,42.1h0.7M419.5,44.1h0.7M422.7,39.0h0.7M410.2,42.6h0.7M428.5,43.0h0.7M429.0,34.3h0.7M409.3,47.8h0.7M412.8,39.9h0.7M416.3,38.2h0.7M415.6,33.8h0.7M402.2,53.0h0.7M419.8,22.9h0.7M410.0,29.2h0.7M411.4,18.0h0.7M423.1,50.9h0.7M415.8,43.8h0.7M423.3,28.2h0.7M428.8,24.8h0.7M412.9,35.2h0.7M429.1,38.9h0.7M416.9,31.7h0.7M418.8,38.3h0.7M424.4,48.9h0.7M424.5,38.1h0.7M416.7,50.5h0.7M419.8,37.9h0.7M433.8,50.3h0.7M423.0,37.1h0.7M412.4,46.4h0.7M414.0,45.5h0.7M411.1,38.8h0.7M421.5,39.1h0.7M420.1,41.0h0.7M408.1,29.3h0.7M416.7,52.1h0.7M416.9,30.7h0.7M412.2,38.3h0.7M428.4,33.6h0.7M422.9,39.5h0.7M414.9,30.6h0.7M416.7,32.3h0.7M422.7,24.2h0.7M427.9,43.9h0.7M423.1,49.7h0.7M423.3,24.6h0.7M418.5,41.5h0.7M412.0,29.2h0.7M421.8,42.0h0.7M414.3,36.1h0.7M413.5,33.6h0.7M417.5,46.4h0.7M403.9,35.3h0.7M432.2,40.5h0.7M419.4,44.5h0.7M409.2,28.6h0.7M403.4,26.6h0.7M420.2,44.6h0.7M414.3,32.7h0.7M421.5,42.8h0.7M420.3,23.1h0.7M413.2,18.3h0.7M420.1,31.4h0.7M412.2,49.7h0.7M429.6,41.8h0.7M420.4,39.3h0.7M412.9,37.6h0.7M434.8,31.2h0.7M412.2,39.3h0.7M425.8,44.5h0.7M409.5,37.0h0.7M415.7,28.4h0.7M418.7,34.3h0.7M426.1,41.4h0.7M411.2,38.6h0.7M414.9,33.1h0.7M413.7,46.3h0.7M414.4,24.7h0.7M411.2,44.3h0.7M436.8,29.8h0.7M414.9,35.4h0.7M405.7,41.1h0.7M417.6,40.2h0.7M437.6,35.9h0.7M424.9,44.5h0.7M412.4,33.4h0.7M431.6,43.6h0.7M419.3,29.5h0.7M425.7,42.1h0.7M437.2,49.5h0.7M425.0,40.1h0.7M418.5,33.7h0.7M420.7,39.9h0.7M423.7,46.5h0.7M420.7,33.8h0.7M425.1,50.1h0.7M410.7,41.3h0.7M422.8,42.2h0.7M422.4,37.3h0.7M417.1,51.1h0.7M433.2,27.1h0.7M395.8,41.4h0.7M412.1,34.0h0.7M404.1,40.8h0.7M417.5,33.8h0.7M425.9,56.9h0.7M430.9,47.1h0.7M414.4,43.1h0.7M417.7,47.0h0.7M423.1,37.7h0.7M422.8,32.4h0.7M424.9,49.7h0.7M414.8,42.3h0.7M403.4,45.3h0.7M425.7,30.1h0.7M433.2,38.9h0.7M402.9,27.4h0.7M425.6,35.9h0.7M427.7,26.0h0.7M417.1,45.6h0.7M412.1,43.3h0.7M414.9,40.7h0.7M420.8,55.4h0.7M407.2,44.1h0.7M429.5,29.3h0.7M418.7,56.0h0.7M427.2,14.9h0.7M415.9,24.7h0.7M420.7,32.4h0.7M413.1,31.5h0.7M420.6,34.4h0.7M410.1,36.2h0.7M421.6,31.3h0.7M427.7,25.1h0.7M421.6,35.0h0.7M431.8,33.0h0.7M412.2,27.6h0.7M435.4,42.8h0.7M408.5,35.4h0.7M409.6,49.8h0.7M421.7,22.2h0.7M419.8,45.1h0.7M418.0,41.7h0.7M417.0,39.6h0.7M419.9,32.5h0.7M421.0,39.3h0.7M417.7,32.7h0.7M409.1,39.9h0.7M425.2,19.2h0.7M413.3,48.5h0.7M426.0,32.5h0.7M429.8,30.3h0.7M411.1,53.1h0.7M414.2,36.3h0.7M403.6,30.1h0.7M407.7,36.9h0.7M401.9,46.3h0.7M414.9,33.3h0.7M412.5,43.8h0.7M431.4,34.8h0.7M432.1,50.5h0.7M429.7,40.3h0.7M405.0,43.2h0.7M414.4,39.5h0.7M401.5,35.8h0.7M420.0,30.7h0.7M420.6,51.0h0.7M420.0,32.7h0.7M438.9,21.2h0.7M409.9,41.2h0.7M412.8,20.1h0.7M420.3,44.5h0.7M411.0,49.4h0.7M422.4,47.3h0.7M404.6,38.0h0.7M432.0,53.7h0.7M429.6,38.0h0.7M419.6,33.1h0.7M427.6,32.6h0.7M419.1,21.9h0.7M404.8,51.9h0.7M418.5,39.7h0.7M398.7,37.7h0.7M436.2,26.3h0.7M397.1,36.7h0.7M413.3,36.4h0.7M407.0,27.4h0.7M407.2,43.0h0.7M417.6,44.4h0.7M408.5,42.6h0.7M414.1,38.7h0.7M426.2,38.3h0.7M414.9,25.0h0.7M418.6,44.1h0.7M412.4,37.5h0.7M402.4,27.6h0.7M421.5,48.1h0.7M415.3,24.9h0.7M414.7,25.8h0.7M415.6,53.1h0.7M420.6,36.8h0.7M427.1,35.0h0.7M420.9,39.6h0.7M421.9,26.5h0.7M424.3,44.9h0.7M397.9,16.7h0.7M410.1,49.7h0.7M418.2,43.3h0.7M422.9,45.0h0.7M412.4,33.4h0.7M421.3,42.8h0.7M423.1,40.7h0.7M413.7,46.7h0.7M422.2,46.4h0.7M395.5,45.9h0.7M396.4,39.7h0.7M412.1,38.9h0.7M413.8,35.6h0.7M419.7,40.7h0.7M410.9,18.1h0.7M411.1,42.3h0.7M410.5,41.4h0.7M414.7,30.6h0.7M428.4,51.1h0.7M417.1,37.6h0.7M426.5,27.5h0.7M410.3,46.9h0.7M426.0,34.1h0.7M411.1,40.8h0.7M405.5,34.1h0.7M415.9,18.5h0.7M423.3,44.0h0.7M427.5,26.6h0.7M406.6,31.6h0.7M406.4,54.3h0.7M409.3,35.5h0.7M419.8,41.6h0.7M430.9,29.4h0.7M425.8,39.2h0.7M407.6,39.2h0.7M405.5,50.9h0.7M411.5,46.0h0.7M429.6,33.1h0.7M410.0,39.0h0.7M408.6,45.1h0.7M419.6,31.9h0.7M411.9,43.8h0.7M405.0,51.4h0.7M411.0,36.4h0.7M409.7,50.9h0.7M425.4,48.3h0.7M423.8,38.7h0.7M433.2,43.3h0.7M421.9,42.6h0.7M424.6,40.2h0.7M416.5,25.3h0.7M436.4,27.6h0.7M398.7,32.3h0.7M435.3,47.7h0.7M412.6,40.1h0.7M417.8,22.2h0.7M415.0,40.3h0.7M428.5,28.4h0.7M397.8,25.4h0.7M421.0,38.6h0.7M419.3,39.2h0.7M414.7,27.1h0.7M422.1,41.1h0.7M423.2,48.0h0.7M406.9,19.3h0.7M402.0,55.1h0.7M409.8,41.2h0.7M417.9,43.8h0.7M416.5,33.2h0.7M420.2,42.2h0.7M409.3,48.5h0.7M428.3,41.6h0.7M417.0,36.1h0.7M403.2,43.2h0.7M409.2,34.0h0.7M427.0,30.6h0.7M413.3,44.9h0.7M434.7,32.5h0.7M427.9,32.8h0.7M421.5,41.9h0.7M407.8,46.2h0.7M434.2,38.4h0.7M420.4,28.6h0.7M434.1,38.5h0.7M406.5,44.1h0.7M404.8,32.5h0.7M398.8,49.0h0.7M437.9,32.9h0.7M412.1,33.4h0.7M412.9,42.4h0.7M431.1,29.9h0.7M422.0,23.6h0.7M431.7,37.3h0.7M411.7,50.2h0.7M417.0,49.0h0.7M427.7,51.3h0.7M410.8,38.5h0.7M421.3,36.4h0.7M431.7,32.3h0.7M427.0,48.9h0.7M400.4,30.2h0.7M409.9,33.6h0.7M421.5,36.6h0.7M418.7,34.3h0.7M417.3,41.9h0.7M424.7,31.7h0.7M417.0,31.9h0.7M416.4,26.5h0.7M426.6,43.4h0.7M416.9,32.5h0.7M413.9,32.7h0.7M404.1,51.1h0.7M407.5,42.6h0.7M423.5,25.4h0.7M400.7,42.3h0.7M400.1,49.4h0.7M413.5,38.7h0.7M418.0,33.5h0.7M416.7,35.6h0.7M429.2,37.3h0.7M417.7,33.8h0.7M412.3,32.1h0.7M418.1,52.7h0.7M428.0,39.9h0.7M433.0,46.1h0.7M419.9,36.7h0.7M408.1,40.0h0.7M415.2,25.3h0.7M406.4,53.5h0.7M419.9,42.0h0.7M419.8,34.3h0.7M422.2,46.7h0.7M415.2,42.1h0.7M427.2,34.1h0.7M419.5,32.1h0.7M423.4,35.0h0.7M428.3,31.9h0.7M433.2,35.5h0.7M410.4,30.8h0.7M424.0,31.2h0.7M434.2,48.3h0.7M422.7,26.6h0.7M417.8,32.2h0.7M401.7,41.4h0.7M437.8,33.7h0.7M425.3,48.3h0.7M409.4,35.3h0.7M420.4,41.8h0.7M407.7,39.7h0.7M417.0,45.6h0.7M403.6,33.5h0.7M413.5,35.5h0.7M424.5,33.0h0.7M425.6,46.2h0.7M426.7,36.4h0.7M410.5,36.0h0.7M424.0,39.0h0.7M423.2,42.6h0.7M410.0,30.5h0.7M431.0,34.1h0.7M403.7,52.9h0.7M410.5,30.5h0.7M426.7,28.9h0.7M410.2,46.4h0.7M410.6,58.1h0.7M418.9,59.5h0.7M419.2,38.4h0.7M412.2,36.2h0.7M413.5,37.8h0.7M424.9,27.8h0.7M409.7,21.3h0.7M431.5,37.4h0.7M417.9,37.5h0.7M427.0,40.6h0.7M425.7,36.7h0.7M416.9,37.6h0.7M401.2,46.7h0.7M403.8,30.0h0.7M424.0,38.4h0.7M425.3,51.6h0.7M434.8,49.1h0.7M416.0,54.4h0.7M410.1,37.3h0.7M427.0,36.3h0.7M416.9,35.2h0.7M430.3,18.3h0.7M429.5,46.5h0.7M417.3,42.5h0.7M409.3,46.9h0.7M430.6,37.5h0.7M415.0,34.1h0.7M416.3,28.0h0.7M405.8,51.3h0.7M417.8,42.4h0.7M420.8,41.8h0.7M404.3,30.4h0.7M423.7,46.0h0.7M407.7,33.4h0.7M408.4,43.2h0.7M421.1,38.3h0.7M412.2,40.7h0.7M418.3,32.1h0.7M421.0,32.7h0.7M426.6,43.0h0.7M411.8,42.7h0.7M418.6,32.4h0.7M409.8,24.7h0.7M407.8,40.8h0.7M428.9,33.0h0.7M419.4,40.8h0.7M425.0,41.5h0.7" stroke="#333" stroke-width="0.7" stroke-opacity="0.4"/>
<path d="M429.4,47.8h0.7M417.4,46.0h0.7M407.9,43.1h0.7M422.1,46.9h0.7M420.2,48.2h0.7M429.9,39.8h0.7M418.7,45.3h0.7M424.9,44.7h0.7M427.0,38.1h0.7M426.7,49.8h0.7M428.7,46.1h0.7M420.6,46.0h0.7M421.6,36.1h0.7M418.4,43.8h0.7M418.9,39.3h0.7M420.6,42.1h0.7M422.4,43.8h0.7M423.0,49.0h0.7M422.8,46.0h0.7M414.7,29.3h0.7M419.6,47.4h0.7M420.0,40.9h0.7M414.6,48.5h0.7M418.8,45.2h0.7M428.8,46.7h0.7M435.5,43.3h0.7M427.7,47.5h0.7M418.1,44.2h0.7M418.6,38.9h0.7M423.8,40.1h0.7M432.1,40.3h0.7M418.7,44.5h0.7M418.9,44.3h0.7M418.4,36.9h0.7M407.5,37.6h0.7M431.1,46.2h0.7M422.9,41.7h0.7M421.1,45.5h0.7M413.7,40.0h0.7M416.7,50.3h0.7M415.7,49.9h0.7M419.2,57.6h0.7M421.5,44.2h0.7M430.1,48.4h0.7M427.6,38.7h0.7M428.8,52.4h0.7M421.4,41.6h0.7M415.5,49.1h0.7M423.8,44.0h0.7M414.6,52.1h0.7M427.3,43.9h0.7M430.9,39.2h0.7M427.3,39.0h0.7M430.5,42.6h0.7M429.3,41.9h0.7M424.4,49.7h0.7M416.6,44.5h0.7M417.0,48.3h0.7M418.4,42.1h0.7M420.8,49.8h0.7M415.8,43.9h0.7M420.0,41.3h0.7M417.3,43.2h0.7M423.2,36.3h0.7M423.4,38.1h0.7M422.1,55.4h0.7M416.2,43.7h0.7M420.5,48.9h0.7M419.2,35.1h0.7M412.3,44.9h0.7M423.5,49.3h0.7M418.8,47.3h0.7M415.6,50.5h0.7M421.6,40.6h0.7M423.1,52.7h0.7M416.9,37.8h0.7M415.9,38.2h0.7M421.7,45.8h0.7M421.0,45.0h0.7M429.1,42.6h0.7M414.5,32.6h0.7M423.5,40.6h0.7M420.5,46.0h0.7M424.8,36.2h0.7M416.3,44.4h0.7M421.1,49.7h0.7M419.0,33.7h0.7M429.0,35.8h0.7M416.2,45.9h0.7M415.6,56.4h0.7M423.4,46.7h0.7M419.4,55.1h0.7M425.2,40.4h0.7M429.5,35.6h0.7M418.5,45.4h0.7M422.8,39.2h0.7M431.5,51.4h0.7M416.4,45.9h0.7M418.2,41.8h0.7M427.9,44.6h0.7M421.3,44.5h0.7M415.0,50.1h0.7M417.5,50.5h0.7M419.3,41.7h0.7M430.9,45.0h0.7M418.2,41.3h0.7M425.6,53.4h0.7M425.7,42.0h0.7M415.3,40.6h0.7M421.3,45.2h0.7M418.1,50.4h0.7M416.3,40.4h0.7M425.0,46.4h0.7M419.7,48.8h0.7M413.6,52.2h0.7M435.1,53.8h0.7M422.7,53.8h0.7M422.3,50.6h0.7M420.8,45.0h0.7M425.1,35.3h0.7M420.8,52.6h0.7M404.5,45.9h0.7M427.5,45.6h0.7M423.2,50.9h0.7M424.0,34.5h0.7M416.3,42.5h0.7M422.9,41.8h0.7M421.4,52.3h0.7M404.4,49.8h0.7M427.6,47.0h0.7M422.1,44.3h0.7M424.2,45.2h0.7M417.7,47.9h0.7M417.0,43.8h0.7M419.9,38.2h0.7M425.6,43.7h0.7M415.0,43.6h0.7M413.7,51.2h0.7M425.1,53.9h0.7M418.6,47.5h0.7M416.2,39.7h0.7M421.5,46.1h0.7M427.5,42.7h0.7M428.6,48.8h0.7M416.8,43.1h0.7M416.5,52.5h0.7M418.7,48.4h0.7M427.5,42.7h0.7M419.1,45.7h0.7M417.4,37.7h0.7M416.2,45.7h0.7M423.1,52.8h0.7M411.1,46.5h0.7M415.1,49.8h0.7M426.2,44.6h0.7M430.8,42.1h0.7M418.8,38.8h0.7M418.1,44.6h0.7M426.0,50.4h0.7M420.4,40.4h0.7M420.0,41.9h0.7M419.2,42.0h0.7M416.8,43.7h0.7M418.9,43.2h0.7M413.7,44.7h0.7M425.4,47.2h0.7M418.7,38.3h0.7M414.2,38.2h0.7M418.2,42.5h0.7M411.4,47.3h0.7M412.8,40.6h0.7M417.7,48.1h0.7M433.0,42.2h0.7M420.4,42.1h0.7M420.8,43.2h0.7M436.7,38.6h0.7M421.4,40.1h0.7M424.1,41.4h0.7M425.4,38.6h0.7M434.6,45.0h0.7M411.5,47.5h0.7M419.2,38.3h0.7M424.6,41.4h0.7M426.4,41.3h0.7M427.4,44.7h0.7M424.1,44.8h0.7M419.8,42.2h0.7M424.7,47.5h0.7M419.6,55.1h0.7M432.0,38.3h0.7M428.4,43.7h0.7M423.4,40.1h0.7M431.8,39.9h0.7M421.5,40.4h0.7M433.5,50.2h0.7M414.2,41.8h0.7M424.2,41.9h0.7M419.9,38.7h0.7M423.5,38.6h0.7M426.9,55.8h0.7M420.1,52.1h0.7M424.2,40.7h0.7M420.0,39.3h0.7M422.7,47.5h0.7M427.5,42.6h0.7M414.9,43.6h0.7M431.9,45.4h0.7M421.6,33.8h0.7M419.4,46.7h0.7M416.4,50.6h0.7M418.7,39.7h0.7M418.6,43.6h0.7M427.9,41.2h0.7M411.5,43.6h0.7M425.1,51.6h0.7M415.4,51.3h0.7M426.0,46.2h0.7M417.5,39.7h0.7M416.4,48.6h0.7M423.3,49.3h0.7M432.7,44.1h0.7M421.7,53.4h0.7M414.3,41.8h0.7M419.8,42.2h0.7M422.8,39.9h0.7M428.9,37.3h0.7M417.2,35.7h0.7M413.7,46.9h0.7M425.7,43.1h0.7M427.0,47.0h0.7M418.6,43.8h0.7M424.2,53.9h0.7M419.4,45.8h0.7M425.2,50.0h0.7M424.5,49.3h0.7M415.7,42.7h0.7M410.6,43.8h0.7M435.8,45.2h0.7M422.5,45.3h0.7M422.9,37.5h0.7M417.9,43.2h0.7M423.0,39.8h0.7M421.4,40.4h0.7M414.2,40.8h0.7M417.3,48.1h0.7M429.9,46.9h0.7M420.8,41.3h0.7M412.7,41.5h0.7M431.2,49.7h0.7M423.3,42.8h0.7M422.0,46.1h0.7M422.0,46.1h0.7M417.5,44.3h0.7M419.9,49.3h0.7M414.7,50.4h0.7M421.5,41.6h0.7M422.1,44.6h0.7M420.6,46.1h0.7M418.6,35.8h0.7M426.1,43.9h0.7M431.8,45.9h0.7M410.2,50.1h0.7M417.9,46.7h0.7M435.1,49.4h0.7M415.6,43.6h0.7M412.5,47.3h0.7M425.3,39.0h0.7M424.7,48.6h0.7M426.8,40.8h0.7M417.9,38.6h0.7M414.4,45.6h0.7M422.2,50.4h0.7M423.6,42.5h0.7M413.6,51.6h0.7M423.0,43.9h0.7M416.1,38.9h0.7M425.7,39.3h0.7M425.4,47.1h0.7M419.8,36.1h0.7M424.4,50.9h0.7M417.1,37.9h0.7M428.4,44.7h0.7M418.3,50.0h0.7M420.4,46.2h0.7M419.6,40.4h0.7M423.3,39.9h0.7M411.5,41.4h0.7M429.3,49.4h0.7M434.8,48.9h0.7M431.5,45.3h0.7M419.4,46.3h0.7M416.4,47.6h0.7M419.4,45.3h0.7M417.0,43.4h0.7M427.8,43.0h0.7M418.0,45.4h0.7M427.2,43.1h0.7M415.1,36.5h0.7M414.1,49.2h0.7M421.5,46.4h0.7M428.3,45.4h0.7M424.8,41.6h0.7M412.5,47.1h0.7M421.4,46.8h0.7M415.7,43.4h0.7M433.9,40.0h0.7M422.6,50.4h0.7M420.6,44.7h0.7M409.5,47.8h0.7M419.4,50.3h0.7M421.5,42.3h0.7M424.6,42.9h0.7M419.0,51.5h0.7M427.8,44.6h0.7M426.8,48.0h0.7M425.4,44.3h0.7M422.4,46.0h0.7M425.3,45.8h0.7M418.8,43.7h0.7M424.7,39.3h0.7M421.9,47.7h0.7M423.0,42.7h0.7M421.9,41.7h0.7M427.8,42.3h0.7M412.2,38.3h0.7M423.8,45.1h0.7M419.2,37.8h0.7M421.1,40.0h0.7M418.1,44.1h0.7M417.5,45.6h0.7M417.7,41.8h0.7M420.7,51.1h0.7M431.3,48.6h0.7M417.7,44.1h0.7M427.4,47.9h0.7M412.4,43.8h0.7M417.7,47.7h0.7M425.7,41.5h0.7M434.6,42.7h0.7M436.3,43.3h0.7M421.5,53.2h0.7M418.9,41.8h0.7M430.7,43.9h0.7M424.8,38.1h0.7M432.5,48.8h0.7M424.1,47.5h0.7M419.1,41.8h0.7M412.8,45.8h0.7M429.3,48.2h0.7M427.4,47.5h0.7M416.6,37.8h0.7M425.8,44.9h0.7M427.8,42.8h0.7M416.8,46.2h0.7M418.7,36.3h0.7M418.4,39.9h0.7M415.5,41.5h0.7M427.6,55.3h0.7M432.1,42.1h0.7M428.7,43.7h0.7M424.4,40.9h0.7M421.6,36.1h0.7M432.5,40.4h0.7M425.4,41.3h0.7M423.6,38.5h0.7M419.8,48.4h0.7M425.5,34.8h0.7M427.0,37.8h0.7M423.7,46.6h0.7M418.2,42.6h0.7M420.6,46.0h0.7M427.4,50.6h0.7M423.9,53.6h0.7M416.4,52.5h0.7M420.5,47.7h0.7M421.3,44.5h0.7M416.6,45.9h0.7M433.9,44.8h0.7M421.9,44.1h0.7M426.2,43.1h0.7M422.0,45.1h0.7M429.7,48.6h0.7M415.8,41.1h0.7M422.1,48.1h0.7M427.7,43.1h0.7M434.5,43.3h0.7M430.3,50.8h0.7M431.4,45.0h0.7M425.4,36.8h0.7M411.5,41.2h0.7M426.2,49.1h0.7M421.4,49.0h0.7M425.4,51.3h0.7M412.7,40.1h0.7M416.4,39.1h0.7M431.7,39.7h0.7M417.1,42.2h0.7M427.2,41.9h0.7M426.3,46.7h0.7M418.2,32.9h0.7M416.6,38.2h0.7M431.6,40.7h0.7M415.7,45.9h0.7M422.3,39.6h0.7M428.4,48.4h0.7M423.6,40.5h0.7M416.9,34.3h0.7M424.3,45.9h0.7M416.6,44.2h0.7M441.3,38.7h0.7M412.0,47.0h0.7M419.5,41.7h0.7M425.7,43.5h0.7M427.8,46.5h0.7M428.8,44.6h0.7M409.3,50.5h0.7M412.0,49.0h0.7M423.5,37.5h0.7M422.4,48.3h0.7M416.0,44.3h0.7M417.7,39.3h0.7M418.4,50.1h0.7M426.0,43.9h0.7M421.5,44.7h0.7M423.7,44.9h0.7M411.9,48.4h0.7M417.0,31.7h0.7M426.1,38.3h0.7M421.2,43.6h0.7M418.5,46.6h0.7M420.4,42.7h0.7M416.4,42.7h0.7M415.9,44.3h0.7M429.8,48.9h0.7M424.5,37.6h0.7M428.1,48.5h0.7M434.1,33.4h0.7M422.1,42.5h0.7M428.4,38.9h0.7M419.8,55.1h0.7M427.9,34.6h0.7M422.1,50.6h0.7M418.4,46.9h0.7M422.6,37.1h0.7M418.3,49.4h0.7M429.0,41.2h0.7M428.6,40.7h0.7M423.5,43.9h0.7M414.6,45.6h0.7M419.7,31.0h0.7M417.1,40.0h0.7M417.1,39.4h0.7M417.9,32.4h0.7M427.3,44.4h0.7M423.5,42.8h0.7M422.4,42.8h0.7M415.6,36.8h0.7M422.4,48.9h0.7M423.4,51.7h0.7M413.9,42.8h0.7M418.4,49.9h0.7M432.0,41.5h0.7M426.3,42.9h0.7M416.1,43.5h0.7M415.9,51.4h0.7M425.5,49.7h0.7M424.1,32.4h0.7M426.7,44.5h0.7M407.9,44.5h0.7M428.0,52.2h0.7M416.0,47.8h0.7M424.0,43.2h0.7M420.3,46.6h0.7M425.4,47.2h0.7M419.6,37.7h0.7M429.8,50.2h0.7M418.7,43.9h0.7M426.8,35.6h0.7M424.9,55.6h0.7M423.6,40.6h0.7M434.1,44.1h0.7M423.3,42.0h0.7M423.1,35.4h0.7M414.4,37.0h0.7M427.3,43.6h0.7M428.8,34.3h0.7M418.5,51.0h0.7M417.3,35.1h0.7M417.6,42.4h0.7M421.9,50.3h0.7M429.8,51.4h0.7M425.4,41.6h0.7M419.1,36.9h0.7M429.5,50.0h0.7M422.5,39.7h0.7M426.0,46.4h0.7M422.9,38.4h0.7M423.4,41.3h0.7M426.4,46.9h0.7M424.6,42.0h0.7" stroke="#222" stroke-width="0.7" stroke-opacity="0.5"/>
<ellipse cx="423" cy="43" rx="7.5" ry="7.5" fill="#1e1e1e" fill-opacity="0.9" filter="url(#b20)"/>
<ellipse cx="415" cy="47" rx="7.5" ry="4.5" fill="#262626" fill-opacity="0.9" filter="url(#b20)"/>
<ellipse cx="411" cy="39" rx="5" ry="5" fill="#555" fill-opacity="0.6" filter="url(#b20)"/>
<ellipse cx="417" cy="51.5" rx="8" ry="1.4" fill="#2a5a48" fill-opacity="1.0" filter="url(#b8)"/>
<path d="M393.8,63 L396,58.5 C398,55.5 401,55 404,56.5 C410,56 418,55 427,55.2 C428,56.5 424,58.5 418,59.5 C410,61 403,62 398,63 Z" fill="#1a1a1a" filter="url(#b5)"/>
<path d="M405,58.6 C410,56.8 419,55.8 427,55.7 C424,57.4 417,58.6 410,59.6 Z" fill="#9a2a6a" filter="url(#b5)"/>
<rect x="393.5" y="14.7" width="49.1" height="48.4" fill="none" stroke="#222" stroke-width="1.3"/>
<line x1="383.1" y1="64" x2="383.1" y2="19.4" stroke="#666" stroke-width="1.15"/>
<path d="M381,20.4 L383.1,16.4 L385.2,20.4 Z" fill="#111"/>
<line x1="393" y1="71.3" x2="436.7" y2="71.3" stroke="#666" stroke-width="1.15"/>
<path d="M435.7,69.2 L439.7,71.3 L435.7,73.4 Z" fill="#111"/>
<rect x="388.5" y="14.4" width="2.6" height="1.2" fill="#aaa"/>
<rect x="388.5" y="26.4" width="2.6" height="1.2" fill="#aaa"/>
<rect x="388.5" y="38.4" width="2.6" height="1.2" fill="#aaa"/>
<rect x="388.5" y="50.4" width="2.6" height="1.2" fill="#aaa"/>
<rect x="388.5" y="61.4" width="2.6" height="1.2" fill="#aaa"/>
<rect x="392.7" y="66" width="2.6" height="1.2" fill="#aaa"/>
<rect x="403.7" y="66" width="2.6" height="1.2" fill="#aaa"/>
<rect x="415.7" y="66" width="2.6" height="1.2" fill="#aaa"/>
<rect x="427.7" y="66" width="2.6" height="1.2" fill="#aaa"/>
<rect x="439.7" y="66" width="2.6" height="1.2" fill="#aaa"/>
<text x="379.7" y="63" font-size="6.6" fill="#2a2a2a" stroke="#2a2a2a" stroke-width="0.3" textLength="12.3" lengthAdjust="spacingAndGlyphs" transform="rotate(-90 379.7 63)">SSC</text>
<text x="392.5" y="80" font-size="6.8" fill="#2a2a2a" stroke="#2a2a2a" stroke-width="0.3" textLength="13.5" lengthAdjust="spacingAndGlyphs">FSC</text>
<path d="M310.5,131.4h0.7M311.4,127.4h0.7M311.0,107.6h0.7M338.9,137.1h0.7M326.6,117.1h0.7M308.5,112.0h0.7M318.6,133.1h0.7M341.3,132.9h0.7M332.5,128.9h0.7M313.1,114.1h0.7M321.1,109.3h0.7M342.5,106.1h0.7M322.6,109.3h0.7M348.5,126.0h0.7M330.1,113.9h0.7M351.2,140.2h0.7M328.6,122.6h0.7M348.4,108.1h0.7M319.4,100.8h0.7M331.1,132.1h0.7M314.5,116.3h0.7M354.6,118.6h0.7M325.4,135.5h0.7M349.8,113.7h0.7M312.9,125.9h0.7M342.5,139.4h0.7M338.7,110.5h0.7M331.7,109.5h0.7M328.4,118.0h0.7M350.8,138.6h0.7M351.5,118.5h0.7M353.3,102.5h0.7M351.2,126.1h0.7M348.9,115.4h0.7M354.6,97.2h0.7M347.7,134.5h0.7M325.0,134.9h0.7M317.3,131.4h0.7M329.5,115.3h0.7M316.4,133.6h0.7M342.1,100.2h0.7M353.9,106.4h0.7M325.0,115.5h0.7M334.7,137.8h0.7M352.4,125.8h0.7M324.5,101.0h0.7M310.3,120.4h0.7M335.0,117.0h0.7M354.2,115.4h0.7M323.8,115.7h0.7M315.2,140.1h0.7M335.4,121.5h0.7M327.4,107.8h0.7M322.1,119.2h0.7M328.4,142.0h0.7M334.0,105.7h0.7M309.6,103.5h0.7M323.6,132.8h0.7M349.7,107.1h0.7M344.5,116.8h0.7M332.8,121.0h0.7M309.0,99.1h0.7M339.0,128.4h0.7M325.3,139.2h0.7M346.4,110.2h0.7M310.2,122.0h0.7M338.4,106.5h0.7M309.1,118.9h0.7M308.6,130.6h0.7M337.0,109.1h0.7M328.4,106.9h0.7M315.9,104.5h0.7M346.2,117.3h0.7M341.3,112.3h0.7M345.7,124.0h0.7M338.4,114.5h0.7M334.0,105.0h0.7M353.7,127.6h0.7M332.6,126.0h0.7M311.8,111.7h0.7M318.1,135.6h0.7M307.6,116.9h0.7M348.7,132.8h0.7M341.5,110.2h0.7M318.2,129.1h0.7M321.3,130.0h0.7M323.8,131.7h0.7M334.5,134.3h0.7M354.3,113.8h0.7M354.4,96.5h0.7M349.1,97.4h0.7M333.2,114.2h0.7M344.0,110.8h0.7M317.0,132.9h0.7M333.4,131.5h0.7M330.5,97.7h0.7M344.0,106.3h0.7M329.6,96.0h0.7M319.4,127.3h0.7M343.7,125.9h0.7M328.3,130.4h0.7M339.1,105.7h0.7M332.7,124.1h0.7M342.0,105.3h0.7M321.9,112.1h0.7M311.6,112.4h0.7M342.0,123.1h0.7M315.3,130.4h0.7M312.6,131.3h0.7M314.1,100.5h0.7M319.1,120.2h0.7M320.0,137.6h0.7M352.0,109.3h0.7M343.0,128.7h0.7M333.9,108.0h0.7M352.6,141.0h0.7M307.6,111.5h0.7M322.4,105.3h0.7M327.7,138.2h0.7M308.1,135.3h0.7M321.8,96.6h0.7M350.2,108.8h0.7M317.2,101.5h0.7M324.6,101.6h0.7M315.6,107.8h0.7M334.8,117.0h0.7M321.6,120.7h0.7M344.2,130.0h0.7M323.5,139.1h0.7M345.0,122.4h0.7M329.8,111.5h0.7M313.4,137.6h0.7M336.2,100.6h0.7M351.4,137.7h0.7M308.6,128.9h0.7M318.4,121.2h0.7M347.0,112.5h0.7M330.9,127.3h0.7M316.2,125.4h0.7M327.4,142.2h0.7M316.0,129.4h0.7M309.0,108.9h0.7M312.7,103.0h0.7M332.4,104.2h0.7M345.1,100.5h0.7M336.9,136.5h0.7M313.1,106.2h0.7M343.7,118.1h0.7M351.7,111.9h0.7M326.1,141.0h0.7M323.5,141.4h0.7M349.8,105.4h0.7M333.2,140.2h0.7M312.6,135.9h0.7M344.2,131.2h0.7M335.8,100.7h0.7M353.0,100.8h0.7M344.6,130.0h0.7M322.2,128.2h0.7M326.7,131.3h0.7" stroke="#666" stroke-width="0.7" stroke-opacity="0.25"/>
<path d="M355.4,133.8h0.7M319.5,137.2h0.7M315.0,131.9h0.7M329.0,137.1h0.7M344.4,131.1h0.7M350.4,135.7h0.7M328.4,124.3h0.7M337.0,129.3h0.7M328.4,120.7h0.7M331.6,129.3h0.7M342.5,127.0h0.7M317.8,123.8h0.7M332.6,131.4h0.7M340.0,127.8h0.7M338.2,130.8h0.7M349.4,129.7h0.7M334.4,133.3h0.7M344.8,124.7h0.7M328.4,128.4h0.7M312.3,137.5h0.7M343.4,130.1h0.7M352.6,139.1h0.7M341.8,121.8h0.7M347.9,132.4h0.7M321.4,130.3h0.7M340.3,135.7h0.7M334.7,127.0h0.7M340.4,125.6h0.7M332.3,134.4h0.7M319.0,132.2h0.7M314.0,124.6h0.7M321.0,129.5h0.7M339.9,129.7h0.7M341.9,130.6h0.7M331.0,132.8h0.7M330.7,130.8h0.7M343.1,126.7h0.7M344.2,123.6h0.7M330.9,120.0h0.7M327.8,139.2h0.7M336.5,137.3h0.7M318.7,124.2h0.7M337.5,134.8h0.7M341.1,120.3h0.7M338.0,129.6h0.7M334.2,132.8h0.7M330.3,120.2h0.7M322.6,121.6h0.7M320.2,129.2h0.7M345.7,125.9h0.7M325.6,123.4h0.7M316.2,130.4h0.7M328.3,128.6h0.7M323.7,132.8h0.7M321.3,133.2h0.7M326.6,134.6h0.7M324.4,132.6h0.7M337.3,129.5h0.7M348.9,131.0h0.7M324.4,134.0h0.7M325.0,126.9h0.7M333.1,131.1h0.7M349.6,119.9h0.7M330.5,136.5h0.7M331.4,131.9h0.7M347.9,122.9h0.7M333.4,134.6h0.7M327.3,119.9h0.7M323.3,131.1h0.7M334.8,140.7h0.7M345.9,121.0h0.7M343.1,135.3h0.7M348.8,129.1h0.7M327.6,130.9h0.7M348.1,133.6h0.7M349.5,134.6h0.7M327.3,124.1h0.7M351.0,121.2h0.7M329.6,128.2h0.7M324.1,126.7h0.7M333.1,143.8h0.7M332.4,127.0h0.7M334.2,135.4h0.7M325.1,127.6h0.7M316.0,134.1h0.7M339.6,138.7h0.7M321.3,142.6h0.7M341.5,128.4h0.7M329.2,128.2h0.7M321.2,134.5h0.7M327.1,125.8h0.7M338.0,130.7h0.7M327.3,128.6h0.7M328.2,137.8h0.7M342.8,125.8h0.7M332.6,138.0h0.7M330.2,140.3h0.7M337.3,133.9h0.7M312.8,134.9h0.7M336.3,133.4h0.7M337.7,133.1h0.7M328.0,135.2h0.7M333.6,123.9h0.7M323.1,130.9h0.7M336.3,117.2h0.7M312.9,136.1h0.7M318.1,128.6h0.7M327.2,133.2h0.7M346.7,139.4h0.7M323.2,137.2h0.7M321.1,131.8h0.7M334.7,133.6h0.7M325.2,137.8h0.7M332.3,129.9h0.7M330.4,123.8h0.7M340.0,132.0h0.7M337.4,140.8h0.7" stroke="#666" stroke-width="0.7" stroke-opacity="0.3"/>
<path d="M308.3,135.5 C308.8,132.2 314,132 320,132.4 C326,132.8 330,134 336,134.6 L344,135 L344,136.2 L336,136.6 C330,137 326,138.3 320,138.6 C314,138.9 308.8,138.6 308.3,135.5 Z" fill="#2a2a2a" filter="url(#b5)"/>
<path d="M347.5,123.5 C350.5,126 352.8,131 352.6,136 C352.3,140.5 350,142.3 347.5,142.3 C344.8,142 343.2,139 343.2,135 C343.2,130 345.3,126 347.5,123.5 Z" fill="#2a2a2a" filter="url(#b5)"/>
<ellipse cx="347.3" cy="115.5" rx="0.8" ry="2.8" fill="#777" fill-opacity="1.0" filter="url(#b6)" transform="rotate(35 347.3 115.5)"/>
<ellipse cx="337" cy="110" rx="4.2" ry="2" fill="#d02a80" fill-opacity="1.0" filter="url(#b7)"/>
<path d="M329.6,109.6h0.7M333.0,111.2h0.7M332.3,111.4h0.7M334.8,107.4h0.7M330.3,107.0h0.7M331.9,109.4h0.7M335.3,110.2h0.7M332.8,111.8h0.7M335.3,108.2h0.7M330.3,110.5h0.7M339.6,109.7h0.7M332.3,110.4h0.7M336.1,109.9h0.7M334.2,109.4h0.7M330.9,108.8h0.7M335.6,109.2h0.7M335.1,110.6h0.7M336.8,106.1h0.7M329.2,108.2h0.7M332.4,111.2h0.7M342.9,112.2h0.7M338.3,110.6h0.7M331.5,110.8h0.7M324.5,111.4h0.7M333.0,110.9h0.7M329.0,108.4h0.7M330.5,109.9h0.7M334.4,109.5h0.7M334.4,111.0h0.7M328.5,109.9h0.7M326.9,109.2h0.7M336.5,109.0h0.7M340.3,110.7h0.7M336.5,110.2h0.7M336.4,111.6h0.7M333.4,109.2h0.7M330.9,112.8h0.7M332.3,109.3h0.7M330.2,107.5h0.7M331.0,110.5h0.7M331.1,108.9h0.7M334.6,110.7h0.7M331.3,110.4h0.7M329.2,111.3h0.7M329.1,109.5h0.7M333.5,109.4h0.7M328.5,113.1h0.7M338.9,107.5h0.7M333.5,108.2h0.7M334.2,108.1h0.7" stroke="#d0307a" stroke-width="0.7" stroke-opacity="0.5"/>
<rect x="306.4" y="95" width="49.1" height="48.8" fill="none" stroke="#222" stroke-width="1.3"/>
<line x1="297.2" y1="143.8" x2="297.2" y2="99.2" stroke="#666" stroke-width="1.15"/>
<path d="M295.1,100.2 L297.2,96.2 L299.3,100.2 Z" fill="#111"/>
<line x1="307" y1="153.9" x2="350.5" y2="153.9" stroke="#666" stroke-width="1.15"/>
<path d="M349.5,151.8 L353.5,153.9 L349.5,156 Z" fill="#111"/>
<rect x="301.4" y="96.4" width="2.6" height="1.2" fill="#aaa"/>
<rect x="301.4" y="105.4" width="2.6" height="1.2" fill="#aaa"/>
<rect x="301.4" y="116.4" width="2.6" height="1.2" fill="#aaa"/>
<rect x="301.4" y="131.4" width="2.6" height="1.2" fill="#aaa"/>
<rect x="301.4" y="135.4" width="2.6" height="1.2" fill="#aaa"/>
<rect x="301.4" y="139.4" width="2.6" height="1.2" fill="#aaa"/>
<rect x="309.7" y="146.7" width="2.6" height="1.2" fill="#aaa"/>
<rect x="313.7" y="146.7" width="2.6" height="1.2" fill="#aaa"/>
<rect x="317.7" y="146.7" width="2.6" height="1.2" fill="#aaa"/>
<rect x="335.7" y="146.7" width="2.6" height="1.2" fill="#aaa"/>
<rect x="345.7" y="146.7" width="2.6" height="1.2" fill="#aaa"/>
<rect x="352.7" y="146.7" width="2.6" height="1.2" fill="#aaa"/>
<text x="294.6" y="143.8" font-size="6.8" fill="#2a2a2a" stroke="#2a2a2a" stroke-width="0.3" textLength="18.5" lengthAdjust="spacingAndGlyphs" transform="rotate(-90 294.6 143.8)">FcεRI</text>
<text x="306.4" y="162.9" font-size="6.8" fill="#2a2a2a" stroke="#2a2a2a" stroke-width="0.3" textLength="52.5" lengthAdjust="spacingAndGlyphs">CD172a (SIRP-α)</text>
<rect x="393.5" y="95.4" width="49.6" height="47.6" fill="none" stroke="#222" stroke-width="1.3"/>
<text x="390.3" y="98.5" font-size="6.6" fill="#333" stroke="#333" stroke-width="0.15" text-anchor="end">1.6</text>
<text x="390.3" y="109.8" font-size="6.6" fill="#333" stroke="#333" stroke-width="0.15" text-anchor="end">1.2</text>
<text x="390.3" y="121.9" font-size="6.6" fill="#333" stroke="#333" stroke-width="0.15" text-anchor="end">0.8</text>
<text x="390.3" y="133.7" font-size="6.6" fill="#333" stroke="#333" stroke-width="0.15" text-anchor="end">0.4</text>
<text x="390.3" y="145.3" font-size="6.6" fill="#333" stroke="#333" stroke-width="0.15" text-anchor="end">0</text>
<line x1="398.2" y1="138.6" x2="438" y2="104.9" stroke="#555" stroke-width="0.7"/>
<circle cx="398.5" cy="138.3" r="1.1" fill="#111"/>
<circle cx="401.5" cy="135.8" r="1.1" fill="#111"/>
<circle cx="403" cy="134.5" r="1.1" fill="#111"/>
<circle cx="405.5" cy="132.3" r="1.1" fill="#111"/>
<circle cx="406.5" cy="131.5" r="1.1" fill="#111"/>
<circle cx="408" cy="130.2" r="1.1" fill="#111"/>
<circle cx="410.5" cy="128.1" r="1.1" fill="#111"/>
<circle cx="412" cy="126.8" r="1.1" fill="#111"/>
<circle cx="414" cy="125.1" r="1.1" fill="#111"/>
<circle cx="417.3" cy="122.3" r="1.1" fill="#111"/>
<circle cx="426" cy="114.9" r="1.1" fill="#111"/>
<circle cx="437.5" cy="105.3" r="1.1" fill="#111"/>
<text x="412.9" y="102.3" font-size="5.6" fill="#6a6a9a" stroke="#6a6a9a" stroke-width="0" textLength="27.7" lengthAdjust="spacingAndGlyphs">R² = 0.9919</text>
<text x="394.2" y="150.5" font-size="6.4" fill="#444" stroke="#444" stroke-width="0.1" text-anchor="middle">0</text>
<text x="408" y="155.5" font-size="6.4" fill="#444" stroke="#444" stroke-width="0.1" transform="rotate(-90 408 155.5)">0.4</text>
<text x="421" y="155.5" font-size="6.4" fill="#444" stroke="#444" stroke-width="0.1" transform="rotate(-90 421 155.5)">0.8</text>
<text x="432.2" y="155.5" font-size="6.4" fill="#444" stroke="#444" stroke-width="0.1" transform="rotate(-90 432.2 155.5)">1.2</text>
<text x="444.9" y="155.5" font-size="6.4" fill="#444" stroke="#444" stroke-width="0.1" transform="rotate(-90 444.9 155.5)">1.6</text>
<text x="371.8" y="137.8" font-size="6.3" fill="#333" stroke="#333" stroke-width="0.12" textLength="42.4" lengthAdjust="spacingAndGlyphs" transform="rotate(-90 371.8 137.8)">% of HLA-DR<tspan font-size="4.2" dy="-2.3">+</tspan></text>
<text x="378.2" y="137.8" font-size="6.3" fill="#333" stroke="#333" stroke-width="0.12" textLength="39" lengthAdjust="spacingAndGlyphs" transform="rotate(-90 378.2 137.8)">CD123<tspan font-size="4.2" dy="-2.3">+</tspan><tspan dy="2.3"> cells</tspan></text>
<text x="398" y="163.6" font-size="6.6" fill="#333" stroke="#333" stroke-width="0.12" textLength="30.9" lengthAdjust="spacingAndGlyphs">% of FcεRI</text>
<text x="429.4" y="161.1" font-size="5.6" fill="#333" stroke="#333" stroke-width="0.12" textLength="12.2" lengthAdjust="spacingAndGlyphs">high</text>
<text x="398" y="171.5" font-size="6.6" fill="#333" stroke="#333" stroke-width="0.12" textLength="22.2" lengthAdjust="spacingAndGlyphs">SIRP-α</text>
<text x="420.9" y="168.1" font-size="5.2" fill="#333" stroke="#333" stroke-width="0.12" textLength="8" lengthAdjust="spacingAndGlyphs">low</text>
<text x="429.4" y="171.5" font-size="6.6" fill="#333" stroke="#333" stroke-width="0.12" textLength="12.7" lengthAdjust="spacingAndGlyphs">cells</text>
<path d="M42.9,228.4h0.7M42.2,251.4h0.7M50.6,234.1h0.7M58.7,222.7h0.7M65.0,248.4h0.7M68.4,251.6h0.7M50.4,224.4h0.7M67.1,244.6h0.7M52.4,231.7h0.7M44.3,249.8h0.7M55.8,249.0h0.7M51.2,230.9h0.7M57.7,246.6h0.7M71.6,232.1h0.7M64.5,233.9h0.7M70.8,247.1h0.7M59.3,232.4h0.7M48.8,251.7h0.7M68.5,230.3h0.7M41.7,226.2h0.7M74.7,220.5h0.7M68.9,238.6h0.7M59.3,239.0h0.7M53.9,239.6h0.7M41.9,253.0h0.7M42.4,224.1h0.7M63.7,242.7h0.7M68.8,244.6h0.7M73.4,220.9h0.7M38.9,227.8h0.7M67.7,224.6h0.7M58.4,247.5h0.7M44.4,238.5h0.7M72.3,246.7h0.7M53.4,236.7h0.7M48.9,254.5h0.7M67.8,244.2h0.7M49.9,246.1h0.7M56.8,248.5h0.7M52.1,251.6h0.7M64.2,235.7h0.7M59.6,248.8h0.7M58.3,254.5h0.7M38.8,252.2h0.7M65.3,237.1h0.7M70.4,224.5h0.7M51.2,245.4h0.7M69.4,232.8h0.7M75.8,243.0h0.7M40.2,223.6h0.7M41.4,240.1h0.7M50.6,228.7h0.7M55.3,221.9h0.7M72.6,250.0h0.7M59.4,235.4h0.7M50.1,241.3h0.7M51.5,255.1h0.7M74.4,245.9h0.7M69.5,221.8h0.7M43.1,231.8h0.7M43.2,234.6h0.7M75.5,249.9h0.7M74.5,227.2h0.7M46.8,219.9h0.7M48.8,221.1h0.7M58.3,230.1h0.7M63.8,239.8h0.7M60.9,230.1h0.7M66.1,244.5h0.7M65.3,236.4h0.7M55.9,229.6h0.7M40.0,236.2h0.7M61.6,225.9h0.7M70.8,251.5h0.7M70.5,249.2h0.7M56.8,225.5h0.7M48.7,246.3h0.7M75.4,223.1h0.7M38.7,232.1h0.7M51.6,241.1h0.7" stroke="#777" stroke-width="0.7" stroke-opacity="0.2"/>
<path d="M69.3,234.7h0.7M56.3,236.6h0.7M60.0,233.2h0.7M67.8,238.0h0.7M54.1,228.0h0.7M67.8,232.4h0.7M60.5,222.4h0.7M64.2,230.5h0.7M49.2,238.8h0.7M49.8,229.4h0.7M62.0,231.7h0.7M65.7,230.2h0.7M57.6,229.9h0.7M51.7,227.7h0.7M71.7,229.0h0.7M61.6,236.6h0.7M67.2,231.4h0.7M65.6,230.2h0.7M57.6,233.9h0.7M62.7,235.7h0.7M60.7,229.9h0.7M63.7,230.4h0.7M60.5,228.4h0.7M63.2,231.9h0.7M71.0,230.9h0.7M53.4,232.4h0.7M73.2,229.7h0.7M58.1,230.5h0.7M48.0,230.0h0.7M61.1,226.6h0.7M64.8,228.4h0.7M52.9,228.9h0.7M65.1,236.6h0.7M68.1,231.6h0.7M59.5,230.2h0.7M66.7,229.5h0.7M64.0,233.8h0.7M57.6,229.3h0.7M64.2,231.0h0.7M61.4,229.4h0.7" stroke="#999" stroke-width="0.7" stroke-opacity="0.35"/>
<path d="M55.5,253.6h0.7M66.7,246.8h0.7M56.4,250.2h0.7M56.3,247.3h0.7M55.0,250.3h0.7M50.7,250.6h0.7M36.9,247.1h0.7M56.8,250.8h0.7M54.7,249.1h0.7M57.5,252.1h0.7M63.1,249.8h0.7M52.3,252.1h0.7M60.2,251.7h0.7M53.8,248.3h0.7M57.5,248.8h0.7M65.0,251.7h0.7M38.9,251.3h0.7M66.5,252.0h0.7M52.3,248.3h0.7M63.6,252.0h0.7M56.5,247.7h0.7M44.0,250.5h0.7M49.5,248.7h0.7M59.5,252.1h0.7M39.8,248.7h0.7M66.2,249.9h0.7M53.3,251.3h0.7M47.1,247.6h0.7M56.2,253.1h0.7M64.0,250.0h0.7M63.9,249.2h0.7M46.7,246.7h0.7M58.1,251.8h0.7M58.9,249.9h0.7M52.9,252.1h0.7M55.6,247.2h0.7M66.8,248.7h0.7M59.1,250.0h0.7M64.3,250.5h0.7M65.6,250.4h0.7M52.4,249.0h0.7M61.1,248.4h0.7M63.3,249.5h0.7M48.7,248.3h0.7M54.9,253.5h0.7M62.1,250.0h0.7M48.9,253.7h0.7M53.8,250.0h0.7M52.7,252.6h0.7M57.4,249.1h0.7M57.5,248.0h0.7M47.7,249.7h0.7M71.6,247.8h0.7M54.9,246.9h0.7M57.4,250.4h0.7M61.8,247.4h0.7M51.3,248.7h0.7M54.1,254.5h0.7M54.4,249.9h0.7M52.0,251.6h0.7M76.1,252.3h0.7M68.0,247.9h0.7M64.3,250.1h0.7M65.8,252.1h0.7M61.1,246.7h0.7M57.1,249.0h0.7M59.5,250.1h0.7M64.2,246.9h0.7M50.2,249.9h0.7M58.5,249.2h0.7M55.8,250.1h0.7M64.2,249.8h0.7M57.9,246.4h0.7M35.4,247.1h0.7M58.8,245.5h0.7M59.2,249.8h0.7M56.0,248.6h0.7M52.7,251.6h0.7M58.8,249.9h0.7M52.2,250.4h0.7M65.4,250.0h0.7M53.1,247.7h0.7M56.8,248.2h0.7M44.7,251.7h0.7M51.1,246.0h0.7M50.3,253.6h0.7M55.2,247.4h0.7M47.3,251.4h0.7M59.2,250.4h0.7M54.5,251.0h0.7M68.1,251.0h0.7M54.7,247.3h0.7M59.5,253.1h0.7M61.1,247.5h0.7M57.5,252.6h0.7M51.0,251.0h0.7M65.5,253.2h0.7M43.5,246.6h0.7M58.9,251.4h0.7M53.2,250.0h0.7M52.8,252.4h0.7M38.6,250.5h0.7M45.9,248.7h0.7M43.9,248.2h0.7M55.8,250.1h0.7M70.1,249.6h0.7M58.7,250.7h0.7M58.0,252.9h0.7M57.1,250.3h0.7M55.1,250.0h0.7M55.6,252.0h0.7M56.2,250.1h0.7M55.6,251.5h0.7M52.3,251.8h0.7M51.5,251.4h0.7M71.1,250.5h0.7M55.3,247.7h0.7M61.8,250.0h0.7M63.2,248.7h0.7M60.1,253.6h0.7M59.2,249.4h0.7M45.7,250.0h0.7M61.2,251.2h0.7M47.2,248.0h0.7M48.3,248.0h0.7M53.8,250.5h0.7M71.2,250.4h0.7M67.5,246.7h0.7M68.2,251.6h0.7M59.5,251.6h0.7M60.9,253.8h0.7M62.4,246.6h0.7M42.2,253.2h0.7M55.3,252.6h0.7M53.3,248.7h0.7M53.3,250.6h0.7M57.5,248.8h0.7M60.2,251.2h0.7M48.8,247.8h0.7M40.5,249.4h0.7M56.1,248.6h0.7M51.2,249.7h0.7M56.2,251.1h0.7M62.6,250.9h0.7M64.8,248.1h0.7M60.8,250.7h0.7M47.8,248.7h0.7M59.5,250.1h0.7M46.1,248.9h0.7" stroke="#444" stroke-width="0.7" stroke-opacity="0.35"/>
<ellipse cx="58" cy="250.8" rx="9" ry="2.2" fill="#555" fill-opacity="0.8" filter="url(#b15)"/>
<ellipse cx="66" cy="251.5" rx="5" ry="1.5" fill="#999" fill-opacity="1.0" filter="url(#b15)"/>
<ellipse cx="44.8" cy="250.9" rx="4.8" ry="2.2" fill="#111" fill-opacity="1.0" filter="url(#b9)"/>
<ellipse cx="50" cy="250.5" rx="3" ry="1.8" fill="#333" fill-opacity="1.0" filter="url(#b10)"/>
<ellipse cx="43.8" cy="223.7" rx="2.2" ry="0.9" fill="#333" fill-opacity="1.0" filter="url(#b6)"/>
<ellipse cx="44.5" cy="236" rx="2.5" ry="8" fill="#ccc" fill-opacity="0.6" filter="url(#b15)"/>
<rect x="33.5" y="212" width="48.5" height="46.3" fill="none" stroke="#222" stroke-width="1.3"/>
<rect x="38.3" y="219.1" width="12.3" height="37" fill="none" stroke="#333" stroke-width="1.1"/>
<rect x="53.3" y="219.1" width="23.3" height="37" fill="none" stroke="#333" stroke-width="1.1"/>
<line x1="26" y1="258.3" x2="26" y2="216.4" stroke="#666" stroke-width="1.15"/>
<path d="M23.9,217.4 L26,213.4 L28.1,217.4 Z" fill="#111"/>
<line x1="33.7" y1="266" x2="78.3" y2="266" stroke="#666" stroke-width="1.15"/>
<path d="M77.3,263.9 L81.3,266 L77.3,268.1 Z" fill="#111"/>
<rect x="28.7" y="211.4" width="2.6" height="1.2" fill="#aaa"/>
<rect x="28.7" y="218.4" width="2.6" height="1.2" fill="#aaa"/>
<rect x="28.7" y="225.4" width="2.6" height="1.2" fill="#aaa"/>
<rect x="28.7" y="234.4" width="2.6" height="1.2" fill="#aaa"/>
<rect x="28.7" y="248.4" width="2.6" height="1.2" fill="#aaa"/>
<rect x="28.7" y="252.4" width="2.6" height="1.2" fill="#aaa"/>
<rect x="28.7" y="256.4" width="2.6" height="1.2" fill="#aaa"/>
<rect x="35.7" y="262" width="2.6" height="1.2" fill="#aaa"/>
<rect x="38.7" y="262" width="2.6" height="1.2" fill="#aaa"/>
<rect x="42.7" y="262" width="2.6" height="1.2" fill="#aaa"/>
<rect x="61.7" y="262" width="2.6" height="1.2" fill="#aaa"/>
<rect x="70.7" y="262" width="2.6" height="1.2" fill="#aaa"/>
<rect x="78.7" y="262" width="2.6" height="1.2" fill="#aaa"/>
<text x="24.3" y="257.5" font-size="6.6" fill="#333" stroke="#333" stroke-width="0.35" textLength="22.7" lengthAdjust="spacingAndGlyphs" transform="rotate(-90 24.3 257.5)">FcεRI</text>
<text x="32" y="275.6" font-size="6.8" fill="#2a2a2a" stroke="#2a2a2a" stroke-width="0.3" textLength="16.4" lengthAdjust="spacingAndGlyphs">CD1c</text>
<text x="108.1" y="208.7" font-size="6.8" fill="#4a4a4a" stroke="#4a4a4a" stroke-width="0.12" textLength="47" lengthAdjust="spacingAndGlyphs">Gated on CD1c<tspan font-size="4.5" dy="-2.6">−</tspan></text>
<path d="M110.1,247.5h0.7M118.3,239.1h0.7M133.0,227.6h0.7M154.3,230.2h0.7M127.6,236.9h0.7M148.8,257.4h0.7M145.2,236.8h0.7M142.6,241.4h0.7M154.9,256.6h0.7M144.8,222.0h0.7M135.0,232.2h0.7M117.8,247.9h0.7M117.3,244.6h0.7M131.0,231.6h0.7M142.0,245.3h0.7M156.5,257.9h0.7M146.8,224.1h0.7M140.1,234.8h0.7M154.0,232.6h0.7M124.2,213.2h0.7M130.0,236.5h0.7M121.7,216.8h0.7M130.7,215.2h0.7M114.8,232.4h0.7M123.8,235.0h0.7M133.0,229.9h0.7M112.8,212.8h0.7M134.5,256.6h0.7M120.3,228.2h0.7M122.3,246.2h0.7M131.2,248.6h0.7M106.3,218.1h0.7M116.5,229.0h0.7M126.4,229.7h0.7M155.3,232.2h0.7M135.4,256.3h0.7M138.7,239.4h0.7M148.2,227.4h0.7M107.8,256.1h0.7M133.3,238.8h0.7M109.4,246.3h0.7M125.1,241.6h0.7M120.5,254.2h0.7M124.8,224.7h0.7M151.6,222.2h0.7M119.8,234.4h0.7M156.0,217.3h0.7M116.7,248.6h0.7M109.8,231.1h0.7M145.9,244.8h0.7M146.5,217.4h0.7M151.4,228.4h0.7M147.5,233.7h0.7M151.5,234.0h0.7M119.1,218.9h0.7M131.3,214.3h0.7M114.4,252.2h0.7M135.3,251.7h0.7M113.7,234.1h0.7M129.9,217.0h0.7M119.4,254.4h0.7M142.9,235.4h0.7M137.1,251.6h0.7M154.6,239.4h0.7M108.6,252.1h0.7M114.4,223.0h0.7M113.0,235.6h0.7M135.7,233.2h0.7M130.0,218.5h0.7M142.6,236.7h0.7M121.8,250.3h0.7M153.9,254.4h0.7M156.2,215.2h0.7M125.8,232.7h0.7M119.1,246.2h0.7M152.2,218.4h0.7M131.8,256.5h0.7M151.3,232.7h0.7M111.3,233.0h0.7M132.4,248.1h0.7M115.5,224.9h0.7M156.2,212.5h0.7M137.2,216.4h0.7M144.3,231.5h0.7M153.2,222.3h0.7M150.8,222.5h0.7M108.4,216.0h0.7M109.9,229.9h0.7M155.6,228.3h0.7M142.6,213.6h0.7M132.3,236.8h0.7M111.0,238.7h0.7M128.7,227.1h0.7M148.4,243.8h0.7M112.1,216.9h0.7M108.7,224.1h0.7M138.5,256.5h0.7M155.4,251.8h0.7M112.3,248.4h0.7M144.9,233.7h0.7M156.8,239.6h0.7M112.0,221.9h0.7M112.6,240.1h0.7M137.8,251.5h0.7M106.5,212.5h0.7M155.6,224.1h0.7M119.5,251.9h0.7M111.7,248.5h0.7M151.7,237.9h0.7M137.0,212.3h0.7M136.9,240.2h0.7M145.3,235.8h0.7M111.8,222.2h0.7M139.3,215.7h0.7M111.4,223.5h0.7M146.6,237.1h0.7M124.2,256.3h0.7M135.6,223.0h0.7M134.8,251.4h0.7M124.8,232.0h0.7" stroke="#666" stroke-width="0.7" stroke-opacity="0.25"/>
<path d="M122.7,221.4h0.7M119.9,221.5h0.7M113.5,222.3h0.7M135.4,222.2h0.7M121.8,223.5h0.7M129.9,220.8h0.7M121.5,221.3h0.7M125.6,223.4h0.7M120.4,221.8h0.7M126.9,220.6h0.7M122.2,222.7h0.7M134.9,219.8h0.7M131.6,221.7h0.7M136.2,222.7h0.7M141.6,222.4h0.7M122.9,221.0h0.7M114.7,222.7h0.7M130.1,223.0h0.7M128.8,220.2h0.7M122.8,221.7h0.7M127.3,222.9h0.7M137.2,222.3h0.7M109.7,220.8h0.7M109.1,221.1h0.7M116.5,222.3h0.7M124.3,223.3h0.7M134.5,221.5h0.7M133.5,222.0h0.7M129.6,223.6h0.7M116.9,221.9h0.7M138.2,221.1h0.7M127.7,222.2h0.7M122.7,220.5h0.7M120.6,220.8h0.7M134.5,222.3h0.7M131.6,220.6h0.7M130.0,222.2h0.7M134.3,221.2h0.7M132.4,223.6h0.7M140.3,220.9h0.7M117.1,220.3h0.7M133.6,222.7h0.7M128.7,221.0h0.7M135.9,223.9h0.7M125.7,221.9h0.7M135.4,222.6h0.7M136.6,221.5h0.7M128.7,221.6h0.7M121.5,221.7h0.7M123.8,222.6h0.7M123.6,222.1h0.7M119.6,220.6h0.7M137.3,220.8h0.7M140.3,223.1h0.7M107.9,221.2h0.7M122.7,222.0h0.7M124.6,221.3h0.7M135.9,221.9h0.7M133.6,221.2h0.7M120.6,223.6h0.7M123.8,220.7h0.7M124.7,223.2h0.7M124.7,221.2h0.7M131.0,223.2h0.7M124.4,221.6h0.7M123.1,225.2h0.7M124.5,224.1h0.7M124.8,222.5h0.7M109.9,222.2h0.7M126.4,221.6h0.7M122.8,220.4h0.7M114.2,222.2h0.7M121.0,221.9h0.7M124.6,221.4h0.7M120.3,224.2h0.7M117.3,221.4h0.7M123.7,220.6h0.7M118.4,223.0h0.7M133.4,222.2h0.7" stroke="#555" stroke-width="0.7" stroke-opacity="0.45"/>
<path d="M156.5,234.8h0.7M151.5,229.2h0.7M151.2,237.8h0.7M147.6,238.2h0.7M146.5,228.1h0.7M148.4,229.2h0.7M150.1,228.2h0.7M148.7,225.3h0.7M148.4,235.6h0.7M147.9,233.1h0.7M151.2,228.2h0.7M145.4,232.3h0.7M149.2,231.1h0.7M146.1,236.2h0.7M145.6,231.1h0.7M148.4,234.5h0.7M147.4,229.2h0.7M153.5,229.1h0.7M150.5,231.5h0.7M147.3,231.9h0.7M147.9,233.1h0.7M142.2,231.9h0.7M148.7,228.7h0.7M147.6,240.0h0.7M153.1,234.2h0.7M149.1,231.0h0.7M151.9,230.5h0.7M146.5,234.4h0.7M146.1,229.3h0.7M152.1,226.5h0.7M148.3,232.4h0.7M149.1,227.0h0.7M147.9,230.9h0.7M153.3,235.4h0.7M146.6,235.0h0.7M150.1,231.6h0.7M147.9,231.1h0.7M144.7,229.8h0.7M150.8,236.9h0.7M153.1,230.7h0.7M150.0,223.8h0.7M147.8,227.7h0.7M150.5,226.3h0.7M145.9,228.2h0.7M149.5,234.9h0.7M146.2,238.2h0.7M148.9,229.2h0.7M149.4,232.0h0.7M150.6,233.2h0.7M153.9,236.0h0.7" stroke="#888" stroke-width="0.7" stroke-opacity="0.5"/>
<path d="M124.4,251.7h0.7M136.8,249.0h0.7M123.4,249.3h0.7M108.1,251.4h0.7M128.1,252.3h0.7M125.1,250.6h0.7M136.5,251.9h0.7M132.9,249.0h0.7M149.6,251.8h0.7M142.1,252.9h0.7M142.5,251.1h0.7M134.2,251.4h0.7M116.7,251.7h0.7M121.4,251.1h0.7M121.1,251.5h0.7M125.7,254.1h0.7M131.8,251.2h0.7M122.0,250.1h0.7M129.5,250.1h0.7M126.2,249.2h0.7M136.8,249.9h0.7M122.8,251.0h0.7M122.9,250.2h0.7M125.5,249.1h0.7M128.1,249.3h0.7M118.9,251.0h0.7M127.4,248.4h0.7M126.6,250.8h0.7M133.9,251.0h0.7M132.3,251.4h0.7M125.7,249.3h0.7M135.5,249.9h0.7M130.2,251.5h0.7M138.4,252.3h0.7M124.0,250.0h0.7M135.0,248.4h0.7M118.9,251.4h0.7M124.6,249.2h0.7M137.2,251.3h0.7M138.2,250.0h0.7M127.5,250.0h0.7M132.7,247.5h0.7M123.9,251.5h0.7M123.2,250.4h0.7M131.2,251.3h0.7M125.9,248.8h0.7M152.2,249.5h0.7M145.2,247.9h0.7M131.1,250.2h0.7M146.9,253.5h0.7M138.7,249.0h0.7M123.0,249.4h0.7M125.5,250.9h0.7M123.1,250.1h0.7M143.1,252.6h0.7M113.6,249.1h0.7M126.8,252.4h0.7M127.2,253.3h0.7M133.3,252.6h0.7M122.5,250.0h0.7M139.1,251.3h0.7M113.6,250.1h0.7M131.7,251.4h0.7M124.5,253.0h0.7M131.4,252.6h0.7M133.7,250.6h0.7M127.3,248.8h0.7M137.7,251.6h0.7M138.3,250.0h0.7M121.2,250.0h0.7M127.3,250.5h0.7M138.8,249.2h0.7M125.8,251.5h0.7M138.1,253.7h0.7M134.7,249.3h0.7M120.9,249.4h0.7M130.7,250.9h0.7M129.5,249.6h0.7M128.5,250.4h0.7M135.3,250.6h0.7M122.9,248.8h0.7M143.2,250.4h0.7M128.5,250.5h0.7M140.1,250.0h0.7M131.7,250.2h0.7M135.2,249.0h0.7M131.9,252.0h0.7M140.6,251.4h0.7M132.7,252.8h0.7M136.4,252.5h0.7M119.5,248.9h0.7M137.2,250.1h0.7M126.3,249.1h0.7M143.2,248.8h0.7M131.0,248.5h0.7M128.6,253.8h0.7M151.6,249.8h0.7M121.2,252.9h0.7M122.6,247.9h0.7M133.2,248.9h0.7M117.3,252.1h0.7M123.7,249.0h0.7M131.6,250.2h0.7M140.0,250.6h0.7M144.2,252.2h0.7M145.8,252.1h0.7M130.8,251.3h0.7M130.3,248.2h0.7M119.8,251.6h0.7M109.3,249.3h0.7M118.8,250.4h0.7M121.0,250.9h0.7M128.4,249.8h0.7M122.7,247.3h0.7M130.8,248.6h0.7M127.5,251.0h0.7M139.4,251.5h0.7M143.2,248.4h0.7M136.1,252.8h0.7M133.6,248.9h0.7" stroke="#555" stroke-width="0.7" stroke-opacity="0.35"/>
<ellipse cx="115.3" cy="251.1" rx="6.5" ry="2.1" fill="#111" fill-opacity="1.0" filter="url(#b10)"/>
<ellipse cx="130" cy="250.8" rx="12" ry="1.5" fill="#888" fill-opacity="1.0" filter="url(#b12)"/>
<ellipse cx="149.6" cy="249.9" rx="4" ry="2.3" fill="#222" fill-opacity="1.0" filter="url(#b10)"/>
<ellipse cx="152" cy="245" rx="1.5" ry="3" fill="#777" fill-opacity="1.0" filter="url(#b10)"/>
<ellipse cx="125.7" cy="222" rx="17.5" ry="5.2" fill="none" stroke="#c05454" stroke-width="1.0"/>
<ellipse cx="148.7" cy="232.6" rx="7.4" ry="9" fill="none" stroke="#4a4a9a" stroke-width="1.0" transform="rotate(-10 148.7 232.6)"/>
<rect x="105.6" y="211.6" width="51.9" height="47.3" fill="none" stroke="#222" stroke-width="1.3"/>
<line x1="96.4" y1="258.9" x2="96.4" y2="216.4" stroke="#666" stroke-width="1.15"/>
<path d="M94.3,217.4 L96.4,213.4 L98.5,217.4 Z" fill="#111"/>
<line x1="106" y1="266.1" x2="153.3" y2="266.1" stroke="#666" stroke-width="1.15"/>
<path d="M152.3,264 L156.3,266.1 L152.3,268.2 Z" fill="#111"/>
<rect x="100.6" y="211.4" width="2.6" height="1.2" fill="#aaa"/>
<rect x="100.6" y="218.4" width="2.6" height="1.2" fill="#aaa"/>
<rect x="100.6" y="225.4" width="2.6" height="1.2" fill="#aaa"/>
<rect x="100.6" y="234.4" width="2.6" height="1.2" fill="#aaa"/>
<rect x="100.6" y="248.4" width="2.6" height="1.2" fill="#aaa"/>
<rect x="100.6" y="252.4" width="2.6" height="1.2" fill="#aaa"/>
<rect x="100.6" y="256.4" width="2.6" height="1.2" fill="#aaa"/>
<rect x="108.7" y="262" width="2.6" height="1.2" fill="#aaa"/>
<rect x="112.7" y="262" width="2.6" height="1.2" fill="#aaa"/>
<rect x="116.7" y="262" width="2.6" height="1.2" fill="#aaa"/>
<rect x="134.7" y="262" width="2.6" height="1.2" fill="#aaa"/>
<rect x="144.7" y="262" width="2.6" height="1.2" fill="#aaa"/>
<rect x="153.7" y="262" width="2.6" height="1.2" fill="#aaa"/>
<text x="95.6" y="258" font-size="6.6" fill="#333" stroke="#333" stroke-width="0.35" textLength="22.7" lengthAdjust="spacingAndGlyphs" transform="rotate(-90 95.6 258)">FcεRI</text>
<text x="106" y="275.6" font-size="6.8" fill="#2a2a2a" stroke="#2a2a2a" stroke-width="0.3" textLength="51" lengthAdjust="spacingAndGlyphs">CD172a (SIRP-α)</text>
<text x="256.8" y="208.7" font-size="6.8" fill="#4a4a4a" stroke="#4a4a4a" stroke-width="0.12" textLength="49.8" lengthAdjust="spacingAndGlyphs">Gated on CD1c<tspan font-size="4.5" dy="-2.6">+</tspan></text>
<path d="M305.1,220.4h0.7M275.8,235.1h0.7M297.7,232.2h0.7M273.9,251.0h0.7M278.9,230.9h0.7M269.5,233.7h0.7M296.5,228.3h0.7M294.1,234.2h0.7M257.7,255.3h0.7M273.1,236.6h0.7M310.7,221.3h0.7M260.6,221.2h0.7M265.6,250.3h0.7M286.0,213.9h0.7M272.2,235.0h0.7M266.8,225.8h0.7M307.7,232.0h0.7M270.1,238.9h0.7M263.3,235.4h0.7M293.3,216.0h0.7M287.7,225.9h0.7M298.7,239.7h0.7M307.9,239.3h0.7M267.2,220.3h0.7M296.4,248.5h0.7M260.5,230.8h0.7M272.8,233.0h0.7M305.9,237.2h0.7M298.7,246.4h0.7M272.5,239.8h0.7M278.0,233.3h0.7M286.7,242.0h0.7M266.4,249.7h0.7M266.0,226.1h0.7M304.6,256.3h0.7M277.5,254.8h0.7M259.1,255.0h0.7M268.3,213.6h0.7M299.7,219.3h0.7M299.1,212.3h0.7M263.9,228.1h0.7M261.7,233.2h0.7M276.4,245.2h0.7M284.6,255.4h0.7M304.2,219.7h0.7M308.4,252.3h0.7M288.6,235.7h0.7M266.5,226.4h0.7M269.3,220.8h0.7M291.4,226.6h0.7M300.0,237.8h0.7M303.3,215.9h0.7M304.4,234.8h0.7M292.4,222.7h0.7M296.0,230.3h0.7M297.4,238.3h0.7M264.8,225.5h0.7M299.1,212.7h0.7M292.4,236.5h0.7M297.0,226.8h0.7" stroke="#777" stroke-width="0.7" stroke-opacity="0.2"/>
<path d="M296.1,227.2h0.7M300.0,226.4h0.7M297.3,226.9h0.7M297.7,226.4h0.7M300.7,228.0h0.7M302.6,226.1h0.7M304.2,225.3h0.7M299.5,228.9h0.7M308.1,227.2h0.7M298.8,226.5h0.7M295.9,226.8h0.7M298.6,225.9h0.7M304.1,225.9h0.7M305.8,228.2h0.7M302.2,226.2h0.7M298.3,224.1h0.7M301.0,226.6h0.7M301.4,226.0h0.7M301.7,224.8h0.7M292.6,227.7h0.7M303.7,222.4h0.7M304.4,226.5h0.7M299.5,224.8h0.7M296.7,228.0h0.7M297.6,226.9h0.7M299.5,229.9h0.7M303.1,225.1h0.7M298.4,225.3h0.7M295.4,226.0h0.7M303.8,227.1h0.7" stroke="#888" stroke-width="0.7" stroke-opacity="0.5"/>
<path d="M291.7,250.3h0.7M281.1,250.6h0.7M284.4,253.3h0.7M302.5,251.0h0.7M291.0,247.6h0.7M284.0,254.0h0.7M277.4,251.7h0.7M296.9,249.9h0.7M283.0,249.8h0.7M292.8,250.5h0.7M299.7,252.2h0.7M285.0,254.3h0.7M282.2,249.6h0.7M282.9,249.2h0.7M281.1,250.4h0.7M293.7,248.2h0.7M271.6,249.4h0.7M282.2,251.2h0.7M277.5,252.7h0.7M280.0,250.2h0.7M285.7,252.2h0.7M288.0,250.5h0.7M279.9,250.7h0.7M289.0,250.0h0.7M284.9,247.8h0.7M280.0,252.2h0.7M298.8,250.4h0.7M264.3,253.2h0.7M283.5,254.2h0.7M281.2,252.0h0.7M279.2,252.5h0.7M296.3,249.0h0.7M297.6,254.7h0.7M283.0,248.7h0.7M287.8,249.9h0.7M270.7,249.0h0.7M287.5,248.3h0.7M295.5,251.2h0.7M283.4,252.5h0.7M276.2,251.5h0.7M272.1,250.0h0.7M291.3,249.7h0.7M284.0,251.4h0.7M299.8,252.4h0.7M289.5,250.1h0.7M271.2,253.0h0.7M303.2,247.4h0.7M293.5,250.4h0.7M291.9,251.0h0.7M283.2,250.5h0.7M284.7,252.2h0.7M282.6,249.7h0.7M291.4,251.4h0.7M289.3,250.9h0.7M299.3,252.1h0.7M287.1,250.2h0.7M291.5,247.8h0.7M280.1,249.5h0.7M286.8,249.9h0.7M308.8,251.6h0.7M289.0,253.8h0.7M285.1,250.0h0.7M297.0,251.7h0.7M294.0,252.3h0.7M281.6,249.5h0.7M278.2,250.7h0.7M294.7,249.0h0.7M280.0,248.6h0.7M304.3,251.7h0.7M287.2,248.7h0.7M275.2,249.6h0.7M285.4,248.6h0.7M282.9,252.3h0.7M285.2,250.6h0.7M265.0,250.1h0.7M283.7,249.5h0.7M271.8,250.4h0.7M275.3,249.7h0.7M269.8,250.4h0.7M293.8,249.3h0.7M288.2,248.3h0.7M290.7,251.3h0.7M281.4,251.8h0.7M276.7,250.6h0.7M301.3,250.5h0.7M274.3,252.2h0.7M290.2,250.1h0.7M267.6,247.8h0.7M270.5,252.7h0.7M287.9,249.3h0.7M296.2,252.6h0.7M277.0,251.2h0.7M269.3,251.0h0.7M302.5,248.4h0.7M285.6,249.6h0.7M284.2,250.6h0.7M287.8,251.8h0.7M290.0,252.0h0.7M294.8,252.1h0.7M278.6,251.1h0.7M281.5,249.3h0.7M303.9,250.9h0.7M285.5,247.4h0.7M282.9,251.6h0.7M283.1,249.7h0.7M299.2,250.0h0.7M281.9,250.4h0.7M282.8,252.0h0.7M290.6,250.4h0.7M281.6,250.2h0.7M301.3,250.1h0.7M291.4,248.2h0.7M288.2,251.5h0.7M297.3,251.0h0.7M290.6,251.0h0.7M295.3,253.5h0.7M287.0,249.3h0.7M290.8,250.3h0.7M291.2,251.6h0.7M286.6,249.9h0.7M288.0,248.7h0.7M287.7,249.2h0.7M289.4,250.7h0.7M283.0,248.7h0.7M285.6,249.5h0.7M283.7,251.5h0.7M294.2,248.6h0.7M294.1,252.5h0.7M295.9,250.9h0.7M284.2,253.0h0.7M282.0,248.3h0.7M286.0,250.9h0.7M275.2,248.7h0.7M304.1,250.7h0.7M292.6,249.6h0.7M270.6,250.2h0.7M297.9,249.5h0.7M268.0,250.2h0.7M282.4,250.5h0.7M275.1,250.0h0.7M279.9,251.8h0.7M286.6,251.8h0.7M284.6,247.4h0.7M266.4,251.3h0.7M293.5,251.8h0.7M284.4,247.9h0.7M280.4,251.1h0.7M298.3,250.0h0.7M279.7,249.4h0.7M294.9,251.8h0.7M267.6,252.3h0.7M276.3,248.3h0.7M269.9,249.4h0.7M307.3,254.2h0.7M273.2,249.5h0.7M286.6,251.1h0.7M280.5,248.2h0.7M281.2,249.5h0.7M268.0,250.7h0.7M271.1,248.0h0.7" stroke="#444" stroke-width="0.7" stroke-opacity="0.4"/>
<ellipse cx="276" cy="250.7" rx="9" ry="1.6" fill="#333" fill-opacity="1.0" filter="url(#b10)"/>
<ellipse cx="293" cy="250.7" rx="8" ry="1.3" fill="#888" fill-opacity="1.0" filter="url(#b12)"/>
<ellipse cx="307.5" cy="248.2" rx="2.4" ry="2.8" fill="#1a1a1a" fill-opacity="1.0" filter="url(#b10)"/>
<path d="M309.9,249.3h0.7M309.8,247.3h0.7M306.2,246.8h0.7M304.4,248.8h0.7M307.5,246.3h0.7M303.4,246.7h0.7M310.1,250.5h0.7M308.7,246.1h0.7M307.3,248.4h0.7M307.4,249.6h0.7M305.7,241.3h0.7M302.4,244.8h0.7M304.4,248.6h0.7M309.1,247.0h0.7M308.1,247.2h0.7M307.4,245.9h0.7M306.2,249.9h0.7M306.5,246.9h0.7M309.3,249.4h0.7M306.3,247.6h0.7M305.1,247.3h0.7M307.6,247.0h0.7M307.3,247.9h0.7M302.2,245.0h0.7M307.2,245.8h0.7M305.2,246.4h0.7M310.1,246.4h0.7M305.8,245.8h0.7M304.7,248.2h0.7M305.1,249.2h0.7M308.8,248.4h0.7M309.0,246.8h0.7M303.7,246.8h0.7M308.2,243.2h0.7M304.7,249.7h0.7M307.9,250.3h0.7M308.3,247.2h0.7M307.8,249.1h0.7M307.0,246.5h0.7M307.6,246.2h0.7" stroke="#333" stroke-width="0.7" stroke-opacity="0.5"/>
<ellipse cx="300.5" cy="227.2" rx="9.5" ry="6.1" fill="none" stroke="#444" stroke-width="1.1"/>
<rect x="256.4" y="211.1" width="57.1" height="46.7" fill="none" stroke="#222" stroke-width="1.3"/>
<line x1="250" y1="257.5" x2="250" y2="213.8" stroke="#666" stroke-width="1.15"/>
<path d="M247.9,214.8 L250,210.8 L252.1,214.8 Z" fill="#111"/>
<line x1="256.4" y1="264.7" x2="308" y2="264.7" stroke="#666" stroke-width="1.15"/>
<path d="M307,262.6 L311,264.7 L307,266.8 Z" fill="#111"/>
<rect x="251.4" y="211.4" width="2.6" height="1.2" fill="#aaa"/>
<rect x="251.4" y="218.4" width="2.6" height="1.2" fill="#aaa"/>
<rect x="251.4" y="225.4" width="2.6" height="1.2" fill="#aaa"/>
<rect x="251.4" y="234.4" width="2.6" height="1.2" fill="#aaa"/>
<rect x="251.4" y="248.4" width="2.6" height="1.2" fill="#aaa"/>
<rect x="251.4" y="252.4" width="2.6" height="1.2" fill="#aaa"/>
<rect x="251.4" y="256.4" width="2.6" height="1.2" fill="#aaa"/>
<rect x="258.7" y="260.8" width="2.6" height="1.2" fill="#aaa"/>
<rect x="262.7" y="260.8" width="2.6" height="1.2" fill="#aaa"/>
<rect x="267.7" y="260.8" width="2.6" height="1.2" fill="#aaa"/>
<rect x="288.7" y="260.8" width="2.6" height="1.2" fill="#aaa"/>
<rect x="300.7" y="260.8" width="2.6" height="1.2" fill="#aaa"/>
<rect x="310.7" y="260.8" width="2.6" height="1.2" fill="#aaa"/>
<text x="248.4" y="256.6" font-size="6.6" fill="#333" stroke="#333" stroke-width="0.35" textLength="19.9" lengthAdjust="spacingAndGlyphs" transform="rotate(-90 248.4 256.6)">FcεRI</text>
<text x="254.7" y="276.5" font-size="6.8" fill="#2a2a2a" stroke="#2a2a2a" stroke-width="0.3" textLength="52.8" lengthAdjust="spacingAndGlyphs">CD172a (SIRP-α)</text>
<clipPath id="cp176211"><rect x="176" y="211.6" width="52.7" height="42.4"/></clipPath>
<rect x="176" y="211.6" width="52.7" height="42.4" fill="#f7f2f7"/>
<g clip-path="url(#cp176211)"><g filter="url(#b5)">
<circle cx="180.7" cy="213.5" r="3.2" fill="url(#cell)"/>
<ellipse cx="181" cy="213.3" rx="1.8" ry="1.3" fill="none" stroke="#c4cbf4" stroke-width="0.7" stroke-opacity="0.8" transform="rotate(30 180.7 213.5)"/>
<path d="M179.7,214.1 q1,-1.6 1.9,-0.3" fill="none" stroke="#d4d9f8" stroke-width="0.6" stroke-opacity="0.8"/>
<circle cx="186.8" cy="217.9" r="4.5" fill="url(#cell)"/>
<ellipse cx="187.2" cy="217.7" rx="2.5" ry="1.8" fill="none" stroke="#c4cbf4" stroke-width="0.7" stroke-opacity="0.8" transform="rotate(30 186.8 217.9)"/>
<path d="M185.5,218.8 q1.3,-2.2 2.7,-0.5" fill="none" stroke="#d4d9f8" stroke-width="0.6" stroke-opacity="0.8"/>
<circle cx="192.4" cy="219.6" r="4.0" fill="url(#cell)"/>
<ellipse cx="192.8" cy="219.4" rx="2.2" ry="1.6" fill="none" stroke="#c4cbf4" stroke-width="0.7" stroke-opacity="0.8" transform="rotate(30 192.4 219.6)"/>
<path d="M191.2,220.4 q1.2,-2 2.4,-0.4" fill="none" stroke="#d4d9f8" stroke-width="0.6" stroke-opacity="0.8"/>
<circle cx="201.9" cy="217.9" r="4.5" fill="url(#cell)"/>
<ellipse cx="202.3" cy="217.7" rx="2.5" ry="1.8" fill="none" stroke="#c4cbf4" stroke-width="0.7" stroke-opacity="0.8" transform="rotate(30 201.9 217.9)"/>
<path d="M200.6,218.8 q1.3,-2.2 2.7,-0.5" fill="none" stroke="#d4d9f8" stroke-width="0.6" stroke-opacity="0.8"/>
<circle cx="200.8" cy="226.8" r="4.0" fill="url(#cell)"/>
<ellipse cx="201.2" cy="226.6" rx="2.2" ry="1.6" fill="none" stroke="#c4cbf4" stroke-width="0.7" stroke-opacity="0.8" transform="rotate(30 200.8 226.8)"/>
<path d="M199.6,227.6 q1.2,-2 2.4,-0.4" fill="none" stroke="#d4d9f8" stroke-width="0.6" stroke-opacity="0.8"/>
<circle cx="212.5" cy="225.7" r="4.2" fill="url(#cell)"/>
<ellipse cx="212.9" cy="225.5" rx="2.3" ry="1.7" fill="none" stroke="#c4cbf4" stroke-width="0.7" stroke-opacity="0.8" transform="rotate(30 212.5 225.7)"/>
<path d="M211.2,226.5 q1.3,-2.1 2.5,-0.4" fill="none" stroke="#d4d9f8" stroke-width="0.6" stroke-opacity="0.8"/>
<circle cx="222" cy="225.2" r="4.7" fill="url(#cell)"/>
<ellipse cx="222.5" cy="225" rx="2.6" ry="1.9" fill="none" stroke="#c4cbf4" stroke-width="0.7" stroke-opacity="0.8" transform="rotate(30 222 225.2)"/>
<path d="M220.6,226.1 q1.4,-2.4 2.8,-0.5" fill="none" stroke="#d4d9f8" stroke-width="0.6" stroke-opacity="0.8"/>
<circle cx="177.3" cy="242.4" r="4.0" fill="url(#cell)"/>
<ellipse cx="177.7" cy="242.2" rx="2.2" ry="1.6" fill="none" stroke="#c4cbf4" stroke-width="0.7" stroke-opacity="0.8" transform="rotate(30 177.3 242.4)"/>
<path d="M176.1,243.2 q1.2,-2 2.4,-0.4" fill="none" stroke="#d4d9f8" stroke-width="0.6" stroke-opacity="0.8"/>
<circle cx="186.3" cy="248" r="4.5" fill="url(#cell)"/>
<ellipse cx="186.8" cy="247.8" rx="2.5" ry="1.8" fill="none" stroke="#c4cbf4" stroke-width="0.7" stroke-opacity="0.8" transform="rotate(30 186.3 248)"/>
<path d="M185,248.9 q1.3,-2.2 2.7,-0.5" fill="none" stroke="#d4d9f8" stroke-width="0.6" stroke-opacity="0.8"/>
<circle cx="194.6" cy="243" r="3.5" fill="url(#cellL)"/>
<circle cx="202.4" cy="238" r="3.0" fill="url(#cell)"/>
<ellipse cx="202.7" cy="237.8" rx="1.7" ry="1.2" fill="none" stroke="#c4cbf4" stroke-width="0.7" stroke-opacity="0.8" transform="rotate(30 202.4 238)"/>
<path d="M201.5,238.6 q0.9,-1.5 1.8,-0.3" fill="none" stroke="#d4d9f8" stroke-width="0.6" stroke-opacity="0.8"/>
<circle cx="205.8" cy="244.1" r="3.8" fill="url(#cell)"/>
<ellipse cx="206.2" cy="243.9" rx="2.1" ry="1.5" fill="none" stroke="#c4cbf4" stroke-width="0.7" stroke-opacity="0.8" transform="rotate(30 205.8 244.1)"/>
<path d="M204.7,244.9 q1.1,-1.9 2.3,-0.4" fill="none" stroke="#d4d9f8" stroke-width="0.6" stroke-opacity="0.8"/>
<circle cx="195.7" cy="250.2" r="3.5" fill="url(#cellL)"/>
<circle cx="225.3" cy="249.7" r="3.5" fill="url(#cell)"/>
<ellipse cx="225.7" cy="249.5" rx="1.9" ry="1.4" fill="none" stroke="#c4cbf4" stroke-width="0.7" stroke-opacity="0.8" transform="rotate(30 225.3 249.7)"/>
<path d="M224.2,250.4 q1.1,-1.8 2.1,-0.4" fill="none" stroke="#d4d9f8" stroke-width="0.6" stroke-opacity="0.8"/>
</g></g>
<clipPath id="cp171268"><rect x="171.7" y="268.7" width="57.2" height="43.1"/></clipPath>
<rect x="171.7" y="268.7" width="57.2" height="43.1" fill="#f4eff6"/>
<g clip-path="url(#cp171268)"><g filter="url(#b5)">
<circle cx="191.4" cy="275.5" r="4.7" fill="url(#cell)"/>
<ellipse cx="191.9" cy="275.3" rx="2.6" ry="1.9" fill="none" stroke="#c4cbf4" stroke-width="0.7" stroke-opacity="0.8" transform="rotate(30 191.4 275.5)"/>
<path d="M190,276.4 q1.4,-2.4 2.8,-0.5" fill="none" stroke="#d4d9f8" stroke-width="0.6" stroke-opacity="0.8"/>
<circle cx="199.4" cy="280.4" r="4.2" fill="url(#cell)"/>
<ellipse cx="199.8" cy="280.2" rx="2.3" ry="1.7" fill="none" stroke="#c4cbf4" stroke-width="0.7" stroke-opacity="0.8" transform="rotate(30 199.4 280.4)"/>
<path d="M198.1,281.2 q1.3,-2.1 2.5,-0.4" fill="none" stroke="#d4d9f8" stroke-width="0.6" stroke-opacity="0.8"/>
<circle cx="192" cy="284.7" r="4.2" fill="url(#cell)"/>
<ellipse cx="192.4" cy="284.5" rx="2.3" ry="1.7" fill="none" stroke="#c4cbf4" stroke-width="0.7" stroke-opacity="0.8" transform="rotate(30 192 284.7)"/>
<path d="M190.7,285.5 q1.3,-2.1 2.5,-0.4" fill="none" stroke="#d4d9f8" stroke-width="0.6" stroke-opacity="0.8"/>
<circle cx="185.8" cy="293.9" r="4.4" fill="url(#cell)"/>
<ellipse cx="186.2" cy="293.7" rx="2.4" ry="1.8" fill="none" stroke="#c4cbf4" stroke-width="0.7" stroke-opacity="0.8" transform="rotate(30 185.8 293.9)"/>
<path d="M184.5,294.8 q1.3,-2.2 2.6,-0.4" fill="none" stroke="#d4d9f8" stroke-width="0.6" stroke-opacity="0.8"/>
<circle cx="200.6" cy="292.1" r="3.9" fill="url(#cell)"/>
<ellipse cx="201" cy="291.9" rx="2.1" ry="1.6" fill="none" stroke="#c4cbf4" stroke-width="0.7" stroke-opacity="0.8" transform="rotate(30 200.6 292.1)"/>
<path d="M199.4,292.9 q1.2,-1.9 2.3,-0.4" fill="none" stroke="#d4d9f8" stroke-width="0.6" stroke-opacity="0.8"/>
<circle cx="215.4" cy="290.2" r="4.7" fill="url(#cell)"/>
<ellipse cx="215.9" cy="290" rx="2.6" ry="1.9" fill="none" stroke="#c4cbf4" stroke-width="0.7" stroke-opacity="0.8" transform="rotate(30 215.4 290.2)"/>
<path d="M214,291.1 q1.4,-2.4 2.8,-0.5" fill="none" stroke="#d4d9f8" stroke-width="0.6" stroke-opacity="0.8"/>
<circle cx="192" cy="302.5" r="4.4" fill="url(#cell)"/>
<ellipse cx="192.4" cy="302.3" rx="2.4" ry="1.8" fill="none" stroke="#c4cbf4" stroke-width="0.7" stroke-opacity="0.8" transform="rotate(30 192 302.5)"/>
<path d="M190.7,303.4 q1.3,-2.2 2.6,-0.4" fill="none" stroke="#d4d9f8" stroke-width="0.6" stroke-opacity="0.8"/>
<circle cx="180.3" cy="311.5" r="4.0" fill="url(#cell)"/>
<ellipse cx="180.7" cy="311.3" rx="2.2" ry="1.6" fill="none" stroke="#c4cbf4" stroke-width="0.7" stroke-opacity="0.8" transform="rotate(30 180.3 311.5)"/>
<path d="M179.1,312.3 q1.2,-2 2.4,-0.4" fill="none" stroke="#d4d9f8" stroke-width="0.6" stroke-opacity="0.8"/>
<circle cx="227.5" cy="274.2" r="3.0" fill="url(#cell)"/>
<ellipse cx="227.8" cy="274.1" rx="1.7" ry="1.2" fill="none" stroke="#c4cbf4" stroke-width="0.7" stroke-opacity="0.8" transform="rotate(30 227.5 274.2)"/>
<path d="M226.6,274.8 q0.9,-1.5 1.8,-0.3" fill="none" stroke="#d4d9f8" stroke-width="0.6" stroke-opacity="0.8"/>
</g></g>
<clipPath id="cp256286"><rect x="256.3" y="286.9" width="56" height="41.9"/></clipPath>
<rect x="256.3" y="286.9" width="56" height="41.9" fill="#f1edf5"/>
<g clip-path="url(#cp256286)"><g filter="url(#b5)">
<circle cx="269.2" cy="289.5" r="4.5" fill="url(#cellD)"/>
<ellipse cx="269.6" cy="289.3" rx="2.5" ry="1.8" fill="none" stroke="#c4cbf4" stroke-width="0.7" stroke-opacity="0.8" transform="rotate(30 269.2 289.5)"/>
<path d="M267.8,290.4 q1.3,-2.2 2.7,-0.5" fill="none" stroke="#d4d9f8" stroke-width="0.6" stroke-opacity="0.8"/>
<circle cx="265.5" cy="300.5" r="5" fill="url(#cellD)"/>
<ellipse cx="266" cy="300.2" rx="2.8" ry="2" fill="none" stroke="#c4cbf4" stroke-width="0.7" stroke-opacity="0.8" transform="rotate(30 265.5 300.5)"/>
<path d="M264,301.5 q1.5,-2.5 3,-0.5" fill="none" stroke="#d4d9f8" stroke-width="0.6" stroke-opacity="0.8"/>
<circle cx="274.8" cy="302.3" r="4.5" fill="url(#cellD)"/>
<ellipse cx="275.2" cy="302.1" rx="2.5" ry="1.8" fill="none" stroke="#c4cbf4" stroke-width="0.7" stroke-opacity="0.8" transform="rotate(30 274.8 302.3)"/>
<path d="M273.4,303.2 q1.3,-2.2 2.7,-0.5" fill="none" stroke="#d4d9f8" stroke-width="0.6" stroke-opacity="0.8"/>
<circle cx="283.4" cy="302.9" r="5" fill="url(#cellD)"/>
<ellipse cx="283.9" cy="302.6" rx="2.8" ry="2" fill="none" stroke="#c4cbf4" stroke-width="0.7" stroke-opacity="0.8" transform="rotate(30 283.4 302.9)"/>
<path d="M281.9,303.9 q1.5,-2.5 3,-0.5" fill="none" stroke="#d4d9f8" stroke-width="0.6" stroke-opacity="0.8"/>
<circle cx="261.2" cy="311.5" r="5" fill="url(#cellD)"/>
<ellipse cx="261.7" cy="311.2" rx="2.8" ry="2" fill="none" stroke="#c4cbf4" stroke-width="0.7" stroke-opacity="0.8" transform="rotate(30 261.2 311.5)"/>
<path d="M259.7,312.5 q1.5,-2.5 3,-0.5" fill="none" stroke="#d4d9f8" stroke-width="0.6" stroke-opacity="0.8"/>
<circle cx="281.5" cy="311.5" r="4.5" fill="url(#cellL)"/>
<circle cx="291.4" cy="310.9" r="5" fill="url(#cellD)"/>
<ellipse cx="291.9" cy="310.6" rx="2.8" ry="2" fill="none" stroke="#c4cbf4" stroke-width="0.7" stroke-opacity="0.8" transform="rotate(30 291.4 310.9)"/>
<path d="M289.9,311.9 q1.5,-2.5 3,-0.5" fill="none" stroke="#d4d9f8" stroke-width="0.6" stroke-opacity="0.8"/>
</g></g>
<text x="186.3" y="262.7" font-size="6.8" fill="#c0506a" stroke="#c0506a" stroke-width="0.3" textLength="29.4" lengthAdjust="spacingAndGlyphs">Basophils</text>
<text x="190.1" y="324" font-size="6.8" fill="#333" stroke="#333" stroke-width="0.3" textLength="16.1" lengthAdjust="spacingAndGlyphs">pDCs</text>
<text x="267.7" y="341" font-size="6.8" fill="#333" stroke="#333" stroke-width="0.3" textLength="33.7" lengthAdjust="spacingAndGlyphs">CD1c<tspan font-size="4.5" dy="-2.6">+</tspan><tspan dy="2.6">DCs</tspan></text>
<path d="M137,218.4 C139,213 145,210.9 152.3,210.9 C162,210.9 170,213 175.5,218" fill="none" stroke="#c02828" stroke-width="1.2" stroke-dasharray="1.7 1.3"/>
<path d="M177.8,220.5 L172.4,218.8 L176.1,215.1 Z" fill="#c02828"/>
<path d="M152.3,241 L152.5,262 C153,272 160,280 176.5,285.3" fill="none" stroke="#333" stroke-width="1.2" stroke-dasharray="1.7 1.3"/>
<path d="M179.6,286.2 L174.1,287.4 L175.4,282.4 Z" fill="#333"/>
<path d="M314.4,226.3 C328,232 330,275 310,299" fill="none" stroke="#333" stroke-width="1.2" stroke-dasharray="1.7 1.3"/>
<path d="M307.5,302.0 L308.7,296.5 L312.7,299.8 Z" fill="#333"/>
<line x1="385.3" y1="216.8" x2="385.3" y2="313.2" stroke="#222" stroke-width="1.2"/>
<line x1="384.7" y1="312.7" x2="449.2" y2="312.7" stroke="#222" stroke-width="1.2"/>
<line x1="382.2" y1="217.2" x2="385.3" y2="217.2" stroke="#222" stroke-width="1.1"/>
<text x="380.6" y="219.7" font-size="7.2" fill="#3a3a3a" stroke="#3a3a3a" stroke-width="0.12" text-anchor="end" textLength="11.9" lengthAdjust="spacingAndGlyphs">100</text>
<line x1="382.2" y1="236.3" x2="385.3" y2="236.3" stroke="#222" stroke-width="1.1"/>
<text x="379.2" y="238.8" font-size="7.2" fill="#3a3a3a" stroke="#3a3a3a" stroke-width="0.12" text-anchor="end" textLength="6.8" lengthAdjust="spacingAndGlyphs">80</text>
<line x1="382.2" y1="255.6" x2="385.3" y2="255.6" stroke="#222" stroke-width="1.1"/>
<text x="379.2" y="258.1" font-size="7.2" fill="#3a3a3a" stroke="#3a3a3a" stroke-width="0.12" text-anchor="end" textLength="6.8" lengthAdjust="spacingAndGlyphs">60</text>
<line x1="382.2" y1="274.6" x2="385.3" y2="274.6" stroke="#222" stroke-width="1.1"/>
<text x="379.2" y="277.1" font-size="7.2" fill="#3a3a3a" stroke="#3a3a3a" stroke-width="0.12" text-anchor="end" textLength="6.8" lengthAdjust="spacingAndGlyphs">40</text>
<line x1="382.2" y1="293.7" x2="385.3" y2="293.7" stroke="#222" stroke-width="1.1"/>
<text x="379.2" y="296.2" font-size="7.2" fill="#3a3a3a" stroke="#3a3a3a" stroke-width="0.12" text-anchor="end" textLength="6.8" lengthAdjust="spacingAndGlyphs">20</text>
<line x1="382.2" y1="312.7" x2="385.3" y2="312.7" stroke="#222" stroke-width="1.1"/>
<text x="379.2" y="315.2" font-size="7.2" fill="#3a3a3a" stroke="#3a3a3a" stroke-width="0.12" text-anchor="end">0</text>
<line x1="391.2" y1="312.7" x2="391.2" y2="315.4" stroke="#222" stroke-width="1"/>
<line x1="404.2" y1="312.7" x2="404.2" y2="315.4" stroke="#222" stroke-width="1"/>
<line x1="416.7" y1="312.7" x2="416.7" y2="315.4" stroke="#222" stroke-width="1"/>
<line x1="429.3" y1="312.7" x2="429.3" y2="315.4" stroke="#222" stroke-width="1"/>
<line x1="442" y1="312.7" x2="442" y2="315.4" stroke="#222" stroke-width="1"/>
<rect x="412" y="273.3" width="9.5" height="39.4" fill="#000"/>
<line x1="416.8" y1="273.3" x2="416.8" y2="261.1" stroke="#000" stroke-width="1.5"/>
<line x1="414.1" y1="261.1" x2="419.4" y2="261.1" stroke="#000" stroke-width="1.5"/>
<rect x="424.6" y="257.2" width="9.6" height="55.5" fill="#000"/>
<line x1="429.4" y1="257.2" x2="429.4" y2="246.8" stroke="#000" stroke-width="1.5"/>
<line x1="426.8" y1="246.8" x2="432" y2="246.8" stroke="#000" stroke-width="1.5"/>
<rect x="437.4" y="244.2" width="9.6" height="68.5" fill="#000"/>
<line x1="442.2" y1="244.2" x2="442.2" y2="234.3" stroke="#000" stroke-width="1.5"/>
<line x1="439.6" y1="234.3" x2="444.8" y2="234.3" stroke="#000" stroke-width="1.5"/>
<text x="365.4" y="294.6" font-size="6.4" fill="#333" stroke="#333" stroke-width="0.12" textLength="45.6" lengthAdjust="spacingAndGlyphs" transform="rotate(-90 365.4 294.6)">Histamine (nM)</text>
<text x="386.8" y="307.5" font-size="5" fill="#555" stroke="#555" stroke-width="0.05" textLength="23" lengthAdjust="spacingAndGlyphs">N.D. N.D.</text>
<line x1="386.8" y1="322.6" x2="409.3" y2="322.6" stroke="#999" stroke-width="1.4"/>
<line x1="412.8" y1="322.6" x2="445.6" y2="322.6" stroke="#999" stroke-width="1.4"/>
<text x="391.5" y="332.9" font-size="6.4" fill="#444" stroke="#444" stroke-width="0.08" textLength="13.9" lengthAdjust="spacingAndGlyphs">DCs</text>
<text x="413.7" y="332.9" font-size="6.4" fill="#444" stroke="#444" stroke-width="0.08" textLength="29.8" lengthAdjust="spacingAndGlyphs">Basophils</text>
<text x="367.5" y="342.9" font-size="6.4" fill="#444" stroke="#444" stroke-width="0.08" textLength="12.5" lengthAdjust="spacingAndGlyphs">IL-3</text>
<text x="365" y="351.9" font-size="6.4" fill="#444" stroke="#444" stroke-width="0.08" textLength="15.4" lengthAdjust="spacingAndGlyphs">IL-33</text>
<text x="392" y="342.4" font-size="6" fill="#444" stroke="#444" stroke-width="0.08" text-anchor="middle">-</text>
<text x="392" y="351.6" font-size="6" fill="#444" stroke="#444" stroke-width="0.08" text-anchor="middle">-</text>
<text x="404.1" y="342.4" font-size="6" fill="#444" stroke="#444" stroke-width="0.08" text-anchor="middle">+</text>
<text x="404.1" y="351.6" font-size="6" fill="#444" stroke="#444" stroke-width="0.08" text-anchor="middle">-</text>
<text x="417.1" y="342.4" font-size="6" fill="#444" stroke="#444" stroke-width="0.08" text-anchor="middle">-</text>
<text x="417.1" y="351.6" font-size="6" fill="#444" stroke="#444" stroke-width="0.08" text-anchor="middle">-</text>
<text x="429.2" y="342.4" font-size="6" fill="#444" stroke="#444" stroke-width="0.08" text-anchor="middle">+</text>
<text x="429.2" y="351.6" font-size="6" fill="#444" stroke="#444" stroke-width="0.08" text-anchor="middle">-</text>
<text x="442.2" y="342.4" font-size="6" fill="#444" stroke="#444" stroke-width="0.08" text-anchor="middle">+</text>
<text x="442.2" y="351.6" font-size="6" fill="#444" stroke="#444" stroke-width="0.08" text-anchor="middle">+</text>
<text x="9.5" y="434.2" font-size="7.8" fill="#333" stroke="#333" stroke-width="0.3" textLength="34.6" lengthAdjust="spacingAndGlyphs">Lung (CF)</text>
<text x="11.8" y="503.7" font-size="7.8" fill="#333" stroke="#333" stroke-width="0.3" textLength="34.6" lengthAdjust="spacingAndGlyphs">Lung (BE)</text>
<text x="74" y="396.7" font-size="6.6" fill="#333" stroke="#333" stroke-width="0.15" textLength="16.6" lengthAdjust="spacingAndGlyphs">FcεRI</text>
<text x="91.2" y="394.6" font-size="6" fill="#333" stroke="#333" stroke-width="0.15" textLength="12.7" lengthAdjust="spacingAndGlyphs">high</text>
<text x="74" y="404.3" font-size="6.6" fill="#333" stroke="#333" stroke-width="0.15" textLength="16.1" lengthAdjust="spacingAndGlyphs">SIRP-α</text>
<text x="95.4" y="402" font-size="6" fill="#333" stroke="#333" stroke-width="0.15" textLength="11.1" lengthAdjust="spacingAndGlyphs">low</text>
<text x="107.6" y="404.9" font-size="6.6" fill="#333" stroke="#333" stroke-width="0.15" textLength="13.7" lengthAdjust="spacingAndGlyphs">cells</text>
<path d="M117.6,453.5h0.7M101.5,450.2h0.7M117.2,438.4h0.7M113.1,426.0h0.7M109.5,444.4h0.7M109.3,429.5h0.7M76.0,440.7h0.7M101.1,445.6h0.7M80.6,442.0h0.7M118.5,432.6h0.7M111.3,453.8h0.7M104.3,438.2h0.7M92.1,439.0h0.7M78.0,427.2h0.7M85.4,430.2h0.7M115.2,435.9h0.7M114.0,441.9h0.7M115.1,451.9h0.7M106.1,438.5h0.7M83.7,441.9h0.7M87.0,449.9h0.7M74.1,444.1h0.7M88.3,437.6h0.7M98.0,454.5h0.7M119.7,435.7h0.7M118.0,453.7h0.7M97.3,441.9h0.7M81.5,448.7h0.7M95.3,447.9h0.7M116.2,443.7h0.7M105.4,441.5h0.7M78.3,438.8h0.7M75.0,430.4h0.7M119.1,436.4h0.7M78.5,438.1h0.7M74.9,443.2h0.7M83.0,431.5h0.7M102.6,452.8h0.7M72.7,446.5h0.7M99.9,439.6h0.7M92.2,425.3h0.7M88.9,440.7h0.7M88.1,454.8h0.7M88.3,450.4h0.7M110.9,448.8h0.7M95.6,440.0h0.7M112.5,428.5h0.7M82.8,425.4h0.7M95.6,438.6h0.7M117.9,452.9h0.7M91.5,439.9h0.7M77.0,447.6h0.7M96.9,430.0h0.7M114.1,426.3h0.7M81.2,439.3h0.7M119.9,429.2h0.7M84.8,448.7h0.7M88.1,452.9h0.7M72.9,432.1h0.7M86.9,450.4h0.7M76.9,445.2h0.7M114.6,454.2h0.7M110.7,426.5h0.7M95.2,431.5h0.7M77.9,432.3h0.7M107.3,442.3h0.7M78.3,433.6h0.7M75.2,452.8h0.7M108.2,439.2h0.7M118.1,454.3h0.7" stroke="#8890d0" stroke-width="0.7" stroke-opacity="0.5"/>
<path d="M101.6,430.2h0.7M104.1,431.9h0.7M92.0,426.0h0.7M101.5,424.4h0.7M95.3,432.1h0.7M102.4,427.7h0.7M95.6,428.1h0.7M99.8,424.8h0.7M106.3,424.2h0.7M110.2,427.0h0.7M82.1,423.4h0.7M102.4,425.4h0.7M114.4,432.1h0.7M116.7,430.6h0.7M110.8,426.2h0.7M110.4,426.7h0.7M99.7,424.0h0.7M100.6,429.2h0.7M99.6,424.7h0.7M107.3,430.7h0.7M99.4,430.3h0.7M107.9,425.1h0.7M99.8,422.5h0.7M91.9,429.3h0.7M93.2,429.2h0.7M103.0,421.9h0.7M96.3,432.5h0.7M100.2,428.4h0.7M94.5,423.2h0.7M87.5,436.6h0.7M98.6,425.4h0.7M101.0,422.2h0.7M111.2,433.1h0.7M94.1,429.0h0.7M92.9,430.6h0.7M93.4,427.6h0.7M110.5,429.6h0.7M97.5,423.5h0.7M87.4,431.6h0.7M104.2,428.2h0.7M110.1,428.4h0.7M94.3,427.7h0.7M99.3,428.0h0.7M120.0,429.7h0.7M102.3,427.3h0.7M94.7,425.0h0.7M85.1,426.6h0.7M88.0,422.5h0.7M92.6,421.9h0.7M111.1,431.7h0.7M92.4,434.1h0.7M105.4,420.5h0.7M100.3,425.0h0.7M86.2,427.2h0.7M109.3,429.3h0.7M88.4,426.0h0.7M94.0,431.4h0.7M99.3,425.1h0.7M92.8,422.1h0.7M93.3,430.7h0.7" stroke="#7a80c0" stroke-width="0.7" stroke-opacity="0.5"/>
<path d="M71,448 C74,444 80,442 86,440.5 C91,439.5 95,437 98.3,433.5 C101,431.5 105,430.8 110,430.6 C113.5,430.5 116,432.5 116.5,436 C117,441 116,446 114.5,449 C110,451 100,451.5 90,451.5 C82,451.5 75,451.5 71.5,450.5 Z" fill="#b4bbef" fill-opacity="0.9" stroke="#3a48c0" stroke-width="0.9" filter="url(#b3)"/>
<path d="M73,449 C80,446 88,444.5 95,441 C99,436.5 104,434 110,433 C114,434 115.5,438 115,443 C114,447 111,449.5 106,450 C96,450.5 84,450.5 74,450.3" fill="none" stroke="#4050c0" stroke-width="0.6" stroke-opacity="0.7"/>
<path d="M86,447 C92,446 97,443.5 100,440 C103,437 108,436.5 111,438 C112.5,441 111.5,445 108,446.5 C100,447.5 92,448 86,447.5" fill="none" stroke="#4050c0" stroke-width="0.6" stroke-opacity="0.7"/>
<path d="M75,448 C80,445 88,444 94,442 C98,438 102,435 108,434 C112,434 114,437 114,441 C114,445 112,448 108,449 C100,449.5 88,449.5 78,449.5 Z" fill="none" stroke="#3a48c0" stroke-width="0.8" stroke-opacity="0.8"/>
<ellipse cx="82.7" cy="446.9" rx="4" ry="1.6" fill="#eef0ff" stroke="#4a58c8" stroke-width="0.6"/>
<ellipse cx="103.3" cy="441.9" rx="3.2" ry="2.6" fill="#f2f4ff" stroke="#4a58c8" stroke-width="0.6"/>
<path d="M111.5,432.4h0.7M99.7,438.0h0.7M114.9,433.7h0.7M82.6,445.0h0.7M73.6,449.4h0.7M80.8,447.3h0.7M111.8,431.9h0.7M104.6,435.3h0.7M96.1,439.1h0.7M102.5,434.7h0.7M99.6,437.2h0.7M112.0,430.8h0.7M105.6,435.9h0.7M95.3,439.1h0.7M114.6,429.3h0.7M111.3,427.8h0.7M84.8,447.7h0.7M104.9,435.8h0.7M100.5,437.1h0.7M73.6,449.5h0.7M108.6,434.1h0.7M87.7,445.0h0.7M79.1,446.6h0.7M109.8,433.1h0.7M110.2,433.8h0.7M77.7,447.6h0.7M85.7,445.7h0.7M74.3,447.3h0.7M92.5,448.5h0.7M75.6,447.0h0.7M102.9,437.3h0.7M102.6,436.9h0.7M82.7,446.5h0.7M105.3,434.1h0.7M107.4,434.1h0.7M108.9,431.8h0.7M89.5,445.2h0.7M81.8,446.9h0.7M106.1,432.6h0.7M90.8,443.9h0.7M107.5,435.0h0.7M102.0,436.5h0.7M74.6,450.0h0.7M73.2,445.7h0.7M71.2,446.4h0.7M114.2,429.8h0.7M113.0,430.3h0.7M108.6,432.5h0.7M112.9,428.2h0.7M111.9,432.8h0.7M106.1,432.0h0.7M74.3,446.3h0.7M82.0,447.0h0.7M111.2,431.5h0.7M101.4,436.8h0.7M97.9,439.5h0.7M75.6,446.1h0.7M85.1,447.3h0.7M88.0,444.5h0.7M110.8,431.3h0.7M114.4,429.3h0.7M111.7,428.2h0.7M91.8,445.0h0.7M102.4,437.7h0.7M107.2,432.5h0.7M82.8,446.3h0.7M72.1,447.4h0.7M105.8,434.1h0.7M110.7,429.8h0.7M106.3,433.6h0.7M104.5,436.2h0.7M77.6,447.5h0.7M102.6,436.3h0.7M108.7,432.8h0.7M100.0,439.0h0.7M110.8,430.3h0.7M72.1,446.1h0.7M100.6,438.9h0.7M102.7,434.4h0.7M106.7,434.2h0.7M107.5,435.5h0.7M77.7,446.3h0.7M113.2,432.7h0.7M108.5,433.7h0.7M108.9,432.9h0.7M88.7,445.8h0.7M85.6,445.7h0.7M95.0,440.3h0.7M82.5,447.2h0.7M91.4,444.8h0.7M78.5,445.9h0.7M87.9,446.5h0.7M113.9,429.9h0.7M76.9,448.1h0.7M101.6,436.7h0.7M88.4,446.1h0.7M82.7,444.7h0.7M77.3,446.3h0.7M110.8,430.8h0.7M116.8,430.3h0.7M103.2,435.5h0.7M104.3,436.1h0.7M108.4,433.2h0.7M94.5,439.3h0.7M82.8,444.9h0.7M83.4,444.7h0.7M96.9,437.1h0.7M95.5,439.2h0.7M106.2,434.9h0.7M99.0,438.3h0.7M94.8,438.3h0.7M115.0,431.2h0.7M95.2,438.2h0.7M113.3,430.1h0.7M108.6,431.7h0.7M98.0,438.0h0.7M80.3,446.6h0.7M96.9,438.5h0.7M81.5,446.0h0.7M79.6,447.2h0.7M113.0,429.7h0.7M83.5,445.4h0.7M78.9,447.2h0.7M83.2,445.4h0.7M75.9,446.7h0.7M73.9,448.5h0.7M90.5,445.3h0.7M84.5,444.2h0.7M79.8,448.3h0.7M107.1,434.3h0.7M88.4,443.0h0.7M101.7,436.4h0.7M73.3,446.4h0.7M106.3,434.7h0.7M89.9,442.9h0.7M112.2,430.9h0.7M101.0,434.1h0.7M82.5,448.3h0.7M116.3,430.1h0.7M86.5,444.5h0.7M111.4,432.8h0.7M85.7,446.2h0.7M75.6,448.8h0.7M89.6,446.0h0.7M96.5,437.8h0.7M82.8,445.2h0.7M85.4,446.8h0.7M98.6,436.5h0.7M102.9,438.0h0.7M76.9,449.3h0.7M110.8,433.2h0.7M103.6,436.0h0.7M106.4,433.8h0.7M110.9,431.8h0.7M108.1,432.7h0.7M82.0,446.8h0.7M82.3,447.3h0.7M98.0,439.4h0.7M112.6,432.8h0.7M105.8,434.3h0.7M74.8,447.5h0.7M74.3,445.7h0.7M86.6,443.7h0.7M84.6,445.3h0.7M81.9,448.4h0.7M80.0,449.1h0.7M98.6,438.4h0.7M112.9,431.1h0.7M110.4,429.8h0.7M95.0,438.5h0.7M75.9,447.3h0.7M111.3,433.7h0.7M105.1,435.2h0.7M109.1,431.8h0.7M110.4,432.0h0.7M79.1,445.7h0.7M84.4,444.8h0.7M111.7,430.8h0.7M98.8,437.4h0.7M109.8,432.0h0.7M105.5,434.8h0.7M79.9,447.9h0.7M86.8,444.8h0.7M103.9,434.7h0.7M83.7,447.4h0.7M95.5,441.6h0.7M107.4,433.0h0.7M111.1,432.5h0.7M98.4,437.4h0.7M76.2,446.3h0.7M112.8,432.3h0.7M111.7,430.3h0.7M114.5,430.7h0.7M108.0,432.7h0.7M103.6,436.7h0.7M103.0,434.7h0.7M97.5,436.5h0.7M74.0,446.4h0.7M115.8,432.4h0.7M75.8,445.8h0.7M98.7,438.3h0.7M102.8,437.2h0.7M105.1,435.0h0.7M103.7,434.8h0.7M112.3,430.6h0.7M87.2,446.6h0.7M72.7,448.9h0.7M82.3,445.5h0.7M83.7,445.3h0.7M109.1,431.1h0.7M110.3,431.5h0.7M89.9,442.1h0.7M97.9,437.8h0.7M99.8,435.5h0.7M83.5,446.1h0.7M105.9,435.6h0.7M99.4,436.8h0.7M92.1,446.1h0.7M88.9,445.3h0.7M73.5,448.5h0.7M112.3,431.8h0.7M78.2,447.0h0.7M88.9,444.6h0.7M81.8,445.5h0.7M115.6,428.9h0.7M92.1,442.1h0.7M106.8,435.1h0.7M104.1,438.0h0.7M81.8,445.5h0.7M104.7,431.9h0.7M109.2,432.7h0.7M82.0,446.2h0.7M102.8,438.6h0.7M109.9,434.6h0.7M95.5,439.7h0.7M78.3,448.4h0.7M97.5,438.1h0.7M98.3,438.2h0.7M91.6,445.8h0.7M98.1,437.6h0.7M92.8,445.1h0.7M77.5,448.3h0.7M75.1,448.0h0.7M90.6,446.3h0.7M83.9,443.4h0.7M93.6,440.9h0.7M103.4,435.0h0.7M80.4,445.7h0.7M104.2,435.7h0.7M98.6,438.1h0.7M103.1,433.8h0.7M110.7,431.4h0.7M103.5,435.6h0.7M114.4,431.4h0.7M107.4,430.9h0.7M108.5,432.0h0.7M91.7,446.6h0.7M111.8,431.3h0.7M98.2,439.2h0.7M103.6,435.0h0.7M71.5,449.5h0.7M113.3,432.8h0.7M90.2,446.8h0.7M106.9,431.7h0.7M111.8,433.6h0.7M82.3,446.6h0.7M97.1,439.0h0.7M114.9,429.9h0.7M81.3,445.4h0.7M98.6,437.9h0.7M108.6,432.6h0.7M112.9,431.8h0.7M97.5,437.8h0.7M107.9,432.9h0.7M86.2,445.1h0.7M108.5,432.1h0.7M74.5,447.2h0.7M108.1,433.7h0.7M110.3,433.2h0.7M104.1,434.2h0.7M90.6,445.3h0.7M105.3,434.5h0.7M106.2,435.3h0.7M97.7,437.6h0.7M87.8,447.3h0.7M74.9,449.3h0.7M102.0,437.0h0.7M85.6,444.3h0.7M106.9,434.2h0.7M108.4,431.9h0.7M104.4,437.2h0.7M103.9,434.2h0.7M87.6,445.8h0.7M97.5,438.7h0.7M99.0,435.4h0.7M109.6,433.0h0.7M111.7,430.8h0.7M110.3,434.7h0.7M70.0,448.3h0.7M113.4,431.7h0.7" stroke="#3040b0" stroke-width="0.7" stroke-opacity="0.5"/>
<ellipse cx="104.5" cy="422.1" rx="5.6" ry="4.6" fill="none" stroke="#444" stroke-width="0.9"/>
<rect x="69.6" y="407.7" width="51.5" height="48.4" fill="none" stroke="#222" stroke-width="1.3"/>
<line x1="59.7" y1="459.6" x2="59.7" y2="411.5" stroke="#666" stroke-width="1.15"/>
<path d="M57.6,412.5 L59.7,408.5 L61.8,412.5 Z" fill="#111"/>
<line x1="70" y1="466.2" x2="117.3" y2="466.2" stroke="#666" stroke-width="1.15"/>
<path d="M116.3,464.1 L120.3,466.2 L116.3,468.3 Z" fill="#111"/>
<rect x="64.6" y="408.4" width="2.6" height="1.2" fill="#aaa"/>
<rect x="64.6" y="414.4" width="2.6" height="1.2" fill="#aaa"/>
<rect x="64.6" y="423.4" width="2.6" height="1.2" fill="#aaa"/>
<rect x="64.6" y="444.4" width="2.6" height="1.2" fill="#aaa"/>
<rect x="64.6" y="448.4" width="2.6" height="1.2" fill="#aaa"/>
<rect x="64.6" y="452.4" width="2.6" height="1.2" fill="#aaa"/>
<rect x="71.7" y="459.5" width="2.6" height="1.2" fill="#aaa"/>
<rect x="75.7" y="459.5" width="2.6" height="1.2" fill="#aaa"/>
<rect x="79.7" y="459.5" width="2.6" height="1.2" fill="#aaa"/>
<rect x="99.7" y="459.5" width="2.6" height="1.2" fill="#aaa"/>
<rect x="109.7" y="459.5" width="2.6" height="1.2" fill="#aaa"/>
<rect x="117.7" y="459.5" width="2.6" height="1.2" fill="#aaa"/>
<text x="55.7" y="456.1" font-size="6.8" fill="#2a2a2a" stroke="#2a2a2a" stroke-width="0.3" textLength="17.3" lengthAdjust="spacingAndGlyphs" transform="rotate(-90 55.7 456.1)">FcεRI</text>
<text x="67.5" y="476.6" font-size="6.8" fill="#2a2a2a" stroke="#2a2a2a" stroke-width="0.3" textLength="52.8" lengthAdjust="spacingAndGlyphs">CD172a (SIRP-α)</text>
<path d="M108.8,418.8 C109,413 112,409.6 115.8,409.6 C119,409.6 121,410.5 123,412 L137.5,422.6" fill="none" stroke="#222" stroke-width="1.15" stroke-dasharray="1.7 1.3"/>
<path d="M140.4,425.0 L134.9,424.0 L138.1,419.9 Z" fill="#222"/>
<path d="M98.9,500.4h0.7M102.4,516.3h0.7M118.3,495.6h0.7M85.9,495.9h0.7M85.6,500.1h0.7M73.4,522.7h0.7M84.9,520.3h0.7M110.2,522.3h0.7M73.2,514.3h0.7M112.0,516.0h0.7M100.4,508.2h0.7M110.7,512.3h0.7M88.5,510.8h0.7M94.2,499.1h0.7M103.6,523.7h0.7M102.7,492.4h0.7M91.0,521.1h0.7M78.2,511.2h0.7M104.1,512.3h0.7M87.5,492.6h0.7M105.1,498.3h0.7M100.3,511.9h0.7M106.0,496.3h0.7M117.8,520.4h0.7M113.0,499.0h0.7M105.9,506.4h0.7M104.9,518.5h0.7M91.2,528.0h0.7M92.6,509.7h0.7M105.6,497.8h0.7M114.1,504.6h0.7M113.7,497.5h0.7M77.8,514.4h0.7M83.3,508.7h0.7M81.4,519.5h0.7M106.7,518.1h0.7M78.3,493.8h0.7M99.4,495.1h0.7M105.7,512.8h0.7M115.8,523.1h0.7M102.8,523.4h0.7M95.9,503.0h0.7M74.9,518.7h0.7M103.3,516.0h0.7M96.1,509.3h0.7M115.2,506.3h0.7M78.6,528.1h0.7M107.8,526.1h0.7M118.3,508.6h0.7M79.3,510.7h0.7M95.0,506.7h0.7M109.0,501.5h0.7M117.6,500.1h0.7M85.3,523.5h0.7M83.0,519.5h0.7M84.9,507.5h0.7M94.1,501.4h0.7M110.7,527.8h0.7M115.5,498.0h0.7M73.2,508.7h0.7" stroke="#8890d0" stroke-width="0.7" stroke-opacity="0.5"/>
<path d="M99.6,496.2h0.7M114.4,499.9h0.7M98.4,500.0h0.7M98.5,506.5h0.7M93.4,512.2h0.7M98.7,509.1h0.7M89.7,501.4h0.7M98.5,502.3h0.7M96.7,507.1h0.7M102.0,498.3h0.7M90.4,510.0h0.7M98.4,512.3h0.7M104.2,504.3h0.7M93.0,502.5h0.7M96.4,513.5h0.7M91.7,511.3h0.7M92.5,501.1h0.7M93.1,500.2h0.7M97.8,507.5h0.7M97.1,509.7h0.7M108.5,506.1h0.7M94.3,503.8h0.7M99.5,502.5h0.7M105.6,512.9h0.7M109.8,508.6h0.7M87.0,504.1h0.7M103.2,499.5h0.7M97.0,511.2h0.7M100.7,497.3h0.7M97.1,483.8h0.7M100.0,496.6h0.7M99.7,496.8h0.7M95.4,501.4h0.7M113.6,496.8h0.7M94.2,501.3h0.7M105.1,510.5h0.7M103.4,502.8h0.7M100.6,499.7h0.7M99.1,499.4h0.7M92.9,498.2h0.7M109.4,507.7h0.7M96.3,504.2h0.7M97.8,513.3h0.7M99.8,500.6h0.7M103.3,507.2h0.7M96.6,499.7h0.7M100.7,493.8h0.7M95.5,511.9h0.7M104.2,512.6h0.7M97.8,500.9h0.7M98.6,501.7h0.7M106.2,503.4h0.7M106.6,500.1h0.7M101.8,516.1h0.7M96.3,500.5h0.7M97.0,493.9h0.7M98.5,500.6h0.7M110.7,501.7h0.7M89.5,511.4h0.7M104.6,504.7h0.7M101.4,509.9h0.7M97.2,505.3h0.7M100.6,516.3h0.7M106.8,506.1h0.7M93.4,511.0h0.7M99.7,513.0h0.7M100.2,506.2h0.7M103.1,500.0h0.7M96.7,520.7h0.7M95.7,511.4h0.7M103.3,510.6h0.7M106.6,495.8h0.7M104.6,490.9h0.7M100.2,507.3h0.7M105.0,512.4h0.7M95.4,503.1h0.7M99.2,500.2h0.7M96.0,500.4h0.7M105.5,514.3h0.7M103.6,516.5h0.7M100.4,497.5h0.7M96.8,506.4h0.7M104.9,513.3h0.7M95.6,511.5h0.7M97.3,509.1h0.7M104.4,515.1h0.7M97.4,506.6h0.7M102.0,502.1h0.7M100.4,509.1h0.7M91.9,500.6h0.7M111.2,508.1h0.7M97.2,492.4h0.7M95.3,508.5h0.7M103.2,508.0h0.7M102.8,500.8h0.7M107.7,497.3h0.7M102.4,503.2h0.7M91.6,511.2h0.7M98.6,509.9h0.7M106.1,506.1h0.7M96.7,503.5h0.7M99.6,514.9h0.7M104.1,515.9h0.7M103.6,499.7h0.7M104.4,511.6h0.7M99.3,508.2h0.7M98.4,496.3h0.7M99.5,510.2h0.7M98.2,489.6h0.7M96.0,512.5h0.7M101.0,512.7h0.7M96.3,502.1h0.7M95.1,499.6h0.7M102.4,505.9h0.7M97.6,507.0h0.7M93.6,502.3h0.7M92.6,494.7h0.7M93.3,497.4h0.7M107.6,514.4h0.7M106.0,501.0h0.7M103.0,497.2h0.7M97.3,506.7h0.7M92.2,506.3h0.7M102.9,490.7h0.7M88.0,503.1h0.7M99.3,506.0h0.7M94.4,508.9h0.7M100.5,499.9h0.7M107.9,506.8h0.7M103.5,517.8h0.7M97.5,503.5h0.7M91.5,503.4h0.7M102.1,522.2h0.7M102.7,506.4h0.7M93.8,499.1h0.7M90.9,495.5h0.7M100.5,507.0h0.7M95.5,503.5h0.7M96.0,509.3h0.7M103.0,501.1h0.7M97.7,496.5h0.7M97.6,520.1h0.7M99.9,510.9h0.7M102.7,515.2h0.7M98.3,498.7h0.7M105.0,511.3h0.7M96.7,512.6h0.7M99.9,504.7h0.7M108.9,508.7h0.7M101.4,502.8h0.7" stroke="#8a90c8" stroke-width="0.7" stroke-opacity="0.4"/>
<path d="M79.5,523 C82,520.5 90,520 97,519 C101,517 104,512 106,506 C107.5,500 109,496 111.2,494.5 C113,496 114,502 114,510 C114,518 113.5,523 112,526.8 C108,524 104,523.5 100,524.5 C95,526 88,526.5 82,526 C80,525.5 79,524.5 79.5,523 Z" fill="#7c88dc" fill-opacity="0.85" stroke="#3a48b8" stroke-width="0.7" filter="url(#b5)"/>
<path d="M84,518 C90,515 98,508 104,500 C106,497 108,495 110,494.5 L106,515 C100,518 92,519 84,519 Z" fill="#c0c6f0" fill-opacity="0.6" filter="url(#b10)"/>
<ellipse cx="106" cy="517" rx="4" ry="3" fill="#b8c2f4" fill-opacity="0.8" filter="url(#b10)"/>
<path d="M104.9,508.4h0.7M87.9,525.8h0.7M92.1,522.9h0.7M111.5,514.4h0.7M112.0,505.6h0.7M94.7,525.0h0.7M106.5,510.5h0.7M113.1,502.4h0.7M111.9,518.1h0.7M109.8,503.5h0.7M89.1,522.6h0.7M79.4,522.6h0.7M115.0,516.2h0.7M107.9,499.8h0.7M111.6,506.1h0.7M111.7,498.0h0.7M104.3,516.5h0.7M111.7,511.8h0.7M109.9,506.4h0.7M84.5,524.1h0.7M101.8,514.5h0.7M112.5,522.2h0.7M102.1,516.4h0.7M111.0,521.1h0.7M112.0,511.5h0.7M104.7,511.9h0.7M104.5,514.1h0.7M83.1,522.6h0.7M93.1,522.2h0.7M108.6,503.7h0.7M100.5,522.7h0.7M112.3,502.0h0.7M111.2,504.4h0.7M113.1,509.5h0.7M112.1,507.5h0.7M86.5,523.9h0.7M113.2,498.0h0.7M110.5,522.8h0.7M113.4,511.1h0.7M113.5,505.0h0.7M97.8,523.5h0.7M85.5,522.9h0.7M95.1,524.4h0.7M110.3,497.7h0.7M112.1,495.6h0.7M109.6,504.3h0.7M104.6,510.7h0.7M112.7,517.6h0.7M113.2,509.4h0.7M111.2,516.7h0.7M108.6,505.6h0.7M91.2,524.1h0.7M108.9,501.7h0.7M101.8,519.6h0.7M111.6,512.3h0.7M87.6,520.8h0.7M88.6,521.5h0.7M80.9,523.3h0.7M111.8,501.2h0.7M112.1,515.5h0.7M105.5,505.3h0.7M88.5,522.1h0.7M114.3,521.0h0.7M108.0,507.0h0.7M110.7,521.2h0.7M105.4,507.9h0.7M100.5,514.4h0.7M101.4,517.0h0.7M111.5,520.8h0.7M103.4,513.8h0.7M99.8,518.1h0.7M112.5,512.1h0.7M87.4,524.7h0.7M111.6,503.7h0.7M108.0,504.6h0.7M111.5,510.9h0.7M105.3,507.4h0.7M112.1,511.9h0.7M102.4,517.9h0.7M107.2,508.7h0.7M112.9,509.3h0.7M87.3,522.3h0.7M109.1,504.2h0.7M88.4,523.8h0.7M111.2,512.2h0.7M102.2,517.7h0.7M111.8,499.2h0.7M99.6,523.0h0.7M96.1,522.6h0.7M112.4,525.1h0.7M115.8,514.3h0.7M110.6,521.9h0.7M112.7,515.7h0.7M107.8,499.6h0.7M102.0,519.8h0.7M91.1,524.6h0.7M110.0,500.0h0.7M110.6,516.0h0.7M112.1,507.1h0.7M112.7,504.3h0.7M101.2,521.4h0.7M91.9,522.1h0.7M103.9,516.5h0.7M95.3,522.2h0.7M111.7,518.5h0.7M106.2,506.8h0.7M111.9,517.8h0.7M112.1,504.3h0.7M112.2,511.7h0.7M97.9,521.4h0.7M106.7,508.1h0.7M113.4,516.4h0.7M94.6,521.0h0.7M111.4,503.0h0.7M109.3,500.4h0.7M111.4,506.9h0.7M103.2,514.0h0.7M95.2,521.3h0.7M111.5,516.7h0.7M111.9,501.3h0.7M93.8,522.6h0.7M110.3,525.2h0.7M108.3,507.5h0.7M110.3,507.1h0.7M110.9,502.5h0.7M84.2,522.5h0.7M82.7,525.0h0.7M111.3,507.5h0.7M110.4,521.1h0.7M91.1,524.5h0.7M101.8,524.4h0.7M109.5,515.4h0.7M113.4,518.6h0.7M111.0,512.3h0.7M110.8,508.3h0.7M110.2,498.8h0.7M92.6,521.9h0.7M109.4,504.5h0.7M111.3,509.9h0.7M110.8,503.3h0.7M105.2,508.2h0.7M105.4,509.0h0.7M113.2,521.0h0.7M111.0,525.5h0.7M111.2,512.5h0.7M112.4,518.6h0.7M97.0,522.3h0.7M111.0,517.1h0.7M110.5,499.4h0.7M110.7,519.1h0.7M113.0,517.9h0.7M110.8,498.4h0.7M110.4,523.2h0.7M105.5,512.5h0.7M111.1,509.0h0.7M107.7,507.9h0.7M85.7,524.5h0.7M113.5,518.1h0.7M113.2,499.6h0.7M108.2,504.3h0.7M93.4,524.2h0.7M101.4,517.2h0.7M114.1,525.3h0.7M101.5,512.8h0.7M106.2,509.9h0.7M91.0,523.2h0.7M105.6,509.0h0.7M103.1,515.1h0.7M86.7,521.3h0.7M102.4,518.6h0.7M110.9,518.0h0.7M85.7,523.1h0.7M96.2,522.2h0.7M89.7,520.1h0.7M111.2,504.4h0.7M100.2,523.7h0.7M110.1,512.9h0.7M112.2,515.2h0.7M104.8,504.4h0.7M113.0,511.1h0.7M110.6,501.8h0.7M110.7,518.2h0.7M82.7,521.0h0.7M112.2,513.3h0.7M102.6,516.1h0.7M108.5,506.3h0.7M108.9,501.4h0.7M111.2,502.4h0.7M96.2,521.3h0.7M103.9,512.4h0.7M114.7,516.1h0.7M106.8,505.9h0.7M94.5,523.4h0.7M109.5,503.8h0.7M112.4,511.9h0.7M111.3,510.5h0.7M108.7,502.9h0.7M112.5,497.9h0.7M93.8,523.5h0.7M112.4,509.8h0.7M103.4,513.6h0.7M111.6,513.7h0.7M113.0,523.9h0.7M97.4,523.8h0.7M86.5,523.2h0.7M92.9,523.7h0.7M94.6,521.7h0.7M110.3,500.7h0.7M113.0,508.7h0.7M111.3,508.5h0.7M110.2,503.5h0.7M112.0,513.6h0.7M99.2,523.2h0.7M108.4,504.2h0.7M98.2,522.8h0.7M100.1,520.5h0.7M111.8,498.3h0.7M107.6,507.6h0.7M112.1,514.3h0.7M107.8,506.5h0.7M111.4,507.7h0.7M107.2,508.7h0.7M112.8,522.8h0.7M82.3,523.2h0.7M103.2,511.0h0.7M103.9,515.2h0.7M90.5,522.9h0.7M99.6,522.7h0.7M102.4,516.8h0.7M109.5,521.4h0.7M98.4,524.3h0.7M95.3,524.1h0.7M108.9,503.3h0.7M106.8,507.0h0.7M110.8,513.1h0.7M107.3,511.1h0.7M113.8,514.6h0.7M100.7,518.1h0.7M82.7,523.0h0.7M112.5,506.8h0.7M114.2,522.0h0.7M110.6,515.4h0.7M100.8,518.9h0.7M93.2,524.4h0.7M106.4,511.3h0.7M111.5,507.7h0.7M112.6,523.3h0.7M81.6,524.2h0.7M111.9,505.6h0.7M104.5,515.6h0.7M112.0,517.4h0.7M94.8,521.3h0.7M91.5,523.9h0.7M111.1,522.8h0.7M112.4,501.2h0.7M108.4,500.5h0.7M98.1,520.8h0.7M94.8,520.8h0.7M99.6,524.7h0.7M113.3,522.4h0.7M112.0,502.0h0.7M93.6,522.6h0.7M112.4,507.7h0.7M96.7,522.7h0.7M83.3,520.5h0.7M85.0,521.3h0.7M86.4,522.7h0.7M115.0,509.8h0.7M107.5,506.5h0.7M98.5,523.9h0.7M112.0,515.1h0.7M95.3,523.4h0.7M110.9,513.5h0.7M82.4,522.8h0.7M112.8,517.2h0.7M107.9,502.2h0.7M107.0,507.9h0.7M79.4,521.1h0.7M102.7,514.6h0.7M112.7,517.9h0.7M110.8,522.0h0.7M108.2,506.8h0.7M98.5,524.7h0.7M113.4,499.8h0.7M103.5,513.1h0.7M109.1,503.3h0.7M113.6,498.1h0.7M101.6,515.6h0.7M112.1,501.9h0.7M110.1,502.3h0.7M106.0,507.4h0.7M110.0,501.3h0.7M108.6,506.4h0.7M86.7,522.9h0.7M106.6,513.5h0.7M80.7,523.4h0.7M112.8,513.3h0.7M87.6,522.9h0.7M109.9,503.0h0.7M112.6,503.1h0.7M111.5,522.6h0.7M102.8,516.3h0.7M85.6,523.9h0.7M84.7,521.1h0.7M111.9,503.3h0.7M112.7,508.1h0.7M104.1,511.8h0.7M87.8,523.9h0.7M101.1,518.4h0.7M86.8,523.1h0.7M112.8,523.1h0.7M90.6,524.7h0.7M115.4,518.3h0.7M101.4,520.1h0.7M98.6,525.5h0.7M112.0,502.2h0.7M82.8,522.0h0.7M111.6,513.7h0.7M97.3,520.5h0.7M92.1,524.4h0.7M80.8,521.5h0.7M108.3,502.4h0.7M110.3,516.6h0.7M104.6,508.3h0.7M87.1,522.4h0.7M96.8,521.4h0.7M88.9,521.2h0.7M100.3,520.5h0.7M93.6,522.4h0.7M112.4,514.2h0.7M110.6,502.5h0.7M103.1,513.2h0.7M103.8,510.7h0.7M113.6,503.2h0.7M90.3,523.1h0.7M103.8,512.6h0.7M104.1,510.4h0.7M98.7,526.3h0.7M107.9,505.6h0.7M105.0,508.7h0.7M85.6,523.1h0.7M107.8,501.9h0.7M103.0,514.8h0.7M112.9,504.3h0.7M113.0,524.0h0.7M110.5,520.9h0.7M110.9,499.0h0.7M106.7,508.7h0.7M94.4,524.0h0.7M92.6,521.9h0.7M112.2,496.1h0.7M102.6,519.1h0.7M111.3,512.9h0.7M82.7,523.1h0.7M112.4,513.1h0.7M87.7,523.9h0.7M112.3,505.9h0.7M97.6,524.4h0.7M91.5,521.4h0.7M102.2,516.8h0.7M112.3,500.4h0.7M100.9,518.0h0.7M82.9,523.7h0.7M110.1,502.5h0.7M108.6,503.7h0.7M111.7,511.5h0.7M97.6,523.0h0.7M111.3,500.7h0.7M104.4,510.9h0.7M111.0,500.8h0.7M108.6,502.6h0.7M98.1,525.4h0.7M114.2,515.8h0.7M96.3,522.9h0.7M94.9,525.5h0.7M111.3,518.3h0.7M111.9,511.0h0.7M80.9,523.9h0.7M113.8,497.8h0.7M110.0,510.3h0.7M101.7,523.0h0.7M111.8,509.4h0.7M91.3,520.1h0.7M84.4,523.8h0.7M113.3,498.8h0.7M112.0,517.0h0.7M104.6,513.7h0.7M107.8,505.8h0.7M113.1,506.3h0.7M111.7,503.5h0.7M109.4,516.3h0.7M111.8,521.0h0.7M87.5,522.0h0.7M111.7,503.3h0.7M107.6,504.7h0.7M99.3,518.2h0.7M87.9,523.2h0.7M112.7,510.6h0.7M109.0,502.4h0.7M112.6,520.3h0.7" stroke="#3040b0" stroke-width="0.7" stroke-opacity="0.5"/>
<ellipse cx="103.9" cy="493.7" rx="5" ry="2.6" fill="none" stroke="#444" stroke-width="0.9"/>
<rect x="69.2" y="482.7" width="51.1" height="50.2" fill="none" stroke="#222" stroke-width="1.3"/>
<line x1="58.5" y1="535" x2="58.5" y2="486.5" stroke="#666" stroke-width="1.15"/>
<path d="M56.4,487.5 L58.5,483.5 L60.6,487.5 Z" fill="#111"/>
<line x1="70" y1="541.5" x2="117.3" y2="541.5" stroke="#666" stroke-width="1.15"/>
<path d="M116.3,539.4 L120.3,541.5 L116.3,543.6 Z" fill="#111"/>
<rect x="64.2" y="483.4" width="2.6" height="1.2" fill="#aaa"/>
<rect x="64.2" y="489.4" width="2.6" height="1.2" fill="#aaa"/>
<rect x="64.2" y="496.4" width="2.6" height="1.2" fill="#aaa"/>
<rect x="64.2" y="504.4" width="2.6" height="1.2" fill="#aaa"/>
<rect x="64.2" y="521.4" width="2.6" height="1.2" fill="#aaa"/>
<rect x="64.2" y="525.4" width="2.6" height="1.2" fill="#aaa"/>
<rect x="64.2" y="529.4" width="2.6" height="1.2" fill="#aaa"/>
<rect x="71.7" y="535.5" width="2.6" height="1.2" fill="#aaa"/>
<rect x="75.7" y="535.5" width="2.6" height="1.2" fill="#aaa"/>
<rect x="79.7" y="535.5" width="2.6" height="1.2" fill="#aaa"/>
<rect x="99.7" y="535.5" width="2.6" height="1.2" fill="#aaa"/>
<rect x="109.7" y="535.5" width="2.6" height="1.2" fill="#aaa"/>
<rect x="117.7" y="535.5" width="2.6" height="1.2" fill="#aaa"/>
<text x="56.2" y="533.7" font-size="6.8" fill="#2a2a2a" stroke="#2a2a2a" stroke-width="0.3" textLength="17.3" lengthAdjust="spacingAndGlyphs" transform="rotate(-90 56.2 533.7)">FcεRI</text>
<text x="68.3" y="551.3" font-size="6.8" fill="#2a2a2a" stroke="#2a2a2a" stroke-width="0.3" textLength="52.8" lengthAdjust="spacingAndGlyphs">CD172a (SIRP-α)</text>
<path d="M104.2,490.4 C104,485 107,480.1 111.2,480.1 C118,480.1 130,485 140,492.5" fill="none" stroke="#222" stroke-width="1.15" stroke-dasharray="1.7 1.3"/>
<path d="M142.7,495.0 L137.2,493.8 L140.5,489.8 Z" fill="#222"/>
<path d="M188.9,435.6h0.7M167.7,449.7h0.7M203.2,452.5h0.7M211.0,424.1h0.7M195.0,410.3h0.7M179.7,441.1h0.7M201.9,414.5h0.7M206.8,433.9h0.7M201.9,418.6h0.7M182.3,426.0h0.7M201.2,420.7h0.7M206.5,419.0h0.7M210.2,441.5h0.7M189.0,455.9h0.7M209.9,434.6h0.7M194.1,420.3h0.7M207.2,410.7h0.7M184.6,416.3h0.7M186.5,429.2h0.7M173.7,425.4h0.7M178.8,431.3h0.7M173.4,421.1h0.7M178.1,418.4h0.7M200.1,443.8h0.7M202.1,434.5h0.7M192.0,433.6h0.7M180.0,417.5h0.7M188.6,428.4h0.7M182.1,455.7h0.7M171.1,413.3h0.7M186.6,444.4h0.7M196.2,436.5h0.7M176.3,424.1h0.7M176.2,416.5h0.7M180.7,442.4h0.7M175.7,418.3h0.7M192.3,420.8h0.7M174.4,411.0h0.7M184.6,417.3h0.7M171.4,446.0h0.7M164.7,446.4h0.7M208.7,421.8h0.7M167.4,428.7h0.7M208.6,439.8h0.7M176.7,441.4h0.7M181.9,418.7h0.7M189.3,437.8h0.7M169.8,446.4h0.7M196.0,428.1h0.7M202.0,437.1h0.7M175.0,443.9h0.7M210.4,447.9h0.7M184.6,417.7h0.7M186.7,434.6h0.7M200.0,444.0h0.7M189.7,417.3h0.7M185.5,443.4h0.7M198.6,419.3h0.7M174.0,425.8h0.7M181.3,423.2h0.7M198.2,426.9h0.7M186.9,432.7h0.7M193.5,442.3h0.7M181.5,420.8h0.7M197.7,447.7h0.7M207.3,441.5h0.7M182.0,426.7h0.7M173.0,421.9h0.7M189.6,421.2h0.7M200.7,447.5h0.7M175.7,451.9h0.7M173.7,426.8h0.7M182.8,412.4h0.7M184.8,450.8h0.7M177.8,443.3h0.7M196.3,427.8h0.7M190.4,453.1h0.7M177.5,455.5h0.7M163.4,430.3h0.7M190.6,444.6h0.7M177.3,415.8h0.7M163.7,453.6h0.7M208.6,432.0h0.7M190.9,455.7h0.7M204.2,453.1h0.7M164.8,446.0h0.7M211.4,440.4h0.7M196.0,448.7h0.7M212.0,426.8h0.7M209.3,413.8h0.7M179.4,421.1h0.7M177.4,450.2h0.7M173.9,442.0h0.7M198.9,410.1h0.7M208.8,436.8h0.7M202.0,422.1h0.7M207.0,427.9h0.7M195.8,444.0h0.7M190.7,434.4h0.7M189.1,444.5h0.7M171.6,438.4h0.7M202.5,420.4h0.7M168.8,454.0h0.7M189.6,419.1h0.7M178.0,410.1h0.7M199.4,417.4h0.7M167.9,437.6h0.7M172.7,452.3h0.7M188.6,423.3h0.7M200.4,424.9h0.7M209.1,452.0h0.7M206.9,436.4h0.7M192.1,416.8h0.7M177.0,413.2h0.7M164.5,449.9h0.7M192.5,435.1h0.7M208.7,418.2h0.7M209.6,417.2h0.7M202.9,453.0h0.7M190.2,420.7h0.7M189.9,448.9h0.7M177.8,454.9h0.7M172.9,418.3h0.7M204.5,415.9h0.7M186.4,434.9h0.7M192.6,431.4h0.7M197.8,433.2h0.7M179.5,416.8h0.7M181.7,422.9h0.7M191.5,423.0h0.7M205.9,430.6h0.7M169.5,441.1h0.7M185.0,452.9h0.7M204.5,445.9h0.7M190.2,444.8h0.7M179.2,455.6h0.7M199.1,413.6h0.7M197.6,410.7h0.7M180.2,436.9h0.7M188.6,414.1h0.7M204.3,424.0h0.7M163.7,439.3h0.7M191.3,418.5h0.7M178.2,413.7h0.7M203.1,453.4h0.7M179.7,418.3h0.7M205.9,455.1h0.7M207.4,418.0h0.7M187.5,449.3h0.7M198.8,448.6h0.7M187.8,413.7h0.7M202.6,414.2h0.7M174.8,424.0h0.7M186.4,418.1h0.7M202.5,415.8h0.7M175.4,449.3h0.7M202.8,420.6h0.7M182.0,443.7h0.7M177.2,441.3h0.7M167.1,409.1h0.7" stroke="#999" stroke-width="0.7" stroke-opacity="0.5"/>
<path d="M168.8,419.4h0.7M165.1,421.6h0.7M168.0,421.1h0.7M169.7,425.7h0.7M169.4,422.9h0.7M163.4,419.7h0.7M165.7,426.0h0.7M167.0,425.7h0.7M171.0,422.0h0.7M166.6,422.1h0.7M166.3,419.7h0.7M169.2,424.7h0.7M169.0,419.7h0.7M172.5,424.5h0.7M172.3,426.1h0.7M169.6,424.2h0.7M169.4,425.2h0.7M172.1,425.5h0.7M166.1,427.2h0.7M165.9,426.0h0.7M169.3,429.5h0.7M167.3,421.4h0.7M168.8,427.9h0.7M170.2,419.1h0.7M169.6,427.0h0.7M170.6,420.9h0.7M169.4,422.8h0.7M168.3,422.5h0.7M167.0,421.9h0.7M165.5,420.2h0.7M171.6,420.4h0.7M168.4,426.2h0.7M171.6,426.7h0.7M168.4,420.9h0.7M170.7,420.3h0.7M165.6,422.9h0.7M167.8,422.2h0.7M168.3,423.5h0.7M170.7,423.2h0.7M165.8,421.0h0.7M169.0,425.7h0.7M166.9,421.8h0.7M171.6,420.4h0.7M167.3,424.5h0.7M165.4,423.6h0.7M166.0,418.5h0.7M170.9,415.6h0.7M166.2,423.1h0.7M169.0,429.2h0.7M168.6,420.9h0.7M168.6,423.7h0.7M170.1,421.1h0.7M171.7,426.9h0.7M169.1,421.4h0.7M168.8,423.4h0.7M166.9,423.3h0.7M168.5,424.3h0.7M169.4,427.1h0.7M170.6,422.8h0.7M172.8,425.9h0.7" stroke="#3a48a8" stroke-width="0.7" stroke-opacity="0.7"/>
<ellipse cx="168.9" cy="423.3" rx="3" ry="3.5" fill="#8090d8" fill-opacity="0.7" filter="url(#b10)"/>
<path d="M201.5,429.4h0.7M204.3,444.4h0.7M198.3,456.7h0.7M201.3,443.0h0.7M209.3,436.0h0.7M203.6,445.6h0.7M204.5,433.0h0.7M205.7,426.6h0.7M209.0,440.8h0.7M201.0,435.8h0.7M205.3,430.6h0.7M204.8,443.2h0.7M207.2,432.5h0.7M205.8,434.2h0.7M197.4,435.2h0.7M204.9,429.7h0.7M204.8,434.4h0.7M204.7,438.6h0.7M206.4,437.7h0.7M205.6,436.1h0.7M200.8,438.5h0.7M203.8,449.1h0.7M205.2,440.9h0.7M203.8,431.1h0.7M206.1,439.2h0.7M205.7,436.6h0.7M204.1,435.0h0.7M206.0,446.2h0.7M203.8,436.2h0.7M205.2,454.5h0.7M208.9,437.8h0.7M199.3,432.9h0.7M199.9,428.5h0.7M201.4,440.8h0.7M200.5,442.2h0.7M206.8,446.6h0.7M201.5,442.6h0.7M200.3,438.0h0.7M204.1,452.6h0.7M209.2,442.2h0.7M205.6,446.6h0.7M204.2,446.3h0.7M205.4,440.5h0.7M201.1,440.9h0.7M202.7,437.0h0.7M202.2,443.7h0.7M207.4,443.9h0.7M201.5,450.4h0.7M203.3,439.9h0.7M207.0,437.0h0.7M203.9,439.5h0.7M202.5,440.1h0.7M205.5,448.8h0.7M201.2,432.4h0.7M206.8,437.5h0.7M200.3,429.3h0.7M203.1,420.5h0.7M200.5,442.4h0.7M206.2,433.3h0.7M207.2,437.6h0.7M202.8,433.9h0.7M203.1,446.8h0.7M205.5,438.4h0.7M207.8,443.5h0.7M206.4,442.6h0.7M209.5,447.5h0.7M211.2,444.5h0.7M204.2,434.4h0.7M208.4,436.2h0.7M208.3,440.7h0.7M206.4,442.0h0.7M207.7,433.2h0.7M204.8,445.3h0.7M200.9,444.8h0.7M195.9,438.3h0.7M205.2,433.4h0.7M203.9,432.4h0.7M201.5,435.3h0.7M207.0,438.4h0.7M202.4,440.2h0.7M204.8,433.8h0.7M209.3,440.1h0.7M203.0,439.0h0.7M206.2,439.6h0.7M212.0,438.9h0.7M206.5,450.4h0.7M199.7,449.5h0.7M203.9,438.0h0.7M207.9,439.5h0.7" stroke="#5058a8" stroke-width="0.7" stroke-opacity="0.6"/>
<ellipse cx="169.8" cy="424.1" rx="6.9" ry="7.8" fill="none" stroke="#c03a4a" stroke-width="1.0"/>
<ellipse cx="204.4" cy="439.3" rx="7.8" ry="11.7" fill="none" stroke="#2a3a7a" stroke-width="1.0"/>
<rect x="162" y="407.7" width="51" height="49.3" fill="none" stroke="#222" stroke-width="1.3"/>
<line x1="151.6" y1="457" x2="151.6" y2="412.4" stroke="#666" stroke-width="1.15"/>
<path d="M149.5,413.4 L151.6,409.4 L153.7,413.4 Z" fill="#111"/>
<line x1="163.7" y1="466.7" x2="210" y2="466.7" stroke="#666" stroke-width="1.15"/>
<path d="M209,464.6 L213,466.7 L209,468.8 Z" fill="#111"/>
<rect x="157" y="408.4" width="2.6" height="1.2" fill="#aaa"/>
<rect x="157" y="421.4" width="2.6" height="1.2" fill="#aaa"/>
<rect x="157" y="438.4" width="2.6" height="1.2" fill="#aaa"/>
<rect x="157" y="444.4" width="2.6" height="1.2" fill="#aaa"/>
<rect x="157" y="449.4" width="2.6" height="1.2" fill="#aaa"/>
<rect x="163.7" y="460" width="2.6" height="1.2" fill="#aaa"/>
<rect x="166.7" y="460" width="2.6" height="1.2" fill="#aaa"/>
<rect x="169.7" y="460" width="2.6" height="1.2" fill="#aaa"/>
<rect x="188.7" y="460" width="2.6" height="1.2" fill="#aaa"/>
<rect x="199.7" y="460" width="2.6" height="1.2" fill="#aaa"/>
<rect x="209.7" y="460" width="2.6" height="1.2" fill="#aaa"/>
<text x="165.5" y="414.6" font-size="6.8" fill="#c24a5a" stroke="#c24a5a" stroke-width="0.15" textLength="28.5" lengthAdjust="spacingAndGlyphs">Basophils</text>
<text x="165.5" y="456.1" font-size="6.8" fill="#3a3a8a" stroke="#3a3a8a" stroke-width="0.15" textLength="30.2" lengthAdjust="spacingAndGlyphs">Mast cells</text>
<text x="148.2" y="461.3" font-size="6.8" fill="#2a2a2a" stroke="#2a2a2a" stroke-width="0.3" textLength="47.6" lengthAdjust="spacingAndGlyphs" transform="rotate(-90 148.2 461.3)">CD294 (CRTH2)</text>
<text x="163.7" y="476.6" font-size="6.8" fill="#2a2a2a" stroke="#2a2a2a" stroke-width="0.3" textLength="39.8" lengthAdjust="spacingAndGlyphs">CD117 (c-kit)</text>
<path d="M194.0,530.1h0.7M186.1,505.7h0.7M163.4,492.5h0.7M197.0,523.1h0.7M188.4,487.0h0.7M203.1,521.9h0.7M194.5,530.5h0.7M183.5,497.7h0.7M199.5,495.5h0.7M202.1,513.7h0.7M199.7,514.3h0.7M197.3,497.3h0.7M188.8,517.9h0.7M163.8,524.3h0.7M166.6,490.1h0.7M188.1,491.4h0.7M197.9,510.8h0.7M189.4,520.1h0.7M207.7,530.7h0.7M188.7,485.6h0.7M200.4,529.9h0.7M183.5,512.5h0.7M167.5,521.6h0.7M207.5,504.5h0.7M189.9,520.5h0.7M163.9,525.8h0.7M201.4,493.9h0.7M175.0,511.9h0.7M195.3,497.7h0.7M177.6,512.5h0.7M175.3,508.1h0.7M173.9,525.8h0.7M199.2,500.2h0.7M200.1,492.1h0.7M208.1,498.3h0.7M203.9,504.6h0.7M203.6,505.7h0.7M202.7,504.5h0.7M166.8,524.5h0.7M183.6,521.0h0.7M168.9,517.0h0.7M171.8,519.6h0.7M197.6,527.8h0.7M209.9,525.3h0.7M169.4,487.4h0.7M192.1,526.7h0.7M176.7,529.0h0.7M173.7,525.7h0.7M169.0,501.9h0.7M181.3,517.7h0.7M188.4,516.3h0.7M195.4,513.9h0.7M168.5,494.2h0.7M211.0,495.1h0.7M202.7,486.6h0.7M188.4,508.1h0.7M175.6,485.4h0.7M187.2,496.9h0.7M187.9,526.8h0.7M199.9,504.0h0.7M179.6,495.7h0.7M207.0,507.4h0.7M170.6,507.5h0.7M204.4,501.9h0.7M199.2,505.0h0.7M171.3,520.1h0.7M172.6,508.5h0.7M163.6,498.1h0.7M181.0,517.9h0.7M172.0,497.3h0.7M199.8,506.3h0.7M201.1,518.6h0.7M189.6,524.6h0.7M174.7,530.4h0.7M169.5,513.1h0.7M199.2,517.4h0.7M170.6,499.7h0.7M195.7,516.4h0.7M164.2,487.1h0.7M203.7,517.8h0.7M174.7,520.9h0.7M202.1,500.0h0.7M195.6,507.0h0.7M165.8,522.2h0.7M172.8,514.1h0.7M171.0,528.3h0.7M190.6,517.7h0.7M189.8,531.0h0.7M197.5,509.3h0.7M168.8,506.6h0.7M168.7,518.6h0.7M185.5,508.6h0.7M205.8,505.6h0.7M194.0,507.3h0.7M183.7,514.0h0.7M191.9,499.3h0.7M205.4,516.1h0.7M163.7,494.2h0.7M176.1,489.5h0.7M210.8,511.9h0.7M208.9,515.9h0.7M210.5,499.7h0.7M171.9,492.3h0.7M185.3,487.4h0.7M211.5,491.6h0.7M195.4,496.1h0.7M196.2,522.5h0.7M195.9,500.1h0.7M202.5,530.0h0.7M190.2,500.0h0.7M209.5,489.2h0.7M193.9,495.7h0.7M208.0,492.1h0.7M180.7,529.5h0.7M179.5,509.7h0.7M206.5,509.6h0.7M166.6,528.5h0.7M210.2,496.7h0.7M202.3,518.9h0.7M207.3,526.7h0.7M183.4,501.9h0.7M200.6,513.9h0.7M167.3,510.7h0.7M201.6,502.4h0.7M188.0,507.8h0.7M168.7,520.4h0.7M183.9,524.0h0.7M190.5,520.6h0.7M193.5,499.6h0.7M178.3,509.3h0.7M208.9,486.5h0.7M165.4,523.9h0.7M211.8,519.6h0.7M173.5,519.3h0.7M198.6,522.9h0.7M163.1,492.0h0.7M173.9,516.7h0.7M178.6,486.7h0.7M170.9,530.7h0.7M165.9,527.7h0.7" stroke="#999" stroke-width="0.7" stroke-opacity="0.5"/>
<path d="M184.8,508.5h0.7M175.4,498.2h0.7M180.8,503.8h0.7M175.6,518.4h0.7M199.1,513.8h0.7M174.8,505.1h0.7M191.7,507.3h0.7M183.4,516.3h0.7M190.7,515.2h0.7M173.4,509.0h0.7M173.3,510.1h0.7M173.2,524.2h0.7M185.0,511.7h0.7M186.6,495.2h0.7M172.0,499.0h0.7M185.1,525.4h0.7M176.0,516.9h0.7M167.9,518.6h0.7M169.1,516.4h0.7M183.2,505.1h0.7M181.5,510.1h0.7M187.6,509.4h0.7M181.0,513.8h0.7M183.7,513.8h0.7M170.0,516.7h0.7M173.5,502.0h0.7M175.7,510.8h0.7M175.8,512.5h0.7M181.3,504.8h0.7M178.7,512.3h0.7M172.3,512.2h0.7M185.8,500.3h0.7M178.9,498.0h0.7M165.3,512.2h0.7M179.0,519.7h0.7M187.6,514.4h0.7M178.3,501.0h0.7M174.9,518.8h0.7M176.4,517.2h0.7M181.8,515.1h0.7M182.7,509.8h0.7M184.1,526.6h0.7M176.7,511.2h0.7M175.4,517.0h0.7M178.3,505.6h0.7M175.7,515.7h0.7M187.9,507.8h0.7M186.1,522.9h0.7M176.5,509.5h0.7M169.9,511.3h0.7M178.3,505.6h0.7M167.4,518.6h0.7M189.9,527.4h0.7M172.5,524.4h0.7M190.8,503.1h0.7M185.5,506.9h0.7M189.4,510.4h0.7M192.7,513.1h0.7M176.8,514.9h0.7M165.1,512.8h0.7M181.1,515.8h0.7M174.6,516.8h0.7M184.5,508.4h0.7M176.8,520.2h0.7M176.2,512.8h0.7M189.9,510.1h0.7M171.4,509.7h0.7M184.4,504.9h0.7M179.0,519.0h0.7M185.5,510.5h0.7M171.5,511.8h0.7M195.1,513.6h0.7M183.5,510.7h0.7M177.1,516.1h0.7M167.1,508.2h0.7M168.0,498.3h0.7M178.7,507.8h0.7M184.1,516.9h0.7M172.7,513.3h0.7M179.7,514.8h0.7M170.0,507.0h0.7M180.0,514.2h0.7M183.0,508.3h0.7M179.5,523.1h0.7M179.3,516.6h0.7M171.2,517.5h0.7M174.6,509.2h0.7M174.6,518.6h0.7M190.3,513.9h0.7M170.8,504.4h0.7M186.7,513.3h0.7M179.9,513.5h0.7M175.5,507.5h0.7M183.9,510.9h0.7M168.2,500.3h0.7M173.5,513.7h0.7M172.3,513.2h0.7M189.8,508.2h0.7M174.7,510.6h0.7M168.4,513.0h0.7M183.4,513.5h0.7M176.4,513.1h0.7M193.9,511.1h0.7M170.4,516.0h0.7M193.0,514.6h0.7M185.1,514.4h0.7M169.9,504.3h0.7M174.4,517.8h0.7M176.9,507.5h0.7M173.5,506.2h0.7M191.2,517.6h0.7M181.6,503.6h0.7M185.6,502.1h0.7M180.6,505.9h0.7M178.9,514.2h0.7M181.7,526.1h0.7M166.8,508.4h0.7M169.3,519.0h0.7M174.6,518.8h0.7M171.3,520.4h0.7M193.1,514.4h0.7M182.4,522.7h0.7M186.4,526.4h0.7M180.5,525.9h0.7M189.2,514.8h0.7M170.1,493.6h0.7M179.5,508.7h0.7M173.1,504.2h0.7M171.3,506.7h0.7M179.7,511.6h0.7M176.8,512.0h0.7M181.2,510.0h0.7M184.7,510.8h0.7M178.2,510.7h0.7M171.8,520.4h0.7M192.7,516.1h0.7M177.8,503.5h0.7M184.4,511.9h0.7M193.5,513.5h0.7M174.5,500.8h0.7M179.5,504.6h0.7M188.0,510.9h0.7M185.5,508.6h0.7M184.2,506.9h0.7M178.9,501.1h0.7M190.5,513.2h0.7" stroke="#888" stroke-width="0.7" stroke-opacity="0.45"/>
<ellipse cx="172" cy="497" rx="6" ry="3" fill="#4a4a9a" fill-opacity="0.8" filter="url(#b10)"/>
<path d="M169.9,497.0h0.7M170.8,495.1h0.7M162.1,497.8h0.7M170.6,494.4h0.7M174.0,497.4h0.7M174.6,497.6h0.7M175.2,494.6h0.7M173.0,497.4h0.7M172.5,494.9h0.7M173.6,499.0h0.7M173.5,499.2h0.7M178.7,495.0h0.7M172.3,499.4h0.7M170.5,497.4h0.7M166.5,498.9h0.7M180.0,496.0h0.7M172.6,496.7h0.7M169.9,493.5h0.7M168.3,496.0h0.7M167.5,499.4h0.7M173.7,501.0h0.7M173.2,499.0h0.7M169.5,495.5h0.7M174.0,496.5h0.7M165.7,494.1h0.7M176.9,496.6h0.7M171.3,497.8h0.7M169.7,497.2h0.7M175.1,494.3h0.7M177.0,497.7h0.7M168.9,496.1h0.7M170.2,495.8h0.7M173.0,499.4h0.7M170.9,495.5h0.7M173.0,496.6h0.7M175.0,499.5h0.7M170.3,498.5h0.7M168.4,497.8h0.7M174.0,496.1h0.7M166.5,497.4h0.7M171.8,498.1h0.7M172.8,496.0h0.7M170.8,493.4h0.7M175.7,495.9h0.7M169.3,498.0h0.7M172.3,496.1h0.7M172.4,499.0h0.7M174.2,495.4h0.7M171.7,499.7h0.7M174.1,496.4h0.7M178.0,498.4h0.7M168.7,496.1h0.7M171.2,497.4h0.7M178.7,497.5h0.7M164.6,498.8h0.7M175.8,497.6h0.7M171.5,499.2h0.7M163.7,494.0h0.7M168.3,496.8h0.7M172.6,495.7h0.7" stroke="#3a3a8a" stroke-width="0.7" stroke-opacity="0.6"/>
<ellipse cx="202" cy="508" rx="2.8" ry="9" fill="#2a3aa0" fill-opacity="0.9" filter="url(#b10)"/>
<path d="M200.7,505.2h0.7M197.0,511.2h0.7M199.7,511.3h0.7M200.9,514.8h0.7M203.1,513.4h0.7M197.8,510.8h0.7M199.9,526.8h0.7M202.6,515.7h0.7M199.5,524.4h0.7M202.1,509.6h0.7M196.4,500.3h0.7M203.0,507.3h0.7M200.7,499.4h0.7M204.0,504.0h0.7M196.0,508.8h0.7M201.5,508.9h0.7M201.3,520.1h0.7M204.8,494.8h0.7M203.8,510.7h0.7M203.2,523.0h0.7M202.2,517.7h0.7M202.2,507.0h0.7M203.7,515.2h0.7M202.9,517.6h0.7M205.0,522.9h0.7M197.2,504.0h0.7M200.4,508.3h0.7M200.8,511.3h0.7M202.9,510.4h0.7M202.4,530.8h0.7M199.8,510.1h0.7M201.6,507.3h0.7M201.1,511.9h0.7M202.9,506.1h0.7M206.3,509.3h0.7M202.7,507.7h0.7M198.5,519.8h0.7M200.6,504.8h0.7M200.0,513.3h0.7M200.8,505.3h0.7M200.3,495.9h0.7M204.9,516.3h0.7M198.8,496.9h0.7M197.9,515.6h0.7M200.8,501.7h0.7M201.2,514.2h0.7M204.8,509.1h0.7M205.5,507.4h0.7M205.6,512.3h0.7M201.5,497.9h0.7M199.6,504.0h0.7M196.5,521.2h0.7M202.0,508.9h0.7M201.7,509.7h0.7M202.9,512.0h0.7M199.5,508.5h0.7M198.9,517.5h0.7M199.6,505.2h0.7M203.5,504.0h0.7M202.9,522.0h0.7M195.9,516.3h0.7M200.0,508.5h0.7M203.9,512.9h0.7M197.4,529.7h0.7M198.4,514.9h0.7M203.4,505.4h0.7M196.2,511.9h0.7M196.5,507.4h0.7M198.2,512.6h0.7M202.2,521.3h0.7M204.8,504.7h0.7M200.7,512.5h0.7M201.7,501.6h0.7M203.0,508.2h0.7M202.0,506.5h0.7M204.5,504.6h0.7M203.0,502.5h0.7M201.7,517.3h0.7M202.0,529.7h0.7M197.8,518.4h0.7M200.4,515.9h0.7M204.0,503.2h0.7M196.5,496.5h0.7M203.7,505.6h0.7M200.3,513.6h0.7M194.9,519.7h0.7M205.4,516.3h0.7M203.7,507.5h0.7M202.2,509.6h0.7M199.9,511.6h0.7M205.3,505.6h0.7M203.7,508.0h0.7M201.1,509.4h0.7M199.6,502.5h0.7M200.8,503.9h0.7M200.0,510.7h0.7M202.6,513.4h0.7M199.7,504.1h0.7M202.9,506.3h0.7M198.6,527.6h0.7" stroke="#2a3aa0" stroke-width="0.7" stroke-opacity="0.6"/>
<ellipse cx="172.8" cy="497" rx="9.1" ry="4.8" fill="none" stroke="#8a3a6a" stroke-width="1.0"/>
<ellipse cx="201.4" cy="510.4" rx="7.4" ry="15.6" fill="none" stroke="#2a3a7a" stroke-width="1.0"/>
<rect x="162" y="483.5" width="51" height="48.5" fill="none" stroke="#222" stroke-width="1.3"/>
<line x1="153.4" y1="532" x2="153.4" y2="487.4" stroke="#666" stroke-width="1.15"/>
<path d="M151.3,488.4 L153.4,484.4 L155.5,488.4 Z" fill="#111"/>
<line x1="163.7" y1="541.5" x2="210" y2="541.5" stroke="#666" stroke-width="1.15"/>
<path d="M209,539.4 L213,541.5 L209,543.6 Z" fill="#111"/>
<rect x="157" y="484.4" width="2.6" height="1.2" fill="#aaa"/>
<rect x="157" y="496.4" width="2.6" height="1.2" fill="#aaa"/>
<rect x="157" y="520.4" width="2.6" height="1.2" fill="#aaa"/>
<rect x="157" y="524.4" width="2.6" height="1.2" fill="#aaa"/>
<rect x="157" y="528.4" width="2.6" height="1.2" fill="#aaa"/>
<rect x="163.7" y="535.5" width="2.6" height="1.2" fill="#aaa"/>
<rect x="166.7" y="535.5" width="2.6" height="1.2" fill="#aaa"/>
<rect x="169.7" y="535.5" width="2.6" height="1.2" fill="#aaa"/>
<rect x="188.7" y="535.5" width="2.6" height="1.2" fill="#aaa"/>
<rect x="199.7" y="535.5" width="2.6" height="1.2" fill="#aaa"/>
<rect x="209.7" y="535.5" width="2.6" height="1.2" fill="#aaa"/>
<text x="165.5" y="490.5" font-size="6.8" fill="#c24a5a" stroke="#c24a5a" stroke-width="0.15" textLength="28.5" lengthAdjust="spacingAndGlyphs">Basophils</text>
<text x="168" y="531.1" font-size="6.8" fill="#2a2a7a" stroke="#2a2a7a" stroke-width="0.15" textLength="29.5" lengthAdjust="spacingAndGlyphs">Mast cells</text>
<text x="150.8" y="530.3" font-size="6.8" fill="#2a2a2a" stroke="#2a2a2a" stroke-width="0.3" textLength="41.6" lengthAdjust="spacingAndGlyphs" transform="rotate(-90 150.8 530.3)">CD123 (IL-3R)</text>
<text x="163.7" y="551.2" font-size="6.8" fill="#2a2a2a" stroke="#2a2a2a" stroke-width="0.3" textLength="39.8" lengthAdjust="spacingAndGlyphs">CD117 (c-kit)</text>
<rect x="237.1" y="408.2" width="34.6" height="36.2" fill="none" stroke="#222" stroke-width="1.2"/>
<text x="240.1" y="416.7" font-size="6.8" fill="#c24a5a" stroke="#c24a5a" stroke-width="0.15" textLength="28.5" lengthAdjust="spacingAndGlyphs">Basophils</text>
<circle cx="243.5" cy="439.7" r="0.7" fill="#555"/>
<rect x="237.2" y="447.8" width="34.4" height="35" fill="none" stroke="#222" stroke-width="1.2"/>
<text x="240.1" y="454" font-size="6.8" fill="#3a3a8a" stroke="#3a3a8a" stroke-width="0.15" textLength="30.3" lengthAdjust="spacingAndGlyphs">Mast cells</text>
<ellipse cx="245.9" cy="475" rx="1.8" ry="2.4" fill="#80849c" fill-opacity="1.0" filter="url(#b10)"/>
<line x1="232.5" y1="484.3" x2="232.5" y2="412.8" stroke="#666" stroke-width="1.15"/>
<path d="M230.4,413.8 L232.5,409.8 L234.6,413.8 Z" fill="#111"/>
<line x1="237.7" y1="487.4" x2="268.6" y2="487.4" stroke="#666" stroke-width="1.15"/>
<path d="M267.6,485.3 L271.6,487.4 L267.6,489.5 Z" fill="#111"/>
<text x="231" y="483.7" font-size="6.6" fill="#2a2a2a" stroke="#2a2a2a" stroke-width="0.3" textLength="12.8" lengthAdjust="spacingAndGlyphs" transform="rotate(-90 231 483.7)">SSC</text>
<text x="237.7" y="496" font-size="6.6" fill="#2a2a2a" stroke="#2a2a2a" stroke-width="0.3" textLength="12.7" lengthAdjust="spacingAndGlyphs">FSC</text>
<rect x="236.6" y="505.5" width="35" height="28.2" fill="none" stroke="#222" stroke-width="1.2"/>
<path d="M237.5,533 L240,531 L242,526 L243.5,520 L244.5,518 L245.5,521 L246.5,517.5 L247.5,524 L249,531 L251,533" fill="none" fill-opacity="1" stroke="#d03040" stroke-width="0.6" stroke-linejoin="round"/>
<path d="M244,533 L247,532 L249,528 L250.5,522 L251.5,519 L252.5,523 L253.3,516.5 L254.3,524 L255.5,531 L257,533" fill="none" fill-opacity="1" stroke="#3040a0" stroke-width="0.6" stroke-linejoin="round"/>
<line x1="237.7" y1="541.9" x2="267.2" y2="541.9" stroke="#666" stroke-width="1.15"/>
<path d="M266.2,539.8 L270.2,541.9 L266.2,544 Z" fill="#111"/>
<text x="239.7" y="551.2" font-size="6.8" fill="#2a2a2a" stroke="#2a2a2a" stroke-width="0.3" textLength="24.7" lengthAdjust="spacingAndGlyphs">HLA-DR</text>
<text x="310" y="436.3" font-size="7.8" fill="#333" stroke="#333" stroke-width="0.3" textLength="38.8" lengthAdjust="spacingAndGlyphs">Colon (CD)</text>
<text x="309.3" y="512.6" font-size="7.8" fill="#333" stroke="#333" stroke-width="0.3" textLength="37.2" lengthAdjust="spacingAndGlyphs">Colon (UC)</text>
<text x="379" y="396.7" font-size="6.6" fill="#333" stroke="#333" stroke-width="0.15" textLength="16.6" lengthAdjust="spacingAndGlyphs">FcεRI</text>
<text x="396.2" y="394.6" font-size="6" fill="#333" stroke="#333" stroke-width="0.15" textLength="12.7" lengthAdjust="spacingAndGlyphs">high</text>
<text x="379" y="404.3" font-size="6.6" fill="#333" stroke="#333" stroke-width="0.15" textLength="17.2" lengthAdjust="spacingAndGlyphs">SIRP-α</text>
<text x="400.9" y="402" font-size="6" fill="#333" stroke="#333" stroke-width="0.15" textLength="10.1" lengthAdjust="spacingAndGlyphs">low</text>
<text x="412.6" y="405.4" font-size="6.6" fill="#333" stroke="#333" stroke-width="0.15" textLength="13.7" lengthAdjust="spacingAndGlyphs">cells</text>
<path d="M406.8,446.4h0.7M398.3,442.6h0.7M378.8,422.1h0.7M395.2,441.6h0.7M405.8,449.0h0.7M401.6,414.8h0.7M384.0,444.0h0.7M383.8,425.8h0.7M378.9,452.8h0.7M411.5,437.6h0.7M423.2,413.3h0.7M395.3,422.2h0.7M378.8,430.1h0.7M407.6,434.1h0.7M418.3,442.1h0.7M422.2,416.0h0.7M406.4,413.4h0.7M391.6,435.0h0.7M386.3,412.7h0.7M381.6,446.2h0.7M399.4,432.3h0.7M415.2,419.5h0.7M395.6,425.9h0.7M411.6,416.0h0.7M405.5,450.0h0.7M412.5,445.1h0.7M422.5,437.9h0.7M405.3,420.1h0.7M381.5,445.9h0.7M404.9,441.2h0.7M409.6,439.5h0.7M415.6,434.7h0.7M400.0,442.5h0.7M409.0,454.4h0.7M378.2,417.4h0.7M398.0,437.6h0.7M401.7,425.7h0.7M410.5,415.9h0.7M416.8,451.0h0.7M397.9,419.9h0.7M411.5,434.7h0.7M421.1,433.1h0.7M380.9,415.4h0.7M416.7,431.8h0.7M396.5,423.6h0.7M390.7,440.6h0.7M404.8,437.7h0.7M389.3,425.6h0.7M398.1,454.3h0.7M391.4,412.6h0.7M401.8,443.6h0.7M385.2,441.5h0.7M387.1,442.3h0.7M416.0,432.9h0.7M384.1,422.2h0.7M391.4,414.7h0.7M381.0,425.8h0.7M393.2,449.0h0.7M404.8,432.8h0.7M399.2,438.0h0.7M410.8,415.4h0.7M401.7,440.8h0.7M420.2,438.4h0.7M415.9,417.3h0.7M419.1,421.7h0.7M409.7,454.2h0.7M397.6,423.3h0.7M421.5,425.4h0.7M397.5,429.5h0.7M378.9,418.0h0.7M390.8,446.5h0.7M383.4,454.7h0.7M383.7,440.9h0.7M408.9,415.0h0.7M407.9,434.3h0.7M392.5,430.0h0.7M415.4,419.7h0.7M420.8,419.5h0.7M393.9,418.7h0.7M403.8,441.3h0.7M419.7,423.4h0.7M387.5,444.3h0.7M422.4,451.3h0.7M416.5,446.0h0.7M409.4,430.2h0.7M413.7,431.1h0.7M397.1,451.5h0.7M422.4,452.8h0.7M406.2,427.5h0.7M384.8,437.6h0.7M416.9,415.4h0.7M417.2,444.7h0.7M395.1,416.3h0.7M384.9,436.8h0.7M404.7,433.2h0.7M393.2,454.9h0.7M417.8,413.2h0.7M383.0,432.9h0.7M389.0,433.9h0.7M396.6,423.6h0.7M393.8,417.4h0.7M378.0,425.2h0.7M406.4,412.2h0.7M377.6,425.3h0.7M417.3,412.2h0.7M398.3,415.9h0.7M405.6,435.9h0.7M405.6,423.5h0.7M388.5,450.0h0.7M415.8,451.4h0.7M405.6,440.8h0.7M394.5,443.4h0.7M404.1,413.1h0.7M394.8,452.3h0.7M420.3,427.5h0.7M383.2,432.7h0.7M401.7,413.4h0.7M403.5,432.9h0.7M384.0,446.6h0.7M393.6,420.8h0.7" stroke="#6a70b0" stroke-width="0.7" stroke-opacity="0.45"/>
<path d="M399.0,427.4h0.7M400.2,419.7h0.7M407.9,426.6h0.7M405.3,425.1h0.7M402.1,422.6h0.7M398.6,422.4h0.7M388.4,426.6h0.7M397.7,422.1h0.7M390.9,429.2h0.7M393.3,425.0h0.7M400.1,424.6h0.7M402.9,425.7h0.7M392.5,429.9h0.7M403.2,429.1h0.7M405.1,426.3h0.7M397.4,429.1h0.7M395.2,422.0h0.7M401.2,422.2h0.7M401.0,423.5h0.7M395.2,424.9h0.7M402.4,424.3h0.7M397.2,428.3h0.7M405.1,427.5h0.7M402.5,425.5h0.7M397.1,424.7h0.7M399.5,425.9h0.7M403.6,426.1h0.7M407.1,423.8h0.7M401.0,429.5h0.7M406.2,422.8h0.7M394.7,429.4h0.7M401.0,422.4h0.7M403.5,425.6h0.7M394.0,427.8h0.7M400.2,423.0h0.7M397.5,427.3h0.7M394.9,422.9h0.7M407.6,427.6h0.7M397.3,422.3h0.7M396.4,428.4h0.7M391.3,425.2h0.7M390.6,423.9h0.7M392.5,423.6h0.7M396.5,427.1h0.7M401.6,427.3h0.7M396.3,423.9h0.7M402.7,427.1h0.7M406.5,423.3h0.7M399.7,432.5h0.7M398.7,425.8h0.7M403.9,427.4h0.7M398.0,426.4h0.7M402.2,428.5h0.7M401.1,432.0h0.7M394.5,421.0h0.7M398.3,425.5h0.7M402.8,421.2h0.7M400.6,420.5h0.7M400.6,421.7h0.7M399.4,423.8h0.7" stroke="#5a60a0" stroke-width="0.7" stroke-opacity="0.5"/>
<path d="M412.8,429.0h0.7M411.8,439.6h0.7M420.7,440.8h0.7M403.6,440.2h0.7M410.3,453.6h0.7M414.9,441.1h0.7M411.4,435.2h0.7M406.5,435.6h0.7M412.5,442.4h0.7M416.5,449.5h0.7M411.6,440.5h0.7M408.6,445.5h0.7M411.3,438.5h0.7M408.3,443.8h0.7M404.7,445.2h0.7M407.7,435.5h0.7M404.2,443.1h0.7M410.5,444.5h0.7M418.1,446.8h0.7M406.0,438.2h0.7M412.3,434.3h0.7M403.7,446.4h0.7M409.2,440.7h0.7M408.5,447.6h0.7M407.8,435.3h0.7M409.6,435.4h0.7M408.4,441.0h0.7M409.4,434.1h0.7M414.0,436.1h0.7M405.0,437.9h0.7M420.6,448.3h0.7M414.9,444.2h0.7M409.8,438.0h0.7M410.4,454.1h0.7M420.3,446.8h0.7M417.6,441.9h0.7M406.8,434.8h0.7M404.8,434.8h0.7M407.2,437.5h0.7M406.5,443.1h0.7M404.3,443.8h0.7M411.1,445.0h0.7M411.3,444.7h0.7M410.0,436.3h0.7M419.4,445.0h0.7M407.6,445.4h0.7M404.5,446.7h0.7M409.9,442.6h0.7M415.5,441.3h0.7M415.2,438.7h0.7M400.8,442.3h0.7M418.5,445.3h0.7M412.0,432.4h0.7M393.0,436.5h0.7M409.2,441.6h0.7M409.7,440.8h0.7M412.8,445.0h0.7M416.0,438.8h0.7M400.8,447.7h0.7M409.2,439.2h0.7M413.9,442.5h0.7M407.2,445.0h0.7M409.7,436.5h0.7M409.0,437.0h0.7M408.4,442.1h0.7M423.6,432.4h0.7M406.9,443.4h0.7M414.6,439.4h0.7M397.2,433.7h0.7M409.3,434.9h0.7M404.1,438.8h0.7M412.7,449.8h0.7M412.0,442.3h0.7M409.8,441.6h0.7M410.5,444.1h0.7M400.3,440.4h0.7M419.9,435.4h0.7M402.4,431.4h0.7M409.6,453.9h0.7M417.4,442.9h0.7M413.4,450.2h0.7M412.5,438.5h0.7M412.0,438.1h0.7M413.1,443.3h0.7M417.4,433.4h0.7M403.4,445.0h0.7M404.9,444.9h0.7M416.0,429.2h0.7M413.7,448.2h0.7M403.6,447.2h0.7M413.6,445.1h0.7M408.3,426.8h0.7M415.8,437.4h0.7M408.0,430.8h0.7M408.5,437.5h0.7M412.1,437.6h0.7M408.0,436.4h0.7M414.5,443.1h0.7M417.5,432.2h0.7M408.9,446.4h0.7M414.2,445.5h0.7M404.0,447.6h0.7M404.9,444.5h0.7M410.5,435.9h0.7M401.5,435.9h0.7M404.6,441.0h0.7M408.2,441.1h0.7M409.1,433.2h0.7M420.4,439.1h0.7M411.8,445.1h0.7M417.4,451.5h0.7M407.6,447.4h0.7M410.4,441.6h0.7M415.9,431.1h0.7M407.3,437.6h0.7M417.8,428.4h0.7M400.9,433.6h0.7M414.8,442.3h0.7M419.0,435.3h0.7M406.6,442.3h0.7M405.4,441.7h0.7M408.8,431.4h0.7M417.4,448.2h0.7M409.4,432.6h0.7M417.6,427.8h0.7M414.0,440.8h0.7M405.8,434.7h0.7M415.1,434.9h0.7M419.0,442.5h0.7M417.0,444.0h0.7M412.3,454.3h0.7M411.4,440.9h0.7M405.1,438.3h0.7M412.6,430.5h0.7M407.8,433.8h0.7M410.0,433.5h0.7M415.1,440.5h0.7M405.9,437.6h0.7M408.0,441.9h0.7M412.4,441.3h0.7M412.7,435.3h0.7M415.3,435.0h0.7M411.1,445.8h0.7M408.7,435.3h0.7M408.1,439.2h0.7M404.6,444.4h0.7M417.8,432.0h0.7" stroke="#3a40a0" stroke-width="0.7" stroke-opacity="0.55"/>
<ellipse cx="386" cy="445.8" rx="10" ry="3.5" fill="#1a2ac8" fill-opacity="1.0" filter="url(#b10)"/>
<ellipse cx="381" cy="446" rx="4" ry="2.5" fill="#0a18b0" fill-opacity="1.0" filter="url(#b8)"/>
<ellipse cx="404" cy="446" rx="6" ry="2.5" fill="#6a70c0" fill-opacity="0.6" filter="url(#b15)"/>
<path d="M413.6,446.8h0.7M408.3,443.8h0.7M407.2,445.5h0.7M413.5,444.1h0.7M419.5,444.9h0.7M404.9,443.2h0.7M411.5,442.4h0.7M405.1,441.9h0.7M412.0,443.2h0.7M410.5,448.6h0.7M408.1,443.6h0.7M422.1,441.5h0.7M405.9,444.5h0.7M407.2,448.3h0.7M408.3,443.8h0.7M398.7,443.8h0.7M410.4,443.6h0.7M409.9,445.2h0.7M407.4,446.4h0.7M409.0,449.3h0.7M403.6,442.6h0.7M404.4,444.2h0.7M403.0,442.8h0.7M402.8,443.3h0.7M410.6,451.5h0.7M405.6,443.1h0.7M408.1,443.1h0.7M411.0,446.2h0.7M408.9,444.2h0.7M409.8,448.1h0.7M422.9,447.1h0.7M407.9,448.1h0.7M409.0,444.6h0.7M414.0,446.8h0.7M415.0,444.4h0.7M407.2,443.5h0.7M408.7,444.2h0.7M415.5,442.0h0.7M397.8,444.3h0.7M403.8,443.5h0.7M421.0,445.9h0.7M403.2,442.5h0.7M419.9,448.4h0.7M412.8,445.9h0.7M413.0,450.4h0.7M404.1,445.1h0.7M409.6,442.9h0.7M407.2,445.8h0.7M405.7,442.7h0.7M399.7,446.7h0.7M415.4,443.6h0.7M407.6,443.8h0.7M400.9,442.5h0.7M409.5,445.4h0.7M406.4,442.8h0.7M411.9,446.6h0.7M400.6,443.5h0.7M410.8,445.8h0.7M402.8,446.3h0.7M406.9,446.4h0.7M409.8,444.6h0.7M405.6,447.9h0.7M407.4,444.5h0.7M406.1,449.8h0.7M408.5,442.6h0.7M405.1,442.8h0.7M410.3,441.1h0.7M406.9,446.7h0.7M413.7,444.4h0.7M405.1,442.0h0.7M409.8,445.4h0.7M404.8,442.7h0.7M407.0,444.3h0.7M413.5,449.3h0.7M411.7,447.4h0.7M421.4,439.5h0.7M413.3,446.5h0.7M402.7,443.9h0.7M408.2,445.6h0.7M410.4,441.0h0.7M407.7,441.8h0.7M417.4,443.3h0.7M407.4,449.0h0.7M405.1,445.5h0.7M406.6,443.3h0.7M416.8,447.3h0.7M407.8,445.3h0.7M401.5,447.1h0.7M409.3,446.5h0.7M409.2,444.9h0.7M408.4,446.2h0.7M405.3,444.8h0.7M409.1,442.8h0.7M410.9,442.6h0.7M405.3,445.1h0.7M411.9,443.8h0.7M413.9,439.9h0.7M410.8,444.3h0.7M410.9,443.5h0.7M409.0,446.2h0.7M406.6,442.2h0.7M412.0,444.3h0.7M409.9,442.1h0.7M415.1,444.6h0.7M413.2,444.8h0.7M408.6,446.0h0.7M415.0,447.5h0.7M410.3,443.1h0.7M414.0,447.1h0.7M413.9,445.3h0.7M412.6,443.4h0.7M406.1,446.5h0.7M409.8,438.8h0.7M414.7,443.5h0.7M413.3,444.4h0.7M413.9,442.0h0.7M402.9,444.2h0.7M405.3,447.5h0.7M408.0,441.2h0.7M402.2,443.9h0.7M402.7,447.1h0.7M410.4,445.0h0.7M413.0,443.4h0.7M412.3,444.6h0.7M412.4,444.4h0.7M414.6,444.1h0.7M407.7,446.5h0.7M405.0,445.0h0.7M416.6,442.5h0.7M409.0,442.9h0.7M406.3,446.0h0.7M405.6,447.3h0.7M408.5,445.1h0.7M413.6,445.9h0.7M419.1,443.7h0.7M416.4,443.4h0.7M416.6,445.3h0.7M405.0,446.5h0.7M412.0,445.2h0.7M413.6,447.4h0.7M412.2,443.9h0.7M401.8,442.3h0.7M405.5,446.1h0.7M405.7,445.4h0.7M403.4,447.6h0.7M413.5,446.7h0.7M406.0,441.0h0.7M415.6,437.5h0.7M414.1,446.1h0.7M408.7,446.8h0.7M402.6,445.1h0.7M403.9,448.1h0.7M413.0,441.4h0.7M410.6,441.0h0.7M415.2,446.5h0.7M411.8,439.8h0.7M412.5,445.1h0.7M406.9,442.7h0.7M405.4,444.4h0.7M405.3,445.6h0.7M415.4,446.8h0.7M404.4,445.3h0.7M406.1,448.8h0.7M411.1,444.1h0.7M406.6,444.2h0.7M405.5,445.8h0.7M413.4,444.4h0.7M405.2,445.8h0.7M414.1,443.4h0.7M415.2,444.5h0.7M408.2,444.3h0.7M413.2,440.9h0.7M401.5,444.9h0.7M413.1,442.0h0.7M399.4,444.1h0.7M410.2,444.3h0.7M406.9,444.9h0.7M401.0,443.3h0.7M410.0,444.6h0.7M410.8,448.4h0.7M404.1,443.6h0.7M410.0,442.2h0.7M405.2,444.9h0.7M407.7,444.4h0.7M416.3,442.8h0.7M415.6,444.1h0.7M404.4,444.0h0.7M407.6,447.1h0.7M410.9,441.1h0.7M414.3,444.8h0.7M410.6,443.6h0.7M403.3,443.9h0.7M406.7,445.3h0.7M406.3,441.4h0.7M406.2,446.4h0.7M414.8,449.1h0.7M407.0,444.3h0.7M402.1,444.1h0.7M403.5,441.2h0.7M409.9,445.4h0.7" stroke="#202070" stroke-width="0.7" stroke-opacity="0.55"/>
<path d="M410.6,429.5h0.7M412.2,419.9h0.7M413.3,431.2h0.7M415.4,420.6h0.7M410.8,429.8h0.7M412.6,438.2h0.7M411.6,429.4h0.7M415.5,429.9h0.7M411.4,439.2h0.7M411.8,432.4h0.7M409.4,427.7h0.7M414.3,433.6h0.7M413.0,424.9h0.7M413.2,430.1h0.7M411.3,428.4h0.7M412.4,429.8h0.7M413.0,437.4h0.7M410.5,436.6h0.7M413.6,437.1h0.7M414.0,433.3h0.7M411.7,439.1h0.7M412.3,427.4h0.7M413.4,423.6h0.7M414.0,429.1h0.7M412.8,437.6h0.7M415.0,434.3h0.7M414.3,434.4h0.7M412.4,436.2h0.7M411.2,428.9h0.7M412.9,432.6h0.7M412.4,436.0h0.7M415.1,423.9h0.7M416.4,434.7h0.7M413.1,438.5h0.7M412.8,431.8h0.7M410.1,432.3h0.7M416.7,423.5h0.7M410.5,425.6h0.7M414.7,432.5h0.7M414.1,434.4h0.7M413.4,437.3h0.7M415.3,437.9h0.7M415.2,435.5h0.7M413.9,426.0h0.7M412.1,427.8h0.7M410.8,423.3h0.7M416.0,434.4h0.7M411.4,427.6h0.7M416.9,429.8h0.7M416.7,421.6h0.7M408.7,442.2h0.7M413.9,431.7h0.7M411.9,435.3h0.7M414.1,436.3h0.7M413.7,432.1h0.7M415.2,420.0h0.7M413.1,428.1h0.7M414.1,430.7h0.7M411.7,431.3h0.7M412.8,430.2h0.7M414.1,435.7h0.7M411.6,436.2h0.7M412.5,437.9h0.7M411.4,426.5h0.7M413.6,444.6h0.7M411.8,424.8h0.7M413.1,431.1h0.7M409.8,426.5h0.7M412.0,437.6h0.7M416.4,429.6h0.7M410.5,428.1h0.7M412.3,428.7h0.7M413.2,438.7h0.7M410.9,425.8h0.7M413.8,435.9h0.7M412.2,438.1h0.7M417.7,417.1h0.7M412.8,426.9h0.7M413.2,436.8h0.7M414.2,439.7h0.7M415.0,441.1h0.7M410.9,428.0h0.7M414.6,430.6h0.7M414.2,431.9h0.7M413.6,419.4h0.7M411.8,443.3h0.7M406.7,440.3h0.7M411.3,429.8h0.7M410.1,444.8h0.7M411.5,425.2h0.7M410.5,446.1h0.7M412.6,422.5h0.7M411.2,426.4h0.7M412.1,437.1h0.7M410.0,436.6h0.7M412.3,419.4h0.7M413.8,433.7h0.7M410.8,437.7h0.7M410.3,441.1h0.7M415.7,435.8h0.7" stroke="#3a3a90" stroke-width="0.7" stroke-opacity="0.45"/>
<ellipse cx="410" cy="445" rx="4.5" ry="2.2" fill="#2a2a80" fill-opacity="0.7" filter="url(#b12)"/>
<ellipse cx="399.3" cy="425.5" rx="10.3" ry="7" fill="none" stroke="#555" stroke-width="0.9"/>
<rect x="373.6" y="408.2" width="50.4" height="48" fill="none" stroke="#222" stroke-width="1.3"/>
<line x1="363" y1="456.1" x2="363" y2="411.5" stroke="#666" stroke-width="1.15"/>
<path d="M360.9,412.5 L363,408.5 L365.1,412.5 Z" fill="#111"/>
<line x1="374.2" y1="466.2" x2="419.7" y2="466.2" stroke="#666" stroke-width="1.15"/>
<path d="M418.7,464.1 L422.7,466.2 L418.7,468.3 Z" fill="#111"/>
<rect x="368.4" y="408.4" width="2.6" height="1.2" fill="#aaa"/>
<rect x="368.4" y="415.4" width="2.6" height="1.2" fill="#aaa"/>
<rect x="368.4" y="425.4" width="2.6" height="1.2" fill="#aaa"/>
<rect x="368.4" y="442.4" width="2.6" height="1.2" fill="#aaa"/>
<rect x="368.4" y="446.4" width="2.6" height="1.2" fill="#aaa"/>
<rect x="368.4" y="450.4" width="2.6" height="1.2" fill="#aaa"/>
<rect x="375.7" y="459.5" width="2.6" height="1.2" fill="#aaa"/>
<rect x="379.7" y="459.5" width="2.6" height="1.2" fill="#aaa"/>
<rect x="383.7" y="459.5" width="2.6" height="1.2" fill="#aaa"/>
<rect x="402.7" y="459.5" width="2.6" height="1.2" fill="#aaa"/>
<rect x="411.7" y="459.5" width="2.6" height="1.2" fill="#aaa"/>
<rect x="420.7" y="459.5" width="2.6" height="1.2" fill="#aaa"/>
<text x="360.7" y="456.1" font-size="6.8" fill="#2a2a2a" stroke="#2a2a2a" stroke-width="0.3" textLength="16.4" lengthAdjust="spacingAndGlyphs" transform="rotate(-90 360.7 456.1)">FcεRI</text>
<text x="376" y="479.2" font-size="6.8" fill="#2a2a2a" stroke="#2a2a2a" stroke-width="0.3" textLength="50.1" lengthAdjust="spacingAndGlyphs">CD172a (SIRPα)</text>
<path d="M401.5,422.7 C402,414 406,406.5 412.3,406.5 C420,406.5 432,412 440.2,421.5" fill="none" stroke="#222" stroke-width="1.15" stroke-dasharray="1.7 1.3"/>
<path d="M442.5,424.3 L437.3,422.1 L441.3,418.8 Z" fill="#222"/>
<path d="M376.3,494.7h0.7M399.8,516.8h0.7M414.8,505.5h0.7M391.5,513.6h0.7M378.8,491.9h0.7M423.8,501.2h0.7M422.7,503.0h0.7M411.7,520.7h0.7M399.0,528.0h0.7M388.6,497.2h0.7M390.2,524.8h0.7M406.6,507.4h0.7M376.5,524.4h0.7M394.5,500.0h0.7M411.2,501.6h0.7M383.9,521.3h0.7M422.0,494.2h0.7M402.1,509.8h0.7M408.1,509.9h0.7M402.3,500.8h0.7M385.1,519.2h0.7M386.2,496.3h0.7M410.7,498.8h0.7M412.3,509.5h0.7M414.1,528.3h0.7M423.6,506.9h0.7M386.8,507.5h0.7M386.2,494.1h0.7M404.1,502.7h0.7M377.0,529.5h0.7M393.5,514.3h0.7M407.5,506.0h0.7M411.0,496.8h0.7M387.9,520.4h0.7M413.7,496.8h0.7M384.6,507.3h0.7M391.2,499.8h0.7M391.5,528.3h0.7M383.6,504.4h0.7M420.0,518.8h0.7M381.9,504.6h0.7M387.0,529.8h0.7M405.0,512.7h0.7M405.9,502.1h0.7M412.7,512.7h0.7M408.1,493.2h0.7M415.8,508.8h0.7M409.5,498.2h0.7M415.0,516.4h0.7M395.0,522.0h0.7M393.8,526.2h0.7M385.5,513.3h0.7M393.0,515.2h0.7M397.4,491.3h0.7M393.8,508.2h0.7M381.3,492.6h0.7M417.6,517.2h0.7M377.7,521.1h0.7M405.3,494.1h0.7M418.5,521.8h0.7M384.7,517.2h0.7M412.7,525.9h0.7M391.4,509.6h0.7M422.0,504.1h0.7M410.9,508.4h0.7M401.8,512.6h0.7M385.4,528.2h0.7M382.6,490.8h0.7M405.5,497.4h0.7M417.9,527.9h0.7M414.5,494.0h0.7M389.3,504.7h0.7M411.7,521.9h0.7M394.8,508.7h0.7M398.1,495.2h0.7M377.9,505.9h0.7M391.0,500.3h0.7M419.0,489.2h0.7M411.2,488.9h0.7M395.8,499.2h0.7M395.6,514.1h0.7M400.8,518.8h0.7M388.1,505.4h0.7M409.6,517.5h0.7M384.6,515.4h0.7M378.4,518.7h0.7M414.4,506.6h0.7M406.1,502.7h0.7M382.4,506.5h0.7M391.6,503.9h0.7M423.3,491.2h0.7M381.5,521.2h0.7M377.2,497.4h0.7M410.5,517.1h0.7M379.6,489.0h0.7M402.1,529.9h0.7M400.3,516.9h0.7M413.9,508.8h0.7M383.1,524.0h0.7M410.7,505.9h0.7M386.8,490.6h0.7M383.4,516.2h0.7M411.0,496.4h0.7M386.3,510.8h0.7M392.8,509.5h0.7M376.1,516.2h0.7M391.9,509.1h0.7M397.2,530.0h0.7M387.1,509.0h0.7M412.7,505.0h0.7M418.4,520.3h0.7M387.9,530.7h0.7M415.9,527.4h0.7M396.2,510.0h0.7M402.8,496.8h0.7M379.6,506.8h0.7M406.7,513.3h0.7M404.5,500.2h0.7M378.3,522.9h0.7M419.1,488.7h0.7" stroke="#6a70b0" stroke-width="0.7" stroke-opacity="0.45"/>
<path d="M392.0,495.2h0.7M395.2,497.8h0.7M381.6,498.7h0.7M407.7,497.1h0.7M387.8,492.9h0.7M393.3,497.3h0.7M386.1,492.7h0.7M393.1,492.9h0.7M397.1,495.6h0.7M395.4,496.7h0.7M383.1,500.0h0.7M403.9,493.9h0.7M398.3,497.0h0.7M386.8,496.4h0.7M396.8,497.9h0.7M396.3,494.9h0.7M417.8,490.7h0.7M405.8,497.8h0.7M398.1,494.5h0.7M376.5,494.7h0.7M392.2,495.5h0.7M400.8,492.9h0.7M392.1,493.3h0.7M386.8,495.5h0.7M382.0,491.5h0.7M383.8,493.9h0.7M399.7,495.7h0.7M393.1,499.6h0.7M392.9,495.8h0.7M392.8,498.5h0.7M388.8,495.7h0.7M398.5,494.5h0.7M391.0,493.0h0.7M385.8,495.0h0.7M389.1,496.7h0.7M396.8,495.7h0.7M396.4,494.1h0.7M394.2,498.3h0.7M386.1,495.0h0.7M390.1,496.1h0.7M384.7,492.6h0.7M397.8,493.9h0.7M389.7,496.2h0.7M392.4,496.5h0.7M404.8,495.2h0.7M392.5,494.6h0.7M410.7,497.3h0.7M391.4,492.3h0.7M397.5,499.5h0.7M389.8,494.7h0.7M385.7,495.6h0.7M395.7,495.1h0.7M383.4,493.4h0.7M386.2,493.7h0.7M385.3,496.8h0.7M394.7,494.7h0.7M400.1,492.5h0.7M399.4,495.1h0.7M402.7,495.4h0.7M403.4,493.6h0.7" stroke="#5a60a0" stroke-width="0.7" stroke-opacity="0.5"/>
<path d="M414.4,512.5h0.7M414.2,517.9h0.7M417.6,507.8h0.7M412.9,517.9h0.7M423.3,514.5h0.7M396.5,522.8h0.7M417.7,523.7h0.7M414.2,518.1h0.7M416.1,530.4h0.7M414.6,509.6h0.7M397.9,515.1h0.7M407.8,494.4h0.7M413.0,526.9h0.7M416.4,530.1h0.7M420.8,509.7h0.7M411.3,501.7h0.7M413.3,516.4h0.7M413.3,510.8h0.7M395.7,511.7h0.7M420.5,506.9h0.7M404.3,519.7h0.7M412.3,522.8h0.7M407.4,521.6h0.7M416.6,507.8h0.7M408.4,498.4h0.7M401.5,506.7h0.7M419.1,509.0h0.7M409.7,506.5h0.7M397.8,513.9h0.7M411.3,508.4h0.7M409.8,497.3h0.7M408.5,509.7h0.7M404.7,506.5h0.7M402.1,516.6h0.7M415.0,508.2h0.7M403.4,487.5h0.7M410.9,522.6h0.7M407.9,523.5h0.7M407.4,504.1h0.7M414.9,511.4h0.7M412.0,518.8h0.7M421.6,520.9h0.7M405.5,520.3h0.7M409.9,516.1h0.7M405.8,520.1h0.7M403.6,503.9h0.7M407.7,509.6h0.7M410.7,503.6h0.7M391.7,503.7h0.7M400.6,511.9h0.7M401.6,529.1h0.7M400.7,513.9h0.7M416.2,520.1h0.7M411.8,488.0h0.7M407.2,504.6h0.7M399.9,508.7h0.7M401.3,494.8h0.7M415.0,502.4h0.7M401.3,513.9h0.7M412.7,504.4h0.7M412.6,505.0h0.7M412.2,514.4h0.7M416.7,501.5h0.7M403.6,510.4h0.7M416.8,499.9h0.7M404.1,515.9h0.7M417.1,518.2h0.7M402.8,516.6h0.7M406.3,526.7h0.7M406.0,511.5h0.7M413.5,489.3h0.7M411.1,511.0h0.7M407.0,511.3h0.7M415.8,521.5h0.7M407.8,508.8h0.7M406.8,522.0h0.7M416.3,511.9h0.7M413.9,518.9h0.7M407.2,503.4h0.7M417.2,530.4h0.7M405.5,512.5h0.7M407.3,517.1h0.7M413.2,513.1h0.7M406.6,526.8h0.7M408.2,523.1h0.7M411.4,502.0h0.7M398.7,514.6h0.7M417.4,515.0h0.7M405.1,529.8h0.7M407.0,509.4h0.7M417.8,506.4h0.7M413.7,513.8h0.7M407.3,507.4h0.7M411.8,519.0h0.7M411.4,509.8h0.7M407.6,504.3h0.7M399.9,507.0h0.7M398.0,515.4h0.7M401.3,519.7h0.7M395.4,525.0h0.7M406.8,519.4h0.7M409.1,525.0h0.7M406.9,530.5h0.7M411.6,525.2h0.7M409.4,514.3h0.7M414.7,512.9h0.7M398.1,520.3h0.7M416.7,524.3h0.7M406.3,510.6h0.7M407.8,512.1h0.7M409.7,510.3h0.7M411.7,522.1h0.7M409.6,520.7h0.7M401.9,519.5h0.7M413.7,510.0h0.7M403.6,528.2h0.7M401.2,519.5h0.7M415.2,509.9h0.7M403.9,525.6h0.7M415.5,519.2h0.7M405.9,509.9h0.7M408.2,517.2h0.7M404.8,513.8h0.7M411.9,504.2h0.7M419.5,529.6h0.7M416.9,522.0h0.7M406.8,501.3h0.7M421.1,517.8h0.7M409.1,513.0h0.7M416.2,514.3h0.7M408.9,508.8h0.7M409.6,525.5h0.7M406.0,519.9h0.7M401.3,508.5h0.7M402.0,526.5h0.7M419.5,502.4h0.7M416.0,506.8h0.7M405.9,522.7h0.7M414.9,496.2h0.7M401.3,504.1h0.7M410.2,514.9h0.7M408.4,512.0h0.7M403.1,514.9h0.7M408.3,518.0h0.7M406.2,509.2h0.7M413.8,511.4h0.7M410.6,512.4h0.7M416.4,498.8h0.7M404.0,502.7h0.7M407.1,505.3h0.7M395.3,514.3h0.7M409.6,523.2h0.7M399.2,504.7h0.7M420.5,519.4h0.7M410.6,499.4h0.7M403.0,524.7h0.7M406.2,523.6h0.7M406.9,513.3h0.7M407.8,515.7h0.7M417.1,519.2h0.7M397.4,525.6h0.7M405.8,512.5h0.7M415.2,526.4h0.7M413.6,522.8h0.7M412.0,514.6h0.7M405.0,515.6h0.7M416.4,512.2h0.7M412.5,521.8h0.7M414.0,500.1h0.7M414.8,523.4h0.7M416.6,509.5h0.7M415.2,511.4h0.7M400.7,528.3h0.7M409.0,519.0h0.7" stroke="#3a40a0" stroke-width="0.7" stroke-opacity="0.5"/>
<path d="M384.0,515.1h0.7M389.7,520.1h0.7M395.5,526.2h0.7M382.4,524.0h0.7M387.5,517.9h0.7M397.2,514.4h0.7M388.6,517.1h0.7M402.0,520.4h0.7M388.2,519.2h0.7M393.0,523.6h0.7M401.6,516.8h0.7M410.5,518.3h0.7M393.1,523.1h0.7M386.1,518.2h0.7M390.9,516.4h0.7M380.0,518.4h0.7M388.7,515.0h0.7M395.7,521.0h0.7M385.8,516.5h0.7M392.4,519.6h0.7M394.7,515.6h0.7M397.0,517.6h0.7M400.0,524.7h0.7M405.0,520.8h0.7M404.3,517.5h0.7M393.9,522.4h0.7M388.9,519.5h0.7M392.6,518.7h0.7M374.6,516.9h0.7M393.7,516.3h0.7M394.4,514.9h0.7M385.0,516.1h0.7M387.0,522.9h0.7M391.7,519.6h0.7M385.5,514.0h0.7M384.6,519.6h0.7M402.7,520.9h0.7M393.4,517.4h0.7M395.4,518.7h0.7M390.3,516.5h0.7M395.6,520.9h0.7M382.4,514.0h0.7M379.9,520.6h0.7M385.9,520.2h0.7M396.5,515.1h0.7M381.9,517.9h0.7M386.0,522.5h0.7M398.9,518.5h0.7M395.1,515.7h0.7M395.4,520.6h0.7M387.0,517.6h0.7M396.9,517.5h0.7M395.1,517.7h0.7M392.1,517.9h0.7M389.2,513.6h0.7M397.3,520.8h0.7M383.5,516.5h0.7M392.3,519.7h0.7M379.4,524.1h0.7M384.0,516.9h0.7M398.8,518.5h0.7M398.7,516.8h0.7M386.4,517.9h0.7M382.5,517.0h0.7M389.1,515.5h0.7M378.6,521.4h0.7M389.8,514.4h0.7M385.6,515.7h0.7M390.2,517.9h0.7M386.6,517.0h0.7M406.8,517.3h0.7M395.9,518.4h0.7M389.1,519.0h0.7M396.5,511.4h0.7M384.9,516.2h0.7M392.8,517.0h0.7M383.7,519.8h0.7M388.4,518.8h0.7M374.6,519.6h0.7M384.1,521.3h0.7M378.3,520.0h0.7M378.6,515.2h0.7M388.8,521.3h0.7M389.7,515.3h0.7M396.7,515.3h0.7M389.7,517.9h0.7M382.6,517.2h0.7M387.1,517.5h0.7M399.0,517.1h0.7M389.6,515.2h0.7M380.6,517.6h0.7M390.7,511.9h0.7M385.2,517.7h0.7M396.7,518.1h0.7M394.1,517.5h0.7M403.5,520.4h0.7M394.3,520.9h0.7M396.4,516.9h0.7M390.8,521.0h0.7M391.3,514.5h0.7M403.3,520.1h0.7M392.2,517.4h0.7M407.9,520.5h0.7M382.8,522.4h0.7M407.3,517.2h0.7M395.8,518.4h0.7M396.6,521.9h0.7M380.3,521.7h0.7M380.9,515.6h0.7M394.2,511.5h0.7M381.3,513.8h0.7M382.0,519.7h0.7M393.4,517.7h0.7M395.4,516.1h0.7M386.4,519.5h0.7M391.0,511.6h0.7M415.6,520.3h0.7M386.1,515.1h0.7M391.1,521.8h0.7M391.3,518.2h0.7M389.1,516.4h0.7M383.7,517.9h0.7M393.6,522.2h0.7M404.0,522.2h0.7M374.9,516.6h0.7M385.0,516.0h0.7M391.2,513.3h0.7M404.6,520.2h0.7M392.3,518.2h0.7M405.6,516.7h0.7M386.7,517.2h0.7M396.0,521.9h0.7M383.7,517.7h0.7M402.8,521.1h0.7M389.8,519.7h0.7M384.8,513.7h0.7M404.1,518.6h0.7M381.8,520.9h0.7M400.2,520.5h0.7M392.1,515.6h0.7M394.7,513.3h0.7M392.2,520.6h0.7M391.8,525.0h0.7M390.2,518.8h0.7M408.4,521.9h0.7M407.2,515.3h0.7M395.7,517.3h0.7M401.8,521.1h0.7M400.4,517.3h0.7M402.0,511.7h0.7M402.1,522.5h0.7M389.4,517.4h0.7M402.2,514.5h0.7M388.2,521.4h0.7M384.6,517.1h0.7M390.4,513.1h0.7M400.9,519.1h0.7M385.0,516.6h0.7M387.7,514.9h0.7M398.2,517.0h0.7M386.3,512.7h0.7M382.1,513.7h0.7M397.0,518.1h0.7M394.7,520.1h0.7M388.0,519.4h0.7M396.4,518.2h0.7M388.7,520.2h0.7M388.6,514.2h0.7M393.6,520.5h0.7M389.9,516.5h0.7M375.0,515.6h0.7M389.1,523.3h0.7M410.2,516.0h0.7M388.8,518.5h0.7M404.7,518.8h0.7M394.5,519.5h0.7M387.9,518.2h0.7M400.1,515.8h0.7M400.6,516.5h0.7M386.1,520.6h0.7M394.4,518.5h0.7M399.3,519.2h0.7M386.3,515.6h0.7M378.3,516.4h0.7M397.1,521.1h0.7M391.1,521.1h0.7M394.2,519.4h0.7M374.5,513.2h0.7M398.1,517.9h0.7M393.0,519.1h0.7M383.3,517.1h0.7M389.1,516.8h0.7M391.7,516.2h0.7M393.0,522.1h0.7M396.3,520.7h0.7M403.6,516.3h0.7M389.9,517.1h0.7" stroke="#2a3ab0" stroke-width="0.7" stroke-opacity="0.5"/>
<ellipse cx="402" cy="521.5" rx="8" ry="3" fill="#2a38b0" fill-opacity="0.8" filter="url(#b12)"/>
<ellipse cx="390.4" cy="523.2" rx="10.5" ry="4.3" fill="#1a28c0" fill-opacity="1.0" filter="url(#b9)"/>
<ellipse cx="390" cy="524" rx="6.5" ry="2" fill="#7a9af8" fill-opacity="1.0" filter="url(#b9)"/>
<ellipse cx="411.8" cy="521.5" rx="5" ry="3" fill="#1a1a80" fill-opacity="1.0" filter="url(#b10)"/>
<path d="M385.9,494.1h0.7M404.5,494.4h0.7M406.3,492.2h0.7M387.3,496.2h0.7M390.2,493.6h0.7M399.6,492.5h0.7M403.5,493.0h0.7M388.0,495.6h0.7M388.8,496.1h0.7M402.7,495.8h0.7M391.7,494.0h0.7M393.7,496.3h0.7M392.1,492.6h0.7M391.4,492.4h0.7M386.2,492.4h0.7M391.8,496.1h0.7M400.6,494.5h0.7M398.6,492.3h0.7M402.2,491.3h0.7M395.2,492.0h0.7M402.3,494.8h0.7M393.9,494.2h0.7M398.4,496.1h0.7M399.4,496.1h0.7M407.4,496.5h0.7M390.1,494.9h0.7M389.5,493.4h0.7M390.2,495.8h0.7M395.0,491.6h0.7M402.3,492.7h0.7M393.5,493.4h0.7M398.2,492.8h0.7M385.8,495.9h0.7M392.0,496.4h0.7M387.8,492.7h0.7M391.1,492.9h0.7M387.7,494.4h0.7M399.0,495.3h0.7M402.5,495.4h0.7M394.2,492.7h0.7M387.6,494.6h0.7M403.0,494.6h0.7M386.0,493.1h0.7M394.9,495.6h0.7M397.0,496.6h0.7M389.7,494.4h0.7M391.9,495.4h0.7M403.7,493.5h0.7M402.9,493.5h0.7M399.3,494.7h0.7M392.2,494.0h0.7M396.1,494.8h0.7M383.7,494.7h0.7M395.3,493.7h0.7M397.4,492.9h0.7M402.7,493.2h0.7M400.0,496.1h0.7M397.0,495.9h0.7M409.0,495.7h0.7M388.6,493.8h0.7M395.9,494.3h0.7M391.8,491.9h0.7M396.7,495.2h0.7M399.4,496.7h0.7M387.4,492.9h0.7M396.2,492.6h0.7M390.0,493.9h0.7M391.5,493.8h0.7M390.2,495.2h0.7M398.7,493.0h0.7M378.1,491.0h0.7M391.2,492.9h0.7M389.9,494.9h0.7M394.4,493.2h0.7M398.0,492.7h0.7M400.6,493.7h0.7M398.0,494.4h0.7M394.1,495.4h0.7M401.4,498.1h0.7M389.3,494.8h0.7" stroke="#666" stroke-width="0.7" stroke-opacity="0.5"/>
<ellipse cx="404.6" cy="493.9" rx="2.6" ry="1.2" fill="#2a2a7a" fill-opacity="1.0" filter="url(#b6)"/>
<ellipse cx="394.7" cy="494.4" rx="17.1" ry="5.7" fill="none" stroke="#555" stroke-width="0.9"/>
<rect x="374.2" y="483.6" width="50.4" height="48" fill="none" stroke="#222" stroke-width="1.3"/>
<line x1="363" y1="532" x2="363" y2="486.5" stroke="#666" stroke-width="1.15"/>
<path d="M360.9,487.5 L363,483.5 L365.1,487.5 Z" fill="#111"/>
<line x1="374.2" y1="541.5" x2="419.7" y2="541.5" stroke="#666" stroke-width="1.15"/>
<path d="M418.7,539.4 L422.7,541.5 L418.7,543.6 Z" fill="#111"/>
<rect x="369.2" y="484.4" width="2.6" height="1.2" fill="#aaa"/>
<rect x="369.2" y="490.4" width="2.6" height="1.2" fill="#aaa"/>
<rect x="369.2" y="496.4" width="2.6" height="1.2" fill="#aaa"/>
<rect x="369.2" y="505.4" width="2.6" height="1.2" fill="#aaa"/>
<rect x="369.2" y="520.4" width="2.6" height="1.2" fill="#aaa"/>
<rect x="369.2" y="524.4" width="2.6" height="1.2" fill="#aaa"/>
<rect x="369.2" y="528.4" width="2.6" height="1.2" fill="#aaa"/>
<rect x="375.7" y="535.5" width="2.6" height="1.2" fill="#aaa"/>
<rect x="379.7" y="535.5" width="2.6" height="1.2" fill="#aaa"/>
<rect x="383.7" y="535.5" width="2.6" height="1.2" fill="#aaa"/>
<rect x="402.7" y="535.5" width="2.6" height="1.2" fill="#aaa"/>
<rect x="411.7" y="535.5" width="2.6" height="1.2" fill="#aaa"/>
<rect x="420.7" y="535.5" width="2.6" height="1.2" fill="#aaa"/>
<text x="360.7" y="531.1" font-size="6.8" fill="#2a2a2a" stroke="#2a2a2a" stroke-width="0.3" textLength="16.4" lengthAdjust="spacingAndGlyphs" transform="rotate(-90 360.7 531.1)">FcεRI</text>
<text x="376" y="550.7" font-size="6.8" fill="#2a2a2a" stroke="#2a2a2a" stroke-width="0.3" textLength="51" lengthAdjust="spacingAndGlyphs">CD172a (SIRPα)</text>
<path d="M402.3,489.6 C404,484 409,481.2 414.6,481.2 C425,481.5 435,486.5 441.2,491.8" fill="none" stroke="#222" stroke-width="1.15" stroke-dasharray="1.7 1.3"/>
<path d="M443.5,494.2 L438.0,492.8 L441.5,488.9 Z" fill="#222"/>
<path d="M510.5,421.8h0.7M468.1,455.6h0.7M498.5,432.4h0.7M468.7,410.6h0.7M506.5,452.3h0.7M487.1,438.4h0.7M471.5,456.5h0.7M486.8,420.4h0.7M468.9,430.4h0.7M511.8,412.5h0.7M505.7,448.7h0.7M468.8,454.7h0.7M507.7,414.1h0.7M468.2,441.3h0.7M475.9,416.4h0.7M481.1,431.0h0.7M482.0,439.9h0.7M517.4,446.1h0.7M509.9,446.4h0.7M496.8,441.5h0.7M484.3,444.1h0.7M516.5,435.4h0.7M508.7,420.4h0.7M503.4,431.8h0.7M505.6,436.9h0.7M488.8,432.9h0.7M482.1,446.9h0.7M476.9,418.4h0.7M469.8,452.6h0.7M483.7,424.1h0.7M508.9,424.7h0.7M510.5,447.5h0.7M517.0,417.3h0.7M467.7,453.8h0.7M501.6,447.4h0.7M467.3,420.1h0.7M511.0,448.3h0.7M482.7,412.7h0.7M512.6,430.5h0.7M514.9,439.7h0.7M474.7,412.0h0.7M468.2,439.6h0.7M481.8,415.6h0.7M507.4,413.5h0.7M479.2,432.9h0.7M501.0,435.8h0.7M494.0,454.9h0.7M513.5,428.7h0.7M511.9,425.2h0.7M511.5,423.1h0.7M491.8,427.9h0.7M515.8,431.3h0.7M493.8,446.0h0.7M493.3,421.8h0.7M479.0,440.8h0.7M508.5,414.4h0.7M513.3,428.9h0.7M517.0,446.7h0.7M517.3,446.2h0.7M476.3,437.8h0.7M513.0,455.9h0.7M509.4,455.2h0.7M504.4,438.4h0.7M497.9,436.7h0.7M497.9,448.8h0.7M495.5,413.2h0.7M504.6,452.4h0.7M478.1,429.8h0.7M476.9,420.8h0.7M509.3,425.7h0.7M496.1,451.6h0.7M468.3,452.3h0.7M473.2,426.9h0.7M493.1,444.3h0.7M517.1,440.7h0.7M493.3,437.0h0.7M501.0,419.2h0.7M485.9,443.7h0.7M477.6,444.7h0.7M505.3,429.7h0.7M512.2,415.5h0.7M476.7,454.6h0.7M479.4,455.4h0.7M497.5,440.5h0.7M506.3,441.8h0.7M513.6,457.0h0.7M511.4,446.7h0.7M470.5,452.5h0.7M509.5,411.7h0.7M494.6,448.3h0.7M496.6,445.6h0.7M473.2,414.9h0.7M489.4,411.6h0.7M475.9,418.6h0.7M472.5,412.0h0.7M489.2,410.7h0.7M516.6,453.8h0.7M470.2,421.7h0.7M507.9,423.2h0.7M504.3,441.7h0.7M502.3,439.7h0.7M493.2,436.3h0.7M467.6,445.8h0.7M474.3,417.5h0.7M474.8,446.0h0.7M511.3,432.9h0.7M494.1,447.4h0.7M504.4,443.7h0.7M505.2,431.7h0.7M517.1,420.2h0.7M486.8,429.3h0.7M508.5,415.8h0.7M512.8,441.6h0.7M497.0,417.9h0.7M474.9,420.5h0.7M484.4,440.0h0.7M516.9,420.9h0.7M483.3,420.2h0.7M511.4,412.3h0.7M506.2,450.8h0.7M486.0,450.7h0.7M498.0,427.0h0.7M494.7,426.6h0.7M480.2,418.2h0.7M479.0,431.8h0.7M479.3,426.1h0.7M476.3,421.2h0.7M509.0,441.5h0.7M495.5,451.6h0.7M491.4,438.0h0.7M515.2,417.1h0.7M513.2,437.5h0.7M508.3,416.6h0.7M500.9,452.9h0.7M482.2,445.5h0.7M515.4,438.7h0.7M514.2,413.7h0.7M500.0,412.5h0.7M491.2,411.7h0.7M494.7,453.5h0.7M490.4,454.2h0.7M475.4,418.1h0.7M517.2,429.3h0.7M483.5,453.8h0.7M473.1,456.5h0.7M476.4,434.4h0.7M497.2,450.5h0.7M498.1,441.1h0.7M505.4,411.6h0.7M475.6,427.5h0.7" stroke="#8890c0" stroke-width="0.7" stroke-opacity="0.45"/>
<path d="M479.4,425.8h0.7M483.8,423.0h0.7M478.6,421.1h0.7M483.8,423.2h0.7M471.4,425.6h0.7M479.4,426.3h0.7M472.9,421.8h0.7M477.6,421.6h0.7M481.7,428.8h0.7M482.7,425.0h0.7M477.2,424.4h0.7M481.2,419.3h0.7M484.9,429.0h0.7M480.8,424.4h0.7M478.6,430.5h0.7M478.0,422.4h0.7M476.5,422.8h0.7M489.8,420.6h0.7M480.6,420.3h0.7M484.0,419.6h0.7M478.0,422.8h0.7M484.4,422.0h0.7M483.7,424.2h0.7M482.9,425.9h0.7M481.9,421.0h0.7M472.2,427.4h0.7M473.8,426.1h0.7M479.6,423.2h0.7M479.7,423.8h0.7M482.5,424.9h0.7M473.2,426.2h0.7M476.0,423.5h0.7M482.7,429.5h0.7M476.2,418.6h0.7M480.8,419.4h0.7M482.0,422.0h0.7M480.3,425.7h0.7M475.9,429.2h0.7M483.9,424.7h0.7M486.6,425.0h0.7M482.2,422.6h0.7M473.2,429.2h0.7M476.0,422.0h0.7M474.9,424.6h0.7M478.0,419.0h0.7M485.5,428.1h0.7M480.8,427.5h0.7M477.8,420.9h0.7M477.0,419.6h0.7M486.6,428.3h0.7M481.3,422.5h0.7M477.8,419.1h0.7M475.1,423.5h0.7M477.6,420.7h0.7M482.2,421.3h0.7M483.7,425.5h0.7M480.8,421.5h0.7M487.1,420.3h0.7M480.6,419.4h0.7M484.7,423.9h0.7" stroke="#5a8aa0" stroke-width="0.7" stroke-opacity="0.5"/>
<path d="M502.7,440.8h0.7M508.1,433.8h0.7M504.5,436.0h0.7M503.1,433.3h0.7M507.1,441.7h0.7M497.8,435.2h0.7M495.6,434.7h0.7M512.2,435.6h0.7M500.5,433.9h0.7M508.7,438.5h0.7M500.6,439.4h0.7M508.7,441.4h0.7M500.5,436.1h0.7M498.1,441.9h0.7M503.9,437.5h0.7M510.0,440.1h0.7M502.0,439.9h0.7M505.9,443.3h0.7M499.1,435.7h0.7M511.2,434.2h0.7M505.1,429.6h0.7M503.9,436.0h0.7M501.2,440.1h0.7M509.5,437.3h0.7M500.7,430.2h0.7M503.0,437.5h0.7M508.4,430.4h0.7M502.0,431.8h0.7M497.9,449.4h0.7M504.0,432.8h0.7M500.6,439.0h0.7M508.7,439.7h0.7M500.3,438.0h0.7M503.2,438.3h0.7M503.5,439.8h0.7M501.3,432.0h0.7M501.1,433.8h0.7M498.1,431.9h0.7M502.7,435.1h0.7M505.1,441.9h0.7M509.7,435.1h0.7M502.7,438.6h0.7M508.9,434.1h0.7M502.7,441.2h0.7M508.8,440.5h0.7M501.9,440.3h0.7M503.5,438.4h0.7M503.0,432.0h0.7M499.7,441.1h0.7M508.0,436.3h0.7M504.2,435.5h0.7M503.7,440.2h0.7M501.6,437.7h0.7M498.5,430.5h0.7M503.2,438.4h0.7M500.9,435.8h0.7M502.4,435.7h0.7M494.4,434.5h0.7M506.8,434.1h0.7M503.4,442.4h0.7M500.8,436.2h0.7M508.3,440.6h0.7M501.4,438.9h0.7M504.1,440.5h0.7M508.5,440.5h0.7M498.5,434.2h0.7M505.6,435.1h0.7M504.4,434.3h0.7M502.6,440.0h0.7M506.4,433.2h0.7M496.0,433.7h0.7M500.6,441.0h0.7M502.0,438.5h0.7M512.5,432.4h0.7M508.1,431.8h0.7M508.1,431.4h0.7M499.0,437.3h0.7M501.1,444.1h0.7M502.7,439.4h0.7M509.0,438.1h0.7M500.0,446.8h0.7M506.4,441.4h0.7M509.2,430.8h0.7M502.4,440.1h0.7M504.9,435.1h0.7M500.0,431.6h0.7M500.3,439.2h0.7M503.0,430.5h0.7M504.1,441.2h0.7M505.5,436.6h0.7M507.7,439.5h0.7M501.0,433.1h0.7M507.2,434.3h0.7M504.8,438.9h0.7M504.8,437.1h0.7M511.1,435.3h0.7M505.2,433.9h0.7M512.3,435.5h0.7M501.3,439.5h0.7M503.5,435.8h0.7M509.9,433.0h0.7M503.2,434.7h0.7M501.6,443.1h0.7M504.9,438.4h0.7M500.6,432.6h0.7M503.1,440.7h0.7M500.6,435.0h0.7M503.9,444.6h0.7M502.8,442.0h0.7M502.0,431.1h0.7M500.2,429.9h0.7M504.8,439.4h0.7M507.7,435.2h0.7M501.8,432.4h0.7M502.4,431.5h0.7M495.0,442.4h0.7M501.6,437.4h0.7M504.5,440.1h0.7M507.5,432.2h0.7M501.2,428.1h0.7" stroke="#3a3a8a" stroke-width="0.7" stroke-opacity="0.6"/>
<ellipse cx="503.3" cy="436.7" rx="5" ry="6" fill="#6a70b0" fill-opacity="0.5" filter="url(#b15)"/>
<ellipse cx="480" cy="424" rx="8.8" ry="7.6" fill="none" stroke="#c03a4a" stroke-width="1.0"/>
<ellipse cx="503.3" cy="436.7" rx="8.4" ry="9.1" fill="none" stroke="#2a3a7a" stroke-width="1.0"/>
<rect x="465.5" y="408.2" width="52.6" height="50" fill="none" stroke="#222" stroke-width="1.3"/>
<line x1="456.8" y1="457.9" x2="456.8" y2="412.4" stroke="#666" stroke-width="1.15"/>
<path d="M454.7,413.4 L456.8,409.4 L458.9,413.4 Z" fill="#111"/>
<line x1="467.2" y1="466.5" x2="514.4" y2="466.5" stroke="#666" stroke-width="1.15"/>
<path d="M513.4,464.4 L517.4,466.5 L513.4,468.6 Z" fill="#111"/>
<rect x="460.5" y="409.4" width="2.6" height="1.2" fill="#aaa"/>
<rect x="460.5" y="418.4" width="2.6" height="1.2" fill="#aaa"/>
<rect x="460.5" y="442.4" width="2.6" height="1.2" fill="#aaa"/>
<rect x="460.5" y="446.4" width="2.6" height="1.2" fill="#aaa"/>
<rect x="460.5" y="450.4" width="2.6" height="1.2" fill="#aaa"/>
<rect x="468.7" y="460.3" width="2.6" height="1.2" fill="#aaa"/>
<rect x="471.7" y="460.3" width="2.6" height="1.2" fill="#aaa"/>
<rect x="474.7" y="460.3" width="2.6" height="1.2" fill="#aaa"/>
<rect x="492.7" y="460.3" width="2.6" height="1.2" fill="#aaa"/>
<rect x="502.7" y="460.3" width="2.6" height="1.2" fill="#aaa"/>
<rect x="512.7" y="460.3" width="2.6" height="1.2" fill="#aaa"/>
<text x="468" y="414.3" font-size="6.8" fill="#c24a5a" stroke="#c24a5a" stroke-width="0.15" textLength="28.6" lengthAdjust="spacingAndGlyphs">Basophils</text>
<text x="469.4" y="457" font-size="6.8" fill="#2a2a7a" stroke="#2a2a7a" stroke-width="0.15" textLength="29.5" lengthAdjust="spacingAndGlyphs">Mast cells</text>
<text x="454.2" y="457.9" font-size="6.8" fill="#2a2a2a" stroke="#2a2a2a" stroke-width="0.3" textLength="42.4" lengthAdjust="spacingAndGlyphs" transform="rotate(-90 454.2 457.9)">CD123 (IL-3R)</text>
<text x="467.7" y="479.2" font-size="6.8" fill="#2a2a2a" stroke="#2a2a2a" stroke-width="0.3" textLength="39.3" lengthAdjust="spacingAndGlyphs">CD117 (c-kit)</text>
<path d="M471.7,515.7h0.7M473.3,499.6h0.7M499.9,513.8h0.7M480.0,487.7h0.7M501.9,518.5h0.7M499.4,486.9h0.7M479.1,485.7h0.7M509.3,511.5h0.7M493.1,528.0h0.7M513.8,495.9h0.7M505.6,515.3h0.7M469.1,514.8h0.7M483.2,506.3h0.7M498.9,491.1h0.7M473.0,513.3h0.7M505.9,513.9h0.7M483.5,526.0h0.7M479.2,528.7h0.7M480.5,526.6h0.7M485.1,527.2h0.7M506.5,512.2h0.7M505.9,485.9h0.7M483.4,519.8h0.7M489.0,487.0h0.7M493.4,501.6h0.7M474.6,529.1h0.7M491.7,529.4h0.7M474.3,521.9h0.7M509.2,525.7h0.7M510.6,523.1h0.7M488.3,503.1h0.7M487.3,509.9h0.7M514.2,493.9h0.7M501.2,526.9h0.7M509.2,494.7h0.7M476.1,506.9h0.7M475.6,507.4h0.7M501.9,489.4h0.7M469.8,505.4h0.7M505.8,493.2h0.7M489.1,500.1h0.7M514.8,488.6h0.7M500.1,497.9h0.7M492.6,501.4h0.7M482.0,498.0h0.7M514.9,521.6h0.7M475.4,526.7h0.7M511.3,514.7h0.7M479.5,488.5h0.7M484.5,522.2h0.7M483.7,521.3h0.7M492.5,524.6h0.7M469.3,503.0h0.7M486.2,509.3h0.7M493.2,509.8h0.7M512.8,517.3h0.7M505.9,529.9h0.7M469.0,514.4h0.7M502.7,529.4h0.7M509.6,515.8h0.7M497.7,513.9h0.7M500.3,521.0h0.7M485.1,494.9h0.7M491.4,495.7h0.7M511.3,485.2h0.7M470.3,497.1h0.7M491.5,485.7h0.7M511.2,485.1h0.7M511.7,493.5h0.7M483.8,525.6h0.7M512.9,489.4h0.7M489.2,492.8h0.7M487.2,506.2h0.7M470.8,487.4h0.7M512.8,489.0h0.7M467.6,519.0h0.7M485.4,512.9h0.7M476.2,504.3h0.7M470.3,505.0h0.7M498.5,526.5h0.7M482.5,519.1h0.7M489.7,486.7h0.7M487.1,485.4h0.7M489.3,486.8h0.7M510.3,523.3h0.7M491.8,525.5h0.7M469.6,496.6h0.7M468.0,495.9h0.7M479.6,523.7h0.7M469.3,524.1h0.7M482.9,509.9h0.7M477.0,492.4h0.7M468.4,488.6h0.7M491.8,506.2h0.7M494.8,500.3h0.7M472.2,485.9h0.7M486.8,519.0h0.7M504.9,515.7h0.7M510.0,515.2h0.7M490.0,525.8h0.7M485.9,485.3h0.7M503.7,527.5h0.7M488.2,509.9h0.7M473.0,513.4h0.7M482.4,489.2h0.7M507.1,524.6h0.7M493.3,491.2h0.7M476.9,518.7h0.7M489.1,490.5h0.7M481.2,513.0h0.7M511.2,487.2h0.7M508.4,491.0h0.7M475.9,522.0h0.7M476.7,494.8h0.7M478.7,518.2h0.7M482.2,495.7h0.7M485.3,518.4h0.7M499.0,493.6h0.7M478.3,518.6h0.7M475.8,529.9h0.7" stroke="#8890c0" stroke-width="0.7" stroke-opacity="0.45"/>
<path d="M481.4,493.1h0.7M480.9,493.4h0.7M483.9,489.4h0.7M475.8,491.0h0.7M481.9,494.3h0.7M479.7,486.8h0.7M485.6,490.1h0.7M483.3,491.6h0.7M478.5,488.2h0.7M477.3,495.0h0.7M474.5,491.9h0.7M479.6,490.3h0.7M476.6,491.8h0.7M474.1,494.7h0.7M473.2,491.4h0.7M479.5,490.4h0.7M477.3,493.5h0.7M476.1,490.1h0.7M482.9,490.2h0.7M488.8,486.7h0.7M478.2,493.6h0.7M480.3,493.9h0.7M485.4,488.3h0.7M477.7,490.9h0.7M479.6,494.1h0.7M478.7,491.5h0.7M483.5,491.9h0.7M476.6,493.6h0.7M478.9,491.5h0.7M485.5,495.1h0.7M484.6,491.6h0.7M489.0,495.1h0.7M483.6,496.0h0.7M477.3,489.8h0.7M474.9,487.4h0.7M482.3,489.7h0.7M484.9,492.9h0.7M476.3,491.1h0.7M485.8,491.2h0.7M482.1,494.5h0.7M488.0,490.2h0.7M478.4,490.6h0.7M480.7,483.2h0.7M481.8,488.4h0.7M483.4,491.8h0.7M486.5,484.1h0.7M481.4,487.7h0.7M481.4,495.4h0.7M484.4,492.1h0.7M481.6,492.7h0.7M473.4,492.6h0.7M477.7,493.3h0.7M480.6,490.1h0.7M481.7,486.8h0.7M478.0,488.3h0.7M478.5,490.9h0.7M480.8,490.2h0.7M482.2,491.4h0.7M483.8,496.6h0.7M481.1,491.8h0.7M487.7,491.4h0.7M478.3,492.8h0.7M477.6,493.4h0.7M477.5,491.5h0.7M489.6,491.8h0.7M483.5,494.1h0.7M492.0,493.0h0.7M479.3,488.9h0.7M483.0,496.6h0.7M475.9,494.8h0.7M478.8,492.1h0.7M483.4,493.6h0.7M484.2,491.7h0.7M476.3,491.2h0.7M485.0,490.2h0.7M484.1,495.7h0.7M483.5,489.9h0.7M479.6,491.9h0.7M476.2,494.1h0.7M477.7,489.4h0.7" stroke="#2a3aa0" stroke-width="0.7" stroke-opacity="0.65"/>
<ellipse cx="480.5" cy="492.5" rx="4" ry="2.5" fill="#2a3aa0" fill-opacity="0.8" filter="url(#b10)"/>
<path d="M507.9,512.0h0.7M505.7,505.8h0.7M506.4,515.4h0.7M508.1,504.7h0.7M507.4,506.0h0.7M507.1,503.8h0.7M507.2,519.9h0.7M505.5,524.7h0.7M507.6,516.7h0.7M505.8,505.5h0.7M507.0,515.9h0.7M502.5,505.2h0.7M506.6,508.0h0.7M508.0,527.9h0.7M502.9,511.4h0.7M509.1,510.8h0.7M505.5,501.8h0.7M504.3,505.0h0.7M507.5,514.8h0.7M504.6,501.8h0.7M504.9,505.3h0.7M510.4,525.0h0.7M504.4,504.5h0.7M507.9,514.7h0.7M509.5,512.3h0.7M504.4,505.7h0.7M503.5,514.9h0.7M502.2,510.4h0.7M506.3,503.7h0.7M505.1,510.3h0.7M509.5,514.1h0.7M509.4,506.4h0.7M502.7,491.9h0.7M503.0,504.6h0.7M507.3,511.2h0.7M509.1,509.0h0.7M502.2,515.8h0.7M505.0,513.1h0.7M511.4,505.8h0.7M507.9,510.5h0.7M506.6,506.0h0.7M506.2,510.1h0.7M508.9,504.5h0.7M503.8,512.7h0.7M508.2,507.4h0.7M505.1,500.0h0.7M502.7,517.8h0.7M509.1,520.9h0.7M508.0,506.4h0.7M504.9,506.4h0.7M502.5,515.8h0.7M507.3,508.7h0.7M502.7,515.0h0.7M501.9,504.3h0.7M506.2,519.8h0.7M504.4,503.5h0.7M503.2,520.2h0.7M503.1,511.6h0.7M505.5,511.5h0.7M506.1,505.6h0.7M502.9,513.3h0.7M508.7,524.0h0.7M508.4,520.3h0.7M507.2,506.0h0.7M507.7,511.0h0.7M506.7,516.3h0.7M507.9,515.2h0.7M503.8,517.8h0.7M504.9,517.4h0.7M506.8,503.0h0.7M506.9,508.9h0.7M506.6,494.4h0.7M506.6,521.7h0.7M507.4,520.6h0.7M509.7,505.3h0.7M506.8,512.8h0.7M505.8,512.2h0.7M501.1,516.1h0.7M508.7,513.2h0.7M506.4,496.9h0.7M504.9,510.7h0.7M504.3,503.4h0.7M505.4,513.3h0.7M507.3,518.6h0.7M506.7,519.8h0.7M504.5,506.0h0.7M508.5,518.2h0.7M506.7,523.2h0.7M504.3,520.7h0.7M506.4,506.2h0.7M507.1,492.9h0.7M505.9,521.7h0.7M502.1,509.1h0.7M502.1,500.7h0.7M503.5,508.2h0.7M508.0,512.9h0.7M504.8,505.5h0.7M505.4,512.5h0.7M504.2,507.1h0.7M508.4,518.0h0.7M504.6,510.5h0.7M507.2,508.6h0.7M510.2,504.7h0.7M507.2,510.1h0.7M506.8,507.4h0.7M504.6,499.4h0.7M505.8,515.6h0.7M503.9,512.0h0.7M507.3,507.0h0.7M507.7,516.0h0.7M504.5,512.8h0.7M503.2,511.9h0.7M502.8,503.0h0.7M511.4,508.7h0.7M507.0,515.7h0.7M509.9,506.2h0.7M504.1,514.3h0.7M508.5,517.6h0.7M507.8,503.6h0.7M508.6,511.0h0.7M507.1,508.0h0.7M504.8,517.0h0.7M505.8,498.3h0.7M509.5,522.8h0.7M507.1,518.4h0.7M506.4,525.4h0.7M507.6,518.7h0.7M507.5,513.1h0.7M506.2,501.8h0.7M506.7,529.6h0.7" stroke="#3a3a8a" stroke-width="0.7" stroke-opacity="0.6"/>
<ellipse cx="506" cy="511" rx="2.5" ry="9" fill="#6a70b0" fill-opacity="0.5" filter="url(#b15)"/>
<ellipse cx="480.5" cy="493.3" rx="9.3" ry="7.5" fill="none" stroke="#c03a4a" stroke-width="1.0"/>
<ellipse cx="506.2" cy="511.4" rx="5.9" ry="16.4" fill="none" stroke="#2a3a7a" stroke-width="1.0" transform="rotate(8 506.2 511.4)"/>
<rect x="465.5" y="483.6" width="51.9" height="47.8" fill="none" stroke="#222" stroke-width="1.3"/>
<line x1="456.8" y1="532" x2="456.8" y2="487" stroke="#666" stroke-width="1.15"/>
<path d="M454.7,488 L456.8,484 L458.9,488 Z" fill="#111"/>
<line x1="467.2" y1="542.4" x2="514.4" y2="542.4" stroke="#666" stroke-width="1.15"/>
<path d="M513.4,540.3 L517.4,542.4 L513.4,544.5 Z" fill="#111"/>
<rect x="460.5" y="484.4" width="2.6" height="1.2" fill="#aaa"/>
<rect x="460.5" y="493.4" width="2.6" height="1.2" fill="#aaa"/>
<rect x="460.5" y="517.4" width="2.6" height="1.2" fill="#aaa"/>
<rect x="460.5" y="521.4" width="2.6" height="1.2" fill="#aaa"/>
<rect x="460.5" y="525.4" width="2.6" height="1.2" fill="#aaa"/>
<rect x="468.7" y="535.5" width="2.6" height="1.2" fill="#aaa"/>
<rect x="471.7" y="535.5" width="2.6" height="1.2" fill="#aaa"/>
<rect x="474.7" y="535.5" width="2.6" height="1.2" fill="#aaa"/>
<rect x="492.7" y="535.5" width="2.6" height="1.2" fill="#aaa"/>
<rect x="502.7" y="535.5" width="2.6" height="1.2" fill="#aaa"/>
<rect x="512.7" y="535.5" width="2.6" height="1.2" fill="#aaa"/>
<text x="467.2" y="506.6" font-size="6.8" fill="#c24a5a" stroke="#c24a5a" stroke-width="0.15" textLength="28.5" lengthAdjust="spacingAndGlyphs">Basophils</text>
<text x="469.8" y="527.3" font-size="6.8" fill="#2a2a7a" stroke="#2a2a7a" stroke-width="0.15" textLength="30.2" lengthAdjust="spacingAndGlyphs">Mast cells</text>
<text x="454.2" y="532" font-size="6.8" fill="#2a2a2a" stroke="#2a2a2a" stroke-width="0.3" textLength="42.4" lengthAdjust="spacingAndGlyphs" transform="rotate(-90 454.2 532)">CD123 (IL-3R)</text>
<text x="468.4" y="550.7" font-size="6.8" fill="#2a2a2a" stroke="#2a2a2a" stroke-width="0.3" textLength="38.9" lengthAdjust="spacingAndGlyphs">CD117 (c-kit)</text>
</g>
</svg>
</body></html>
